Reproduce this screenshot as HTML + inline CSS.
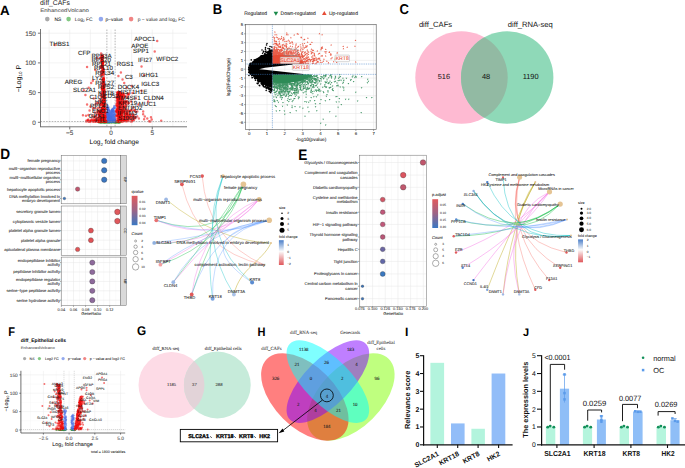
<!DOCTYPE html>
<html><head><meta charset="utf-8"><style>
html,body{margin:0;padding:0;background:#fff;width:685px;height:468px;overflow:hidden;}
svg{display:block;}
</style></head><body>
<svg width="685" height="468" viewBox="0 0 685 468" font-family="'Liberation Sans', sans-serif" text-rendering="geometricPrecision">
<rect width="685" height="468" fill="#fff"/>
<text transform="translate(0 14.6) scale(1 1)" font-size="13.4" font-weight="bold">A</text>
<text x="40.1" y="4.5" font-size="6.8" fill="#222">diff_CAFs</text>
<text x="40.2" y="11.6" font-size="5" fill="#555" textLength="48.8" lengthAdjust="spacingAndGlyphs" stroke="#555" stroke-width="0.07">EnhancedVolcano</text>
<circle cx="47.3" cy="19.1" r="2.3" fill="#a9a9a9"/>
<text x="54.5" y="20.8" font-size="4.9" fill="#222" stroke="#222" stroke-width="0.07">NS</text>
<circle cx="68.6" cy="19.1" r="2.3" fill="#83c883"/>
<text x="74.7" y="20.8" font-size="4.9" fill="#222">Log<tspan font-size="3.3" dy="1">2</tspan><tspan dy="-1"> FC</tspan></text>
<circle cx="100.9" cy="19.1" r="2.3" fill="#92a8ee"/>
<text x="105.4" y="20.8" font-size="4.9" fill="#222" stroke="#222" stroke-width="0.07">p−value</text>
<circle cx="131.1" cy="19.1" r="2.3" fill="#f08484"/>
<text x="137.7" y="20.8" font-size="4.9" fill="#222">p − value and log<tspan font-size="3.3" dy="1">2</tspan><tspan dy="-1"> FC</tspan></text>
<line x1="49.12" y1="29.5" x2="49.12" y2="126.8" stroke="#ebebeb" stroke-width="0.6"/>
<line x1="69.75" y1="29.5" x2="69.75" y2="126.8" stroke="#ebebeb" stroke-width="0.6"/>
<line x1="90.38" y1="29.5" x2="90.38" y2="126.8" stroke="#ebebeb" stroke-width="0.6"/>
<line x1="111" y1="29.5" x2="111" y2="126.8" stroke="#ebebeb" stroke-width="0.6"/>
<line x1="131.62" y1="29.5" x2="131.62" y2="126.8" stroke="#ebebeb" stroke-width="0.6"/>
<line x1="152.25" y1="29.5" x2="152.25" y2="126.8" stroke="#ebebeb" stroke-width="0.6"/>
<line x1="172.88" y1="29.5" x2="172.88" y2="126.8" stroke="#ebebeb" stroke-width="0.6"/>
<line x1="40.5" y1="122.3" x2="187" y2="122.3" stroke="#ebebeb" stroke-width="0.6"/>
<line x1="40.5" y1="107.45" x2="187" y2="107.45" stroke="#ebebeb" stroke-width="0.6"/>
<line x1="40.5" y1="92.6" x2="187" y2="92.6" stroke="#ebebeb" stroke-width="0.6"/>
<line x1="40.5" y1="77.75" x2="187" y2="77.75" stroke="#ebebeb" stroke-width="0.6"/>
<line x1="40.5" y1="62.9" x2="187" y2="62.9" stroke="#ebebeb" stroke-width="0.6"/>
<line x1="40.5" y1="48.05" x2="187" y2="48.05" stroke="#ebebeb" stroke-width="0.6"/>
<line x1="40.5" y1="33.2" x2="187" y2="33.2" stroke="#ebebeb" stroke-width="0.6"/>
<line x1="106.88" y1="29.5" x2="106.88" y2="126.8" stroke="#888" stroke-width="0.6" stroke-dasharray="1.6,1.2"/>
<line x1="115.12" y1="29.5" x2="115.12" y2="126.8" stroke="#888" stroke-width="0.6" stroke-dasharray="1.6,1.2"/>
<path d="M106.02 122.05h0M101.92 121.73h0M117.85 122.02h0M111.01 121.66h0M118.14 121.87h0M115.82 121.87h0M101.76 121.94h0M110.89 121.82h0M98.7 122.1h0M101.16 122.18h0M105.78 121.79h0M111.36 121.54h0M116.88 121.95h0M103.35 122.07h0M99.7 121.85h0M99 122.01h0M114.97 121.98h0M118.8 122.28h0M105.18 122.18h0M105.27 121.57h0M115.87 122.26h0M108.44 121.99h0M113.25 121.53h0M104.6 122.21h0M108.96 122.1h0M102.65 121.64h0M111.76 122.08h0M114.03 121.74h0M104.39 122.14h0M113.61 122.11h0M103.56 121.87h0M110.37 121.96h0M113.91 121.98h0M116.3 122.28h0M110.73 121.76h0M107.26 122.02h0M100.36 122.14h0M107.31 122.29h0M98.66 121.73h0M109.72 122.11h0M98.71 121.93h0M103.32 121.55h0M101.52 122.14h0M112.03 121.62h0M105.28 122.12h0M103.87 122.09h0M118.58 122.11h0" stroke="#228b22" stroke-width="2.6" stroke-linecap="round" stroke-opacity="0.6" fill="none"/>
<path d="M114.05 121.92h0M107.28 121.64h0M101.07 122.13h0M112.22 121.72h0M103.11 122.2h0M99.61 121.62h0M119.06 121.85h0M103.06 122.19h0M111.66 121.91h0M109.71 122.08h0M99.06 121.88h0M103.87 122.07h0M99.7 121.76h0M101.68 122.07h0M115 122.22h0M105.01 121.62h0M109.78 122.11h0M101.68 121.74h0M116.43 122.2h0M102.53 121.89h0M110.78 121.69h0M110.6 121.82h0M113.43 122.09h0M113.85 121.77h0M119.09 122.29h0M109.33 122.01h0M99.63 121.85h0M118.45 121.67h0M103.21 122.21h0M99.66 121.97h0M102.55 121.93h0M100.18 122.28h0M117.3 122.15h0M106.7 121.93h0M114.95 122.13h0M119.68 122.29h0M105.01 121.64h0M112.57 121.61h0M109.61 121.6h0M108.41 122.25h0M118.55 122.25h0M109.17 121.96h0M104.93 122.25h0M109.65 122.09h0M106.59 121.73h0M101.36 122h0M116.65 122.06h0" stroke="#228b22" stroke-width="2.6" stroke-linecap="round" stroke-opacity="0.6" fill="none"/>
<path d="M114.77 122.18h0M103.83 122.11h0M115.77 122.1h0M120.39 122.07h0M105.93 122.19h0M111.9 121.96h0M108.85 121.83h0M98.9 121.66h0M118.71 122.14h0M108.77 121.77h0M118.84 121.58h0M108.61 121.91h0M103.58 121.62h0M112.01 122.09h0M108.08 122.25h0M98.93 121.8h0M104.25 122.26h0M108.82 121.9h0M105.21 121.72h0M110.61 121.91h0M99.75 121.88h0M114.3 121.61h0M101.9 122.25h0M112.26 122h0M105.77 121.86h0M100.02 122.08h0M105.39 121.65h0M105.96 121.86h0M103.95 122.13h0M103.1 121.77h0M117.94 122.07h0M117.39 122.04h0M109.4 121.88h0M111.74 122.19h0M108.44 122.07h0M119.74 122.27h0M117.36 121.58h0M101.02 121.66h0M118.12 122.26h0M106.66 121.98h0M119.67 121.92h0M107.01 121.62h0M117.43 121.92h0M110.46 121.91h0M102.31 121.53h0M106.91 121.77h0" stroke="#228b22" stroke-width="2.6" stroke-linecap="round" stroke-opacity="0.6" fill="none"/>
<path d="M111.28 117.64h0M109.76 115.97h0M114.72 107.67h0M112.25 120.31h0M109.65 120.52h0M109.13 117.1h0M107.15 106.88h0M109.6 120.2h0M107.71 119.02h0M113.61 120.28h0M108.84 121.3h0M112.27 110.33h0M114.43 106.16h0M107.75 113.93h0M110.29 112.69h0M108.6 117.49h0M111.47 115.8h0M109.27 120.99h0M111.62 114.04h0M114.67 120.75h0M114.95 118.32h0M108.1 119.86h0M114.64 120.34h0M110.66 120.13h0M112.66 112.45h0M110.18 112.93h0M107.69 115.77h0M110.46 113.42h0M114.54 118.79h0M109.38 120.6h0M107.37 105.76h0M110.3 113.03h0M107.7 107.99h0M110.83 120.81h0M108.3 107.24h0M110.5 115.24h0M111.04 115.9h0M108.42 108.43h0M107.51 121.45h0M110.23 114.24h0M109.35 119.12h0M107.79 118.98h0M110.44 115.77h0M113.58 120.02h0M112.18 112.77h0M108.7 118.76h0M107.41 113.76h0M109.09 121.32h0M113.58 116.9h0M107.3 114.39h0M112.61 119.93h0M107.61 120.38h0M111.98 117.55h0M107.47 121.34h0M108.13 115.73h0M109.76 118.72h0M112.58 109.32h0M108.89 121.16h0M108.66 114.87h0M114.83 119.46h0M108.58 119.74h0M113.1 116.04h0M109.98 120.73h0M114.12 107.59h0M109.92 119.6h0" stroke="#4169e1" stroke-width="2.6" stroke-linecap="round" stroke-opacity="0.6" fill="none"/>
<path d="M107.89 116.09h0M110.25 121.51h0M110.3 114.6h0M108.74 120.96h0M114.86 121.17h0M108.32 118.13h0M108.03 119.05h0M113.26 119.76h0M110.37 120.27h0M113.6 108.5h0M111.9 111.23h0M112.49 114.58h0M111.83 120.95h0M113.32 121.36h0M110.14 119.84h0M114.7 114.1h0M113.46 111.51h0M113.4 110.88h0M114.03 112.01h0M107.94 114.29h0M107.69 111.18h0M111.62 119.94h0M109.78 117.25h0M110.29 119.12h0M112.18 119.4h0M112.23 110.06h0M114.9 119.88h0M111.14 117.15h0M112.11 115.46h0M109.52 118.01h0M110.45 111.97h0M112.54 121.27h0M110.81 119.47h0M108.65 110.68h0M107.15 114.11h0M114.57 120.61h0M114.24 107.74h0M109 114.37h0M108.59 115.8h0M110.74 113.09h0M109.9 120.78h0M109.06 120.86h0M110.76 118.07h0M108.79 119.07h0M108.96 114.58h0M111.35 111.6h0M107.26 115.35h0M108.48 119.76h0M111.31 115.47h0M107.56 115.74h0M111.73 119.63h0M107.73 110.76h0M109.52 117.23h0M113.29 109.1h0M112.3 121.51h0M107.07 117.32h0M108.6 110.51h0M112.23 114.66h0M114.5 121.23h0M112.8 110.63h0M107.84 108.89h0M114.53 112.12h0M109.28 120.16h0M108.3 115.71h0M113.49 120.16h0" stroke="#4169e1" stroke-width="2.6" stroke-linecap="round" stroke-opacity="0.6" fill="none"/>
<path d="M109.19 120.55h0M113.9 120.04h0M113.76 120.45h0M114.5 120.94h0M113.86 119.4h0M107.25 112.85h0M107.24 118.07h0M109.67 117.64h0M113.69 118.81h0M109.15 120.77h0M114.02 115.17h0M112.59 121.07h0M108.02 117.47h0M109.49 119.72h0M113.11 111.36h0M111.98 119.6h0M110.1 120.11h0M111.55 119.18h0M110.89 120.88h0M113.59 121.3h0M109.42 118.41h0M112.33 111.27h0M111.94 119.46h0M109.35 115.94h0M114.46 121.11h0M113.99 121.05h0M107.96 119.48h0M107.9 121.34h0M107.75 121.31h0M109.51 119.37h0M107.1 121.36h0M109.9 119.52h0M112.57 119.93h0M111.6 118.77h0M109.13 120.09h0M108.92 115.49h0M113.53 118.95h0M112.54 110.85h0M110.4 121.33h0M113.05 117.22h0M110.79 121.22h0M110.85 120.85h0M109.5 118.36h0M113.26 111.07h0M112.66 118.72h0M108.2 121.3h0M107.98 113.91h0M108.34 120.46h0M113.8 115.39h0M108.23 110.27h0M109.09 120.02h0M111.23 118.46h0M114.86 114.94h0M107.44 121.49h0M113.93 119.9h0M109.14 119.03h0M111.91 121.24h0M114.13 116.57h0M110.1 119.38h0M109.18 110.25h0M113.45 121.25h0M107.84 118.42h0M108.26 118.92h0M112.38 120.93h0M111.32 117.07h0" stroke="#4169e1" stroke-width="2.6" stroke-linecap="round" stroke-opacity="0.6" fill="none"/>
<path d="M114.85 121.18h0M110.3 112.01h0M114.72 121.12h0M114.27 120.67h0M114.58 111.58h0M111.74 120.14h0M110.22 117.42h0M109.21 113.81h0M110.37 118.26h0M113.29 119.4h0M110.51 111.17h0M109.04 121.36h0M110.14 120.69h0M111.33 116.83h0M113.99 120.66h0M114.88 120.46h0M114.8 115.29h0M112.26 109.89h0M112.56 112.23h0M111.9 120.15h0M108.07 119.02h0M111.61 121.49h0M110.53 116.44h0M111.1 119.08h0M113.42 118.05h0M111.02 114.97h0M109.77 119.91h0M114.57 118.63h0M110.54 121.13h0M110.89 116.01h0M107.83 108.48h0M110.63 114.8h0M112.68 118.41h0M113.18 109.88h0M110.96 117.04h0M110.29 119.77h0M114.04 112.93h0M112.32 109.75h0M108.64 115.77h0M109.88 120.53h0M113.92 115.88h0M108.24 113.33h0M110.85 119.69h0M111.51 119.41h0M108.19 114.99h0M111.31 111.99h0M109.9 115.56h0M111.35 118.72h0M107.33 116.95h0M107.79 113.74h0M107.17 112.95h0M111.66 113.67h0M110.82 113.03h0M107.12 114.79h0M111.43 119.51h0M108.33 119.05h0M107.16 108.25h0M109.51 119.55h0M107.68 114.85h0M112.97 115h0M111.25 120.65h0M111.6 112.08h0M109.01 117.03h0M111.25 120.74h0M109.65 110.72h0" stroke="#4169e1" stroke-width="2.6" stroke-linecap="round" stroke-opacity="0.6" fill="none"/>
<path d="M102.08 114.04h0M129.77 114.28h0M103.82 116.49h0M103.67 84.5h0M103.32 95.48h0M131.62 86.07h0M102.43 65.36h0M91.4 120.32h0M102.41 60.19h0M122.32 97.55h0M103.38 103.15h0M123.03 117.31h0M118.74 121.13h0M103.95 82.91h0M119.91 92.04h0M135.07 117.63h0M90.42 106.56h0M126.06 119.38h0M94.83 120.19h0M134.29 110.21h0M122.33 110.58h0M128.45 103.25h0M127.06 109.86h0M103.82 101.2h0M101.92 109.79h0M120 120.72h0M103.83 87.44h0M119.05 118.02h0M104.66 96.97h0M120.43 96.01h0M98.8 114.88h0M129.55 111.31h0M118.91 98.07h0M120.85 94.07h0M125.8 101.86h0M120.41 115.38h0M124.46 111.6h0M103.4 103.16h0M116.48 110.82h0M120.16 92.85h0M124.72 113.86h0M103.99 80.17h0M103.35 88.27h0M122.01 102.56h0M104.35 94.86h0M100.1 113.12h0M122.33 102.79h0M117.24 114.23h0M103.27 117.71h0M135.75 98.54h0M95.65 121.03h0M104.12 111.45h0M120.89 100.7h0M100.55 121.52h0M119.19 121.39h0M101.58 109.23h0M121.4 114.41h0M133.24 116.93h0M119.58 114.04h0M103.6 106.7h0M123.22 118.34h0M100.47 105.77h0M120.23 120.17h0M119.13 101.68h0M120.57 97.86h0M131.14 117.14h0M98.62 120.51h0M103.21 68.63h0M118.92 121.47h0M123.03 113.13h0M124.8 116.18h0M105.2 104.6h0M118.25 100.52h0M103.6 82.61h0M127.01 113.77h0M122.67 107.74h0M100.68 104.45h0M119.82 101.07h0M102.04 119.84h0M102.63 55.13h0M121.61 96.65h0M154.72 51.61h0M101.89 104.95h0M118.7 107.26h0M104.43 89.37h0M118.69 116.24h0M116.74 101.29h0M101.03 121.06h0M103.15 103.12h0M118.82 96.2h0M122.41 111.29h0M121.2 114.05h0M124.06 94.38h0M117.59 101.47h0M103.43 79.23h0M101.65 56.3h0M119.9 102.71h0M124.1 119.96h0M103.33 105.42h0M118.02 103.71h0M100.33 120.99h0M123.27 97.63h0M118.35 113.37h0M118.13 115.33h0M88.72 87.85h0M95.42 104.42h0M102 67.37h0M103.27 71.83h0M148.12 101.51h0M123.31 106.43h0M127.73 93.42h0M117.94 93.63h0M116.91 113.55h0M100.85 57.21h0M101.1 121.53h0M118.5 118.82h0M126.27 118.75h0M118.72 99.96h0M101.59 114.46h0M104.18 84.1h0M103.44 79.55h0M117.04 114.9h0M118.54 99.41h0M130.89 117.91h0M120.32 121.23h0M120.93 109h0M103.23 82.35h0M117.87 110.95h0M122.31 117.03h0M102.91 116.37h0M102.86 88.03h0M119.38 118.11h0M100.7 121.52h0M102 121.45h0M102.86 63.56h0M117.42 97.59h0M129.49 116.69h0M120.73 99.77h0M100.79 121.08h0M122.33 120h0M104.67 97.91h0M105.56 121.49h0M102.53 111.65h0M103.09 62.41h0M123.15 111.77h0M121.75 103.65h0M105.16 117.82h0M104.59 106.78h0M121.06 101.42h0M104 110.78h0M104.64 118.3h0M125.07 120.87h0M92.28 115.52h0M118.55 120.84h0M117.11 111.36h0M123.87 98.07h0M117.79 100.14h0M119.71 118.39h0M102.33 108.16h0" stroke="#ee0000" stroke-width="2.5" stroke-linecap="round" stroke-opacity="0.55" fill="none"/>
<path d="M102.68 77.91h0M116.92 111.42h0M147.27 118.45h0M104.45 102.52h0M121.67 115.17h0M99.64 111.69h0M99.54 121.51h0M117.87 92.98h0M123.15 109.74h0M118.7 120.23h0M90.22 120.78h0M125.44 113.03h0M103.44 84.64h0M99.91 121.37h0M122.34 102.42h0M101.1 53.4h0M101.72 93.51h0M119.12 96.26h0M120.14 103.53h0M131.91 109.91h0M104.7 116.04h0M102.76 68.63h0M103.88 79.4h0M150.98 117.31h0M118.65 110.6h0M118.44 113.58h0M96.97 58.15h0M106.3 121.51h0M118.2 109.47h0M104.24 96.85h0M118.41 113.7h0M130.11 118.18h0M104.77 107.98h0M120.09 107.46h0M125.8 110.61h0M93.84 120.72h0M102.75 56.37h0M103.68 90.22h0M119.35 100.48h0M54.9 45.08h0M118.95 119.68h0M88.58 121.53h0M127.73 120.5h0M118.55 119.9h0M102.4 88.86h0M100.06 119.73h0M143.18 111.61h0M103.08 82.24h0M104.4 100.06h0M116.43 121.4h0M99.11 111.33h0M100.83 113.18h0M124.09 119.84h0M117.54 115.21h0M117.3 108.12h0M102.24 63.21h0M135.42 118.15h0M104.47 115.53h0M94.79 112.52h0M101.78 74.54h0M117.4 112.12h0M104.75 120.11h0M93.84 120.66h0M118.09 107.66h0M93.74 121.09h0M127.01 121.29h0M121.41 112.29h0M118.89 99.88h0M103.98 85.64h0M99.84 58.08h0M104.64 115.69h0M100.68 104.71h0M120.56 93.17h0M120.96 120.32h0M95.23 116.23h0M126.91 113.98h0M101.71 87.17h0M101.08 103.4h0M104.1 85.49h0M87.95 120.37h0M96.16 121.19h0M101.25 116.56h0M102.46 59.51h0M104.04 84.04h0M118.42 75.97h0M99.79 100.62h0M127.39 101.75h0M103.78 92.67h0M124.49 110.36h0M120.24 113.25h0M120.81 103.4h0M103 104.76h0M122.9 93.9h0M103.9 119.76h0M127.61 94.2h0M102.67 59.74h0M101.59 99.53h0M102.22 109.66h0M102.84 111.22h0M120.05 98.99h0M118.1 92.78h0M124.62 102.18h0M121.67 104.41h0M125.95 120.16h0M118.4 115.77h0M118.03 94.04h0M103.59 105.16h0M127.2 117.32h0M105.03 113.03h0M99.53 121.18h0M122.88 104.96h0M121.92 95.7h0M118.4 99.01h0M118.78 100.7h0M105.53 116.8h0M118.83 119.6h0M93.31 121.45h0M104.83 109.46h0M106.01 121.17h0M124.2 83.1h0M143.15 114.35h0M119.53 99.2h0M100.95 111.03h0M120 107.56h0M106.05 121.16h0M103.66 107.68h0M130.79 118.5h0M125.16 116.42h0M93.88 117.27h0M102.41 60.12h0M119.86 109.19h0M104.69 91.35h0M116.95 108.92h0M121.96 98.49h0M144.79 116.62h0M128.71 103.12h0M103.16 97.07h0M98.5 117.54h0M103.53 88.88h0M122.1 94.44h0M103.43 101.01h0M96.03 121.51h0M90.21 121.3h0M117.96 117.49h0M127.59 117.44h0M138.22 104.48h0M118.65 98.24h0M119.65 116.73h0M102.85 116.6h0M118.28 120.45h0M102.32 107.63h0M102.4 118.04h0M121.95 112.67h0M102.05 82.87h0M103.35 78.55h0M122.88 106.01h0M117.92 94.3h0M117.06 92.56h0M118.26 113.8h0" stroke="#ee0000" stroke-width="2.5" stroke-linecap="round" stroke-opacity="0.55" fill="none"/>
<path d="M120.89 101.99h0M101.61 117.47h0M103.77 106.18h0M99.3 121.35h0M125.64 105.43h0M119.79 94.98h0M102.02 89.34h0M103.15 97.22h0M105.29 117.22h0M93.02 108.18h0M124.4 103.99h0M104.03 86.54h0M125.51 108.11h0M104.18 95.8h0M83.78 90.22h0M103.19 64.78h0M102.08 70.08h0M117.16 100.45h0M124.77 108.65h0M104.78 119.56h0M122.54 116.86h0M102.73 65.2h0M133.41 119.46h0M105.47 115.37h0M103.3 90.59h0M117.49 111.2h0M116.55 104.79h0M87.08 67.06h0M119.53 110.93h0M103.75 92.1h0M105.26 119.31h0M98.97 120.2h0M119.69 112h0M123.57 120.96h0M98.25 111.4h0M102.88 62.74h0M102.97 74.57h0M119.26 111.68h0M125.55 95.93h0M126.26 113.97h0M128.03 115.16h0M101.38 55.45h0M104.54 91.42h0M103.07 96.73h0M121.56 112.97h0M103.47 71.67h0M120.19 117.18h0M104.2 87.58h0M117.52 96.97h0M117.12 103.22h0M104.04 84.86h0M102.83 65.93h0M105.44 112.76h0M102.67 116.87h0M96.58 118.06h0M85.42 94.98h0M103.73 86.46h0M106.01 121.42h0M102.54 89.45h0M127.94 112.74h0M98.4 103.11h0M117.59 102.24h0M117.15 103.56h0M118.25 110.51h0M103.11 99.54h0M101.02 57.93h0M122.59 121.41h0M104.58 95.78h0M124.31 104.86h0M93.67 98.54h0M103.06 95.81h0M122.85 111.77h0M102.63 62.46h0M104.59 115.59h0M103.9 106.44h0M104.11 121.3h0M88.43 114.92h0M104.56 104.5h0M118.32 121.41h0M103.2 68.38h0M122.19 120.9h0M102.56 83.65h0M102.18 57.48h0M117.15 100.53h0M116.62 110.15h0M118.62 96.95h0M120.92 114.56h0M119.63 95.26h0M126.3 101.04h0M99.16 114.83h0M103.12 65.33h0M119.29 105.99h0M116.75 119.25h0M102.99 105.67h0M123.93 107.16h0M95.36 121.47h0M116.77 105.03h0M125.12 119.93h0M123.05 120.49h0M124.51 117.73h0M102.72 57.26h0M120.39 97.82h0M126.61 114.95h0M98.17 120.68h0M128.46 95.03h0M118.83 97.16h0M104.5 95.33h0M117.59 108.58h0M99.52 121.34h0M101.55 120.71h0M102.75 62.61h0M117.96 99.89h0M90.55 121.48h0M101.36 119.62h0M118.44 102.3h0M118.01 105.83h0M102.33 57.66h0M121.53 96.39h0M123.51 111.29h0M103.53 87.99h0M100.97 67.65h0M102.23 56.11h0M102.7 110.41h0M87.08 104.48h0M118.23 101.83h0M103.63 95.71h0M98.85 117.44h0M118.02 92.22h0M121.23 114.07h0M122.86 102.56h0M100.73 96.35h0M121.64 110.04h0M100.61 117.35h0M100.71 121.47h0M137.29 111.57h0M132.8 114.22h0M121.66 94.95h0M105.47 121.39h0M120.74 104.46h0M120.9 72.4h0M119.9 96.89h0M121.02 117.65h0M99.6 110.75h0M120.58 106.25h0M101.82 60.28h0M119.51 92.19h0M117.56 103.14h0M104.36 110.26h0M157.2 40.92h0M105.14 121.48h0M121.67 110.9h0M100.68 119.21h0M103.53 73.77h0M102.87 111.41h0M117.17 95.93h0M118.56 103.96h0M104.36 102h0M92.85 80.72h0M95.71 121.13h0" stroke="#ee0000" stroke-width="2.5" stroke-linecap="round" stroke-opacity="0.55" fill="none"/>
<path d="M122.92 94.09h0M101.16 93.89h0M103.81 78.99h0M95.33 70.03h0M119.79 118.38h0M118.24 109.21h0M103.53 78.91h0M102.8 63.08h0M101.53 60.08h0M102.37 66.92h0M118.48 94.93h0M94.78 117.24h0M116.72 97.46h0M118.64 92.63h0M120.68 97.81h0M104.28 95.87h0M102.38 109.14h0M103.95 107.02h0M93.15 121.53h0M129.28 116.78h0M128.66 118.95h0M117.12 106.09h0M120.22 96.96h0M103.55 79.79h0M98.99 107.83h0M117.21 98.72h0M123.6 95.49h0M118.25 114.91h0M103.71 109.92h0M119.43 97.36h0M117.34 96.7h0M101.82 97.22h0M101.53 118.38h0M128.64 115.39h0M103.64 81.29h0M86.19 121.53h0M102.34 56.3h0M122.13 97.45h0M89.55 110.42h0M119.52 93.46h0M118.73 116.23h0M131.74 120.75h0M104.14 117.76h0M103.55 104.74h0M101.5 93.2h0M134.82 116.63h0M100.03 113.65h0M101.79 59.13h0M122.02 93.73h0M103.29 120.85h0M124.03 111.86h0M103.21 80.2h0M89.08 121.42h0M101.54 116.48h0M124.46 121.02h0M101.98 86.54h0M102.47 63.22h0M122.88 104.61h0M123.33 93.27h0M97.46 108.15h0M103.23 104.94h0M121.72 120.57h0M101.44 110.07h0M126.53 97.36h0M135.69 111.99h0M100.88 117.38h0M103.43 119.44h0M106.08 121.25h0M125.14 116.13h0M102.61 118.62h0M138.88 118.61h0M133.28 107.45h0M94.97 120.62h0M94.76 121.37h0M102.64 102.4h0M103.04 80.9h0M95.71 120.71h0M99.87 121.3h0M127.65 118.77h0M102.13 118.36h0M119.39 120.78h0M101.23 113.21h0M130.02 110.74h0M104.46 115.73h0M93.58 119.52h0M120.77 104.13h0M104.56 106.53h0M102.05 73.07h0M120.67 118.21h0M101.34 67.49h0M124.48 101.13h0M127.11 117.54h0M119.76 95.11h0M102.18 66.24h0M102.92 104.76h0M102.77 102.31h0M129.61 115.28h0M103.23 70.64h0M102.7 114.83h0M121.22 98.26h0M103.88 88.54h0M122.49 110.37h0M105.39 109.25h0M121.86 115.13h0M103.14 103.28h0M99.39 120.67h0M126.49 121.08h0M103.27 91.25h0M121.94 111.41h0M103.49 79.94h0M125.58 121.3h0M96.19 116.3h0M126.62 112.51h0M104.18 121.14h0M121.22 120.34h0M127.2 119.23h0M103.48 106.02h0M131.08 101.59h0M102.64 64.22h0M132.54 93.05h0M119.57 111.21h0M99.38 114.8h0M123.96 102.22h0M100.73 71.71h0M117.87 121.25h0M103.62 79.5h0M119.3 119.96h0M104.88 102.32h0M118.72 103.02h0M103.11 116.01h0M102.82 57.82h0M105.09 111.9h0M95.78 120.29h0M103.11 93.22h0M103.06 121.49h0M98.46 121.41h0M105.14 120.69h0M117.63 112.67h0M104.78 92.46h0M104.19 98.17h0M128.99 116.97h0M103.59 93.62h0M118.21 97.17h0M119.3 114.47h0M102.05 90.82h0M103.35 69.01h0M102.24 57.71h0M88.03 120.93h0M104.66 105.3h0M97.52 121.49h0M119.03 117.42h0M101.65 115.36h0M122.55 79.53h0M123.19 111.53h0M121.56 99.22h0M118.02 109.26h0M102.29 84.6h0M123.8 119.16h0M149.06 121.36h0" stroke="#ee0000" stroke-width="2.5" stroke-linecap="round" stroke-opacity="0.55" fill="none"/>
<path d="M102.24 60.5h0M104.6 100.12h0M103.26 70.34h0M102.7 115.94h0M100.62 120.01h0M118.71 95.55h0M103.76 105.57h0M126.17 102.06h0M101.23 116.85h0M98.9 110.83h0M116.79 97.86h0M119.86 94.17h0M103.4 114.98h0M125.11 117.41h0M102.51 118.02h0M119.31 105.45h0M122.46 119.71h0M132.57 118.73h0M100.32 120.59h0M117.24 98.36h0M102.28 59.78h0M99.14 115.98h0M104.29 121.49h0M97.3 119.52h0M122.29 119.82h0M103.04 92.67h0M117.23 116.25h0M102.97 101.86h0M118.27 96h0M119.14 121.21h0M103.38 79.59h0M121.07 121.28h0M102.82 62.04h0M102.66 92.68h0M103.8 86.61h0M120.86 103.35h0M133.12 116.31h0M117.46 108.75h0M118.13 96.03h0M118.18 102.5h0M102.8 72.6h0M103.59 101.96h0M127.99 118.1h0M102.58 58.76h0M117.8 94.18h0M118.66 106h0M121.28 121.12h0M103.63 109.37h0M117.86 111.75h0M119.15 98.54h0M102.39 121.5h0M91.15 121.04h0M102.88 72.22h0M104.64 118.62h0M82.95 115.17h0M103.54 116.33h0M105.89 121.52h0M100.2 121.28h0M144.1 119.22h0M117.93 106.32h0M122.8 100.56h0M103.61 87.39h0M132.64 120.11h0M97.59 112.33h0M122.67 107.86h0M103.9 121.37h0M103.96 109.65h0M100.48 121h0M103.65 119.2h0M96.71 119.51h0M119.84 115.65h0M122.34 95.74h0M117.5 109.37h0M103.63 93.53h0M103.96 113.2h0M95.2 120.58h0M118.58 106.23h0M100.58 66.39h0M141.53 90.82h0M117.56 93.24h0M119.63 92.24h0M97.77 111.25h0M119.77 114.86h0M119.34 117.14h0M120.62 111.4h0M104.02 95.64h0M127.91 110.9h0M104.15 96.44h0M117.38 109.43h0M105.11 108.91h0M104.55 116.59h0M125.5 107.13h0M101.47 101.57h0M100.48 121.44h0M120.57 118.39h0M120.08 93.12h0M118.9 97.46h0M101.02 117.72h0M103.8 82.12h0M103.21 112.06h0M104.82 115.26h0M121.31 113.61h0M122.59 111.9h0M102.78 72.2h0M103.34 92.26h0M103.59 90.34h0M98.84 121.38h0M104.66 100.64h0M104.55 95.15h0M103.11 87.09h0M144 75.37h0M103.74 99.19h0M101.97 108.75h0M101.52 108.03h0M119 95.23h0M99.06 114.72h0M119.84 114.03h0M119.54 96.69h0M118.38 111.45h0M141.53 66.46h0M120.14 94.42h0M117.62 96.5h0M101.95 108.1h0M122.9 121.28h0M88.3 119.56h0M103.61 78.28h0M102.33 102.65h0M103.68 106.84h0M125.64 102.94h0M118.17 121.42h0M100.1 117.41h0M151.71 119.39h0M97 102.93h0M101.63 102.23h0M117.78 114.95h0M118.15 100.48h0M101.97 117.81h0M102.35 71.12h0M118.44 110.21h0M118.74 108.37h0M103.92 100.38h0M100.71 75.75h0M103.26 89.83h0M118.93 108.34h0M118.21 111.79h0M104.7 112.79h0M103.38 105.22h0M101.76 118.01h0M104.37 99.78h0M121.69 120.75h0M118.33 101.15h0M101.52 121.18h0M100.52 112.04h0M101.65 88.8h0M119.76 107.04h0M118.5 114.5h0M91.74 119.24h0M133.9 120.16h0" stroke="#ee0000" stroke-width="2.5" stroke-linecap="round" stroke-opacity="0.55" fill="none"/>
<path d="M118.09 115.7h0M119.31 95.5h0M118.94 98.24h0M102.74 65.75h0M116.14 116.28h0M100.52 104.59h0M118.73 108.21h0M117.11 94.81h0M103.71 84.66h0M122.29 115.69h0M100.96 120.51h0M122.06 111.25h0M103.02 90.64h0M85.98 115.63h0M133.1 115.2h0M122.73 116.01h0M134.5 110.46h0M102.07 108.8h0M102.92 69.72h0M118.06 94.47h0M120.9 96.45h0M116.87 103.64h0M132.51 115.42h0M122.23 119.7h0M122.7 119.21h0M102.47 113.33h0M103.25 79.67h0M102.96 95.06h0M101.93 102.8h0M126.99 116.15h0M118.32 118.91h0M125.14 114.14h0M102.94 68.18h0M98.27 119.55h0M121.02 109.29h0M103.46 97.13h0M103.97 91.32h0M119.59 106.6h0M105.45 119.62h0M119.02 118.06h0M104.52 98h0M119.01 115.67h0M120.25 97.76h0M126.59 104.15h0M104.82 99.04h0M103.34 73.43h0M99.35 119.77h0M128.13 97.84h0M102.85 115.87h0M125.88 106.01h0M96.65 113.82h0M150.3 121.42h0M119.2 114.52h0M102.6 88.59h0M117.63 98.52h0M103.14 93.76h0M102.82 63.21h0M91.2 83.1h0M103.79 102.45h0M103.46 117.99h0M101.4 65.91h0M103.46 100.49h0M101.23 111.24h0M101.61 110.9h0M102.93 71.98h0M104.12 84.07h0M104.18 120.27h0M100.79 61.47h0M98.39 113.6h0M97.97 121.52h0M104.28 84.49h0M102.18 79.76h0M100.97 112.51h0M120.46 97.47h0M118.95 92.77h0M102.73 101.63h0M102.36 56.18h0M120.21 101.84h0M103.43 69.91h0M101.82 65.77h0M104.61 98.57h0M117.2 106.1h0M94.44 121.03h0M118.67 105.2h0M104.74 121.52h0M94.81 108.22h0M137.18 116.54h0M123.47 102.27h0M104.2 89.38h0M103.46 74.04h0M103.29 118.94h0M104.43 95.57h0M130.6 115.46h0M122.49 115.85h0M118.85 117.6h0M118.68 93.81h0M103.2 88.89h0M99.16 112.61h0M103.05 117.55h0M123.11 107.12h0M119.43 98.23h0M104.86 118.7h0M119.35 118.39h0M103.45 86.13h0M101.98 74.63h0M121.56 121.33h0M103.35 85.53h0M129.15 93.79h0M122.38 116.14h0M119.2 98h0M102.72 109.31h0M103.48 87.05h0M103.57 116.91h0M103.27 104.36h0M117.54 94.77h0M99.48 120.64h0M116.14 111.87h0M103.94 106.21h0M128.48 120.15h0M122.32 98.88h0M103.03 119.14h0M102.66 66.05h0M121.51 113.46h0M103.72 76.08h0M131.86 121.41h0M101.83 117.4h0M130.87 121.52h0M117.82 92.48h0M103.1 68.62h0M121.77 120.52h0M126.57 113.63h0M119.17 112.63h0M122.67 99.9h0M99.29 121.14h0M103.57 117.92h0M124.6 110.3h0M130.76 110.52h0M128.59 120.98h0M102.63 61.5h0M123.99 96.4h0M103.72 88.16h0M102 96.41h0M102.46 107.98h0M103.77 77.73h0M120.36 98.55h0M121.17 99.15h0M100.94 120.05h0M96.17 120.83h0M102.94 120.68h0M93.18 120.71h0M116.8 110.31h0M116.59 105.42h0M121.62 117.98h0M86.58 120.48h0M121.76 106.68h0M126.97 115.94h0M126.67 87.85h0M161.2 120.65h0" stroke="#ee0000" stroke-width="2.5" stroke-linecap="round" stroke-opacity="0.55" fill="none"/>
<line x1="40.5" y1="121.5" x2="187" y2="121.5" stroke="#888" stroke-width="0.6" stroke-dasharray="1.6,1.2"/>
<text x="49.4" y="46.4" font-size="6.2" fill="#1a1a1a" stroke="#1a1a1a" stroke-width="0.09">THBS1</text>
<text x="78" y="55.4" font-size="6.2" fill="#1a1a1a" stroke="#1a1a1a" stroke-width="0.09">CFP</text>
<text x="91.4" y="57.6" font-size="6.2" fill="#1a1a1a" stroke="#1a1a1a" stroke-width="0.09">RPS3A</text>
<text x="91.4" y="61.6" font-size="6.2" fill="#1a1a1a" stroke="#1a1a1a" stroke-width="0.09">RPS20</text>
<text x="92" y="65.9" font-size="6.2" fill="#1a1a1a" stroke="#1a1a1a" stroke-width="0.09">RPL21</text>
<text x="94" y="70.4" font-size="6.2" fill="#1a1a1a" stroke="#1a1a1a" stroke-width="0.09">RPL10</text>
<text x="95.3" y="74.9" font-size="6.2" fill="#1a1a1a" stroke="#1a1a1a" stroke-width="0.09">RPL34</text>
<text x="92" y="80.3" font-size="6.2" fill="#1a1a1a" stroke="#1a1a1a" stroke-width="0.09">LYZ</text>
<text x="64.7" y="84.1" font-size="6.2" fill="#1a1a1a" stroke="#1a1a1a" stroke-width="0.09">AREG</text>
<text x="95.3" y="84.5" font-size="6.2" fill="#1a1a1a" stroke="#1a1a1a" stroke-width="0.09">RPL27</text>
<text x="98" y="88.6" font-size="6.2" fill="#1a1a1a" stroke="#1a1a1a" stroke-width="0.09">RPS2</text>
<text x="73" y="92.4" font-size="6.2" fill="#1a1a1a" stroke="#1a1a1a" stroke-width="0.09">SLC2A1</text>
<text x="98" y="95" font-size="6.2" fill="#1a1a1a" stroke="#1a1a1a" stroke-width="0.09">KRT8</text>
<text x="89.6" y="99.2" font-size="6.2" fill="#1a1a1a" stroke="#1a1a1a" stroke-width="0.09">C1QC</text>
<text x="94.7" y="103.6" font-size="6.2" fill="#1a1a1a" stroke="#1a1a1a" stroke-width="0.09">HK2</text>
<text x="90" y="108" font-size="6.2" fill="#1a1a1a" stroke="#1a1a1a" stroke-width="0.09">RPL41</text>
<text x="92" y="112.5" font-size="6.2" fill="#1a1a1a" stroke="#1a1a1a" stroke-width="0.09">ENO1</text>
<text x="88.5" y="118" font-size="6.2" fill="#1a1a1a" stroke="#1a1a1a" stroke-width="0.09">GPX1</text>
<text x="95" y="121.5" font-size="6.2" fill="#1a1a1a" stroke="#1a1a1a" stroke-width="0.09">FTL</text>
<text x="134.2" y="41.3" font-size="6.2" fill="#1a1a1a" stroke="#1a1a1a" stroke-width="0.09">APOC1</text>
<text x="131.3" y="48.2" font-size="6.2" fill="#1a1a1a" stroke="#1a1a1a" stroke-width="0.09">APOE</text>
<text x="133" y="53.1" font-size="6.2" fill="#1a1a1a" stroke="#1a1a1a" stroke-width="0.09">SPP1</text>
<text x="138" y="62.1" font-size="6.2" fill="#1a1a1a" stroke="#1a1a1a" stroke-width="0.09">IFI27</text>
<text x="156.3" y="61.4" font-size="6.2" fill="#1a1a1a" stroke="#1a1a1a" stroke-width="0.09">WFDC2</text>
<text x="116.8" y="65.6" font-size="6.2" fill="#1a1a1a" stroke="#1a1a1a" stroke-width="0.09">RGS1</text>
<text x="124.9" y="79.4" font-size="6.2" fill="#1a1a1a" stroke="#1a1a1a" stroke-width="0.09">C3</text>
<text x="139" y="77.4" font-size="6.2" fill="#1a1a1a" stroke="#1a1a1a" stroke-width="0.09">IGHG1</text>
<text x="141.2" y="86.4" font-size="6.2" fill="#1a1a1a" stroke="#1a1a1a" stroke-width="0.09">IGLC3</text>
<text x="117.8" y="89.4" font-size="6.2" fill="#1a1a1a" stroke="#1a1a1a" stroke-width="0.09">DOCK4</text>
<text x="117.8" y="94.2" font-size="6.2" fill="#1a1a1a" stroke="#1a1a1a" stroke-width="0.09">HIST1H1E</text>
<text x="143.5" y="100.4" font-size="6.2" fill="#1a1a1a" stroke="#1a1a1a" stroke-width="0.09">CLDN4</text>
<text x="138.6" y="106.4" font-size="6.2" fill="#1a1a1a" stroke="#1a1a1a" stroke-width="0.09">MUC1</text>
<text x="117" y="99.5" font-size="6.2" fill="#1a1a1a" stroke="#1a1a1a" stroke-width="0.09">TM4SF1</text>
<text x="118" y="104.5" font-size="6.2" fill="#1a1a1a" stroke="#1a1a1a" stroke-width="0.09">KRT19</text>
<text x="118" y="110" font-size="6.2" fill="#1a1a1a" stroke="#1a1a1a" stroke-width="0.09">ENTPD2</text>
<text x="117.5" y="115" font-size="6.2" fill="#1a1a1a" stroke="#1a1a1a" stroke-width="0.09">IFITM3</text>
<text x="118" y="119.5" font-size="6.2" fill="#1a1a1a" stroke="#1a1a1a" stroke-width="0.09">S100P</text>
<text x="103" y="97.5" font-size="6.2" fill="#1a1a1a" stroke="#1a1a1a" stroke-width="0.09">CD52</text>
<line x1="40.5" y1="29" x2="40.5" y2="127.2" stroke="#666" stroke-width="0.9"/>
<line x1="40.5" y1="126.8" x2="187" y2="126.8" stroke="#666" stroke-width="0.9"/>
<line x1="37.9" y1="122.3" x2="40.5" y2="122.3" stroke="#666" stroke-width="0.9"/>
<text x="35.9" y="124.6" font-size="6.4" text-anchor="end" fill="#4d4d4d" stroke="#4d4d4d" stroke-width="0.1">0</text>
<line x1="37.9" y1="92.6" x2="40.5" y2="92.6" stroke="#666" stroke-width="0.9"/>
<text x="35.9" y="94.9" font-size="6.4" text-anchor="end" fill="#4d4d4d" stroke="#4d4d4d" stroke-width="0.1">50</text>
<line x1="37.9" y1="62.9" x2="40.5" y2="62.9" stroke="#666" stroke-width="0.9"/>
<text x="35.9" y="65.2" font-size="6.4" text-anchor="end" fill="#4d4d4d" stroke="#4d4d4d" stroke-width="0.1">100</text>
<line x1="37.9" y1="33.2" x2="40.5" y2="33.2" stroke="#666" stroke-width="0.9"/>
<text x="35.9" y="35.5" font-size="6.4" text-anchor="end" fill="#4d4d4d" stroke="#4d4d4d" stroke-width="0.1">150</text>
<line x1="69.75" y1="126.8" x2="69.75" y2="129.4" stroke="#666" stroke-width="0.9"/>
<text x="69.75" y="135.3" font-size="6.4" text-anchor="middle" fill="#4d4d4d" stroke="#4d4d4d" stroke-width="0.1">−5</text>
<line x1="111" y1="126.8" x2="111" y2="129.4" stroke="#666" stroke-width="0.9"/>
<text x="111" y="135.3" font-size="6.4" text-anchor="middle" fill="#4d4d4d" stroke="#4d4d4d" stroke-width="0.1">0</text>
<line x1="152.25" y1="126.8" x2="152.25" y2="129.4" stroke="#666" stroke-width="0.9"/>
<text x="152.25" y="135.3" font-size="6.4" text-anchor="middle" fill="#4d4d4d" stroke="#4d4d4d" stroke-width="0.1">5</text>
<text transform="translate(20.9 78.6) rotate(-90)" font-size="7" text-anchor="middle">−Log<tspan font-size="4.6" dy="1.5">10</tspan><tspan dy="-1.5"> P</tspan></text>
<text x="114.2" y="144.4" font-size="6.6" text-anchor="middle">Log<tspan font-size="4.4" dy="1.4">2</tspan><tspan dy="-1.4"> fold change</tspan></text>
<text transform="translate(399.5 14.45) scale(0.91 1)" font-size="14.3" font-weight="bold">C</text>
<circle cx="461.5" cy="77.5" r="46.2" fill="#febad2"/>
<circle cx="507.2" cy="77.5" r="46.2" fill="#8fd9b8"/>
<clipPath id="cC"><circle cx="461.5" cy="77.5" r="46.2"/></clipPath>
<circle cx="507.2" cy="77.5" r="46.2" fill="#92baa3" clip-path="url(#cC)"/>
<text x="418.9" y="27.4" font-size="7.6" fill="#111">diff_CAFs</text>
<text x="507.8" y="27.4" font-size="7.6" fill="#111">diff_RNA-seq</text>
<text x="443.9" y="79.2" font-size="7.4" text-anchor="middle" fill="#111">516</text>
<text x="486.1" y="79.2" font-size="7.4" text-anchor="middle" fill="#111">48</text>
<text x="530.6" y="79.2" font-size="7.4" text-anchor="middle" fill="#111">1190</text>
<text transform="translate(137 335.4) scale(0.93 1)" font-size="12.7" font-weight="bold">G</text>
<circle cx="171.5" cy="385" r="33" fill="#fddbe6"/>
<circle cx="217.3" cy="385" r="33.4" fill="#c6ebda"/>
<clipPath id="cG"><circle cx="171.5" cy="385" r="33"/></clipPath>
<circle cx="217.3" cy="385" r="33.4" fill="#e2d3d8" clip-path="url(#cG)"/>
<text x="165.85" y="349.8" font-size="4.67" text-anchor="middle" fill="#333" font-family='"Liberation Serif", serif' stroke="#333" stroke-width="0.07">diff_RNA-seq</text>
<text x="223.2" y="349.8" font-size="4.65" text-anchor="middle" fill="#333" font-family='"Liberation Serif", serif' stroke="#333" stroke-width="0.07">diff_Epithelial cells</text>
<text x="171.6" y="385.8" font-size="4.6" text-anchor="middle" fill="#333" font-family='"Liberation Serif", serif' stroke="#333" stroke-width="0.07">1185</text>
<text x="194.4" y="385.5" font-size="4.6" text-anchor="middle" fill="#333" font-family='"Liberation Serif", serif' stroke="#333" stroke-width="0.07">37</text>
<text x="219" y="385.8" font-size="4.6" text-anchor="middle" fill="#333" font-family='"Liberation Serif", serif' stroke="#333" stroke-width="0.07">288</text>
<rect x="180.3" y="429.4" width="97.3" height="12.4" fill="#fff" stroke="#000" stroke-width="0.9"/>
<text x="188.2" y="437.8" font-size="5.6" font-weight="bold" stroke="#000" stroke-width="0.3" textLength="20.9" lengthAdjust="spacingAndGlyphs">SLC2A1</text>
<text x="216.1" y="437.8" font-size="5.6" font-weight="bold" stroke="#000" stroke-width="0.3" textLength="17.4" lengthAdjust="spacingAndGlyphs">KRT18</text>
<text x="239.1" y="437.8" font-size="5.6" font-weight="bold" stroke="#000" stroke-width="0.3" textLength="14.2" lengthAdjust="spacingAndGlyphs">KRT8</text>
<text x="259.3" y="437.8" font-size="5.6" font-weight="bold" stroke="#000" stroke-width="0.3" textLength="10.8" lengthAdjust="spacingAndGlyphs">HK2</text>
<path d="M210.3 436.4q0.9 0.5 1.3 1.5" fill="none" stroke="#111" stroke-width="0.8"/>
<path d="M234.3 436.4q0.9 0.5 1.3 1.5" fill="none" stroke="#111" stroke-width="0.8"/>
<path d="M254.3 436.4q0.9 0.5 1.3 1.5" fill="none" stroke="#111" stroke-width="0.8"/>
<text transform="translate(212.8 14.4) scale(0.93 1)" font-size="14.1" font-weight="bold">B</text>
<line x1="249.3" y1="24.5" x2="249.3" y2="129.5" stroke="#e3e3e3" stroke-width="0.5"/>
<line x1="267.06" y1="24.5" x2="267.06" y2="129.5" stroke="#e3e3e3" stroke-width="0.5"/>
<line x1="284.82" y1="24.5" x2="284.82" y2="129.5" stroke="#e3e3e3" stroke-width="0.5"/>
<line x1="302.58" y1="24.5" x2="302.58" y2="129.5" stroke="#e3e3e3" stroke-width="0.5"/>
<line x1="320.34" y1="24.5" x2="320.34" y2="129.5" stroke="#e3e3e3" stroke-width="0.5"/>
<line x1="338.1" y1="24.5" x2="338.1" y2="129.5" stroke="#e3e3e3" stroke-width="0.5"/>
<line x1="355.86" y1="24.5" x2="355.86" y2="129.5" stroke="#e3e3e3" stroke-width="0.5"/>
<line x1="373.62" y1="24.5" x2="373.62" y2="129.5" stroke="#e3e3e3" stroke-width="0.5"/>
<line x1="245.5" y1="122.3" x2="376.2" y2="122.3" stroke="#e3e3e3" stroke-width="0.5"/>
<line x1="245.5" y1="113.45" x2="376.2" y2="113.45" stroke="#e3e3e3" stroke-width="0.5"/>
<line x1="245.5" y1="104.6" x2="376.2" y2="104.6" stroke="#e3e3e3" stroke-width="0.5"/>
<line x1="245.5" y1="95.75" x2="376.2" y2="95.75" stroke="#e3e3e3" stroke-width="0.5"/>
<line x1="245.5" y1="86.9" x2="376.2" y2="86.9" stroke="#e3e3e3" stroke-width="0.5"/>
<line x1="245.5" y1="78.05" x2="376.2" y2="78.05" stroke="#e3e3e3" stroke-width="0.5"/>
<line x1="245.5" y1="69.2" x2="376.2" y2="69.2" stroke="#e3e3e3" stroke-width="0.5"/>
<line x1="245.5" y1="60.35" x2="376.2" y2="60.35" stroke="#e3e3e3" stroke-width="0.5"/>
<line x1="245.5" y1="51.5" x2="376.2" y2="51.5" stroke="#e3e3e3" stroke-width="0.5"/>
<line x1="245.5" y1="42.65" x2="376.2" y2="42.65" stroke="#e3e3e3" stroke-width="0.5"/>
<line x1="245.5" y1="33.8" x2="376.2" y2="33.8" stroke="#e3e3e3" stroke-width="0.5"/>
<line x1="245.5" y1="24.95" x2="376.2" y2="24.95" stroke="#e3e3e3" stroke-width="0.5"/>
<text x="244.2" y="15.2" font-size="5" fill="#222" stroke="#222" stroke-width="0.07">Regulated</text>
<path d="M273.6 11.67h4.6l-2.3 4z" fill="#1a8a4a"/>
<text x="280.6" y="15.2" font-size="5" fill="#222" stroke="#222" stroke-width="0.07">Down-regulated</text>
<path d="M322 14.93h4.6l-2.3 -4z" fill="#e64b35"/>
<text x="329" y="15.2" font-size="5" fill="#222" stroke="#222" stroke-width="0.07">Up-regulated</text>
<path d="M272.6 63.7L272.6 55.5L278 54.8L286 55.6L293 57.2L299 59.5L303 62L304 63.7Z" fill="#e64b35"/>
<path d="M276.91 59.51h1.7l-0.85 -1.48zM274.81 64.04h1.7l-0.85 -1.48zM277.71 63.34h1.7l-0.85 -1.48zM297.2 54.96h1.7l-0.85 -1.48zM278.52 53.26h1.7l-0.85 -1.48zM296.13 64.04h1.7l-0.85 -1.48zM275.1 56.78h1.7l-0.85 -1.48zM283.26 61.08h1.7l-0.85 -1.48zM283.36 61.4h1.7l-0.85 -1.48zM278.18 62.24h1.7l-0.85 -1.48zM298.9 63.06h1.7l-0.85 -1.48zM276.9 64.2h1.7l-0.85 -1.48zM291.28 53.43h1.7l-0.85 -1.48zM275.6 64.06h1.7l-0.85 -1.48zM272.97 54.62h1.7l-0.85 -1.48zM273.89 59.08h1.7l-0.85 -1.48zM293.9 63.6h1.7l-0.85 -1.48zM282.18 58.27h1.7l-0.85 -1.48zM276.79 49.99h1.7l-0.85 -1.48zM275.2 57.94h1.7l-0.85 -1.48zM280.18 50.51h1.7l-0.85 -1.48zM273.02 59.68h1.7l-0.85 -1.48zM279.43 61.82h1.7l-0.85 -1.48zM281.27 57.28h1.7l-0.85 -1.48zM277.65 63.39h1.7l-0.85 -1.48zM277.42 63.48h1.7l-0.85 -1.48zM272.36 62.14h1.7l-0.85 -1.48zM283.36 54.49h1.7l-0.85 -1.48zM287.99 60.11h1.7l-0.85 -1.48zM285.1 57.7h1.7l-0.85 -1.48zM292.97 63.66h1.7l-0.85 -1.48zM280.11 61.58h1.7l-0.85 -1.48zM274.85 61.73h1.7l-0.85 -1.48zM290.94 60.47h1.7l-0.85 -1.48zM305.88 57.55h1.7l-0.85 -1.48zM288.2 58.6h1.7l-0.85 -1.48zM281.2 58.35h1.7l-0.85 -1.48zM285.49 63.16h1.7l-0.85 -1.48zM275.29 58.13h1.7l-0.85 -1.48zM284.29 63.88h1.7l-0.85 -1.48zM274.96 63.83h1.7l-0.85 -1.48zM302.13 59.62h1.7l-0.85 -1.48zM281.05 60h1.7l-0.85 -1.48zM299.1 57.48h1.7l-0.85 -1.48zM285.24 57.63h1.7l-0.85 -1.48zM274.92 63.27h1.7l-0.85 -1.48zM284.38 62.78h1.7l-0.85 -1.48zM274.44 58.67h1.7l-0.85 -1.48zM291.98 56.01h1.7l-0.85 -1.48zM297.61 62.11h1.7l-0.85 -1.48zM291.67 54.74h1.7l-0.85 -1.48zM273.03 63.63h1.7l-0.85 -1.48zM275.93 57.41h1.7l-0.85 -1.48zM281.05 59.88h1.7l-0.85 -1.48zM284.16 61.4h1.7l-0.85 -1.48zM284.68 63.72h1.7l-0.85 -1.48zM276.04 58.11h1.7l-0.85 -1.48zM276.5 57.15h1.7l-0.85 -1.48zM272.45 60.28h1.7l-0.85 -1.48zM296.19 56.63h1.7l-0.85 -1.48zM286.07 44.62h1.7l-0.85 -1.48zM280.29 51.69h1.7l-0.85 -1.48zM274.5 61.67h1.7l-0.85 -1.48zM284.83 56.44h1.7l-0.85 -1.48zM297.76 61.24h1.7l-0.85 -1.48zM275.09 60.08h1.7l-0.85 -1.48zM275.27 61.74h1.7l-0.85 -1.48zM273.96 55.99h1.7l-0.85 -1.48zM280.96 55.33h1.7l-0.85 -1.48zM281.59 62.28h1.7l-0.85 -1.48zM288.35 63.55h1.7l-0.85 -1.48zM275.7 53.8h1.7l-0.85 -1.48zM283.34 54.48h1.7l-0.85 -1.48zM285.42 63.65h1.7l-0.85 -1.48zM277.8 52.83h1.7l-0.85 -1.48zM280.49 54.61h1.7l-0.85 -1.48zM282.27 63.5h1.7l-0.85 -1.48zM294.58 60.91h1.7l-0.85 -1.48zM308.79 59.78h1.7l-0.85 -1.48zM276.82 61.71h1.7l-0.85 -1.48zM284.97 64.21h1.7l-0.85 -1.48zM277.99 53.78h1.7l-0.85 -1.48zM282.19 53.66h1.7l-0.85 -1.48zM311.52 61.89h1.7l-0.85 -1.48zM295.52 62.74h1.7l-0.85 -1.48zM271.93 57.59h1.7l-0.85 -1.48zM275.35 44.71h1.7l-0.85 -1.48zM290.92 64.28h1.7l-0.85 -1.48zM281.7 62.27h1.7l-0.85 -1.48zM292.1 60.72h1.7l-0.85 -1.48zM300.96 54.69h1.7l-0.85 -1.48zM329.71 54.47h1.7l-0.85 -1.48zM276.51 60.34h1.7l-0.85 -1.48zM275.5 63.44h1.7l-0.85 -1.48zM283.91 56.58h1.7l-0.85 -1.48zM278.6 59.74h1.7l-0.85 -1.48zM274.46 62.51h1.7l-0.85 -1.48zM277.35 64.23h1.7l-0.85 -1.48zM276.6 63.49h1.7l-0.85 -1.48zM277.67 64.31h1.7l-0.85 -1.48zM285.89 50.65h1.7l-0.85 -1.48zM279.69 57.76h1.7l-0.85 -1.48zM281.75 55.64h1.7l-0.85 -1.48zM281.35 64.02h1.7l-0.85 -1.48zM311.51 64h1.7l-0.85 -1.48zM288.03 54.73h1.7l-0.85 -1.48zM273.1 62.09h1.7l-0.85 -1.48zM278.04 59.85h1.7l-0.85 -1.48zM291.12 60.85h1.7l-0.85 -1.48zM292.87 52.88h1.7l-0.85 -1.48zM295.85 54.23h1.7l-0.85 -1.48zM278.76 63.41h1.7l-0.85 -1.48zM297.21 60.4h1.7l-0.85 -1.48zM290.46 63.22h1.7l-0.85 -1.48zM272.39 58.5h1.7l-0.85 -1.48zM307.28 61.79h1.7l-0.85 -1.48zM273.16 57.96h1.7l-0.85 -1.48zM285.39 62.12h1.7l-0.85 -1.48zM272.76 49.52h1.7l-0.85 -1.48zM277.32 50h1.7l-0.85 -1.48zM272.71 59.16h1.7l-0.85 -1.48zM275.05 61.45h1.7l-0.85 -1.48zM286.45 61.32h1.7l-0.85 -1.48zM290.11 58.53h1.7l-0.85 -1.48zM275.48 63.81h1.7l-0.85 -1.48zM274.38 55.47h1.7l-0.85 -1.48zM273.82 56.02h1.7l-0.85 -1.48zM295.2 63.63h1.7l-0.85 -1.48zM288.41 62.49h1.7l-0.85 -1.48zM273.66 57.85h1.7l-0.85 -1.48zM273.97 57.24h1.7l-0.85 -1.48zM279.72 63.7h1.7l-0.85 -1.48zM293.81 62.62h1.7l-0.85 -1.48zM277.87 57.21h1.7l-0.85 -1.48zM297.86 61.96h1.7l-0.85 -1.48zM280.75 63.22h1.7l-0.85 -1.48zM284.6 56.7h1.7l-0.85 -1.48zM299.87 60.54h1.7l-0.85 -1.48zM316.48 62.77h1.7l-0.85 -1.48zM275.79 59.12h1.7l-0.85 -1.48zM272.14 58.02h1.7l-0.85 -1.48zM279.93 59.79h1.7l-0.85 -1.48zM272.67 61.73h1.7l-0.85 -1.48zM286.3 56.37h1.7l-0.85 -1.48zM282.02 55.84h1.7l-0.85 -1.48zM323.1 59.74h1.7l-0.85 -1.48zM273.4 41.35h1.7l-0.85 -1.48zM274.91 52.06h1.7l-0.85 -1.48zM285.96 62.91h1.7l-0.85 -1.48zM291.18 42.15h1.7l-0.85 -1.48zM284.66 59.48h1.7l-0.85 -1.48zM306.55 53.85h1.7l-0.85 -1.48zM286.73 54.84h1.7l-0.85 -1.48zM277.56 61h1.7l-0.85 -1.48zM274.06 56.42h1.7l-0.85 -1.48zM281.6 55.66h1.7l-0.85 -1.48zM278.45 62.91h1.7l-0.85 -1.48zM276.16 44.96h1.7l-0.85 -1.48zM300.14 51.78h1.7l-0.85 -1.48zM300.48 60.37h1.7l-0.85 -1.48zM281.16 63.82h1.7l-0.85 -1.48zM289.93 50.87h1.7l-0.85 -1.48zM278 45.19h1.7l-0.85 -1.48zM274.57 60.77h1.7l-0.85 -1.48zM283.05 52.08h1.7l-0.85 -1.48zM300.86 62.46h1.7l-0.85 -1.48zM276.8 55.35h1.7l-0.85 -1.48zM279.57 54.46h1.7l-0.85 -1.48zM278.95 54.43h1.7l-0.85 -1.48zM275.03 61.01h1.7l-0.85 -1.48zM294.97 59.98h1.7l-0.85 -1.48zM314.03 56.58h1.7l-0.85 -1.48zM285.91 57.46h1.7l-0.85 -1.48zM280.66 57.11h1.7l-0.85 -1.48zM294.44 58.75h1.7l-0.85 -1.48zM284.72 61.64h1.7l-0.85 -1.48zM274.72 50.65h1.7l-0.85 -1.48zM281.56 59.67h1.7l-0.85 -1.48zM282.51 53.4h1.7l-0.85 -1.48zM297.12 63.16h1.7l-0.85 -1.48zM280.33 57.74h1.7l-0.85 -1.48zM282.64 61.66h1.7l-0.85 -1.48zM288.63 62.77h1.7l-0.85 -1.48zM276.77 60.36h1.7l-0.85 -1.48zM275.8 50.01h1.7l-0.85 -1.48zM314.89 64.36h1.7l-0.85 -1.48zM278.4 47.31h1.7l-0.85 -1.48zM299.68 62.35h1.7l-0.85 -1.48zM273.86 62.29h1.7l-0.85 -1.48zM295.69 55.19h1.7l-0.85 -1.48zM279.17 60.88h1.7l-0.85 -1.48zM274.74 57.77h1.7l-0.85 -1.48zM278.04 63.08h1.7l-0.85 -1.48zM275.98 48.07h1.7l-0.85 -1.48zM272.58 53.25h1.7l-0.85 -1.48zM298.73 56.42h1.7l-0.85 -1.48zM277.37 59.58h1.7l-0.85 -1.48zM287.05 59.2h1.7l-0.85 -1.48zM272.56 62.8h1.7l-0.85 -1.48zM279.28 62.89h1.7l-0.85 -1.48zM285.2 59.52h1.7l-0.85 -1.48zM312.89 60.72h1.7l-0.85 -1.48zM279.99 47.15h1.7l-0.85 -1.48zM293.71 62.96h1.7l-0.85 -1.48zM291.22 62.71h1.7l-0.85 -1.48zM287.07 35.35h1.7l-0.85 -1.48zM279.65 53.67h1.7l-0.85 -1.48zM289.55 46.82h1.7l-0.85 -1.48zM277.65 59.34h1.7l-0.85 -1.48zM290.69 60.78h1.7l-0.85 -1.48zM277.32 58.2h1.7l-0.85 -1.48zM292.8 55.54h1.7l-0.85 -1.48zM275.8 58.58h1.7l-0.85 -1.48zM283.45 49.44h1.7l-0.85 -1.48zM276.5 61.23h1.7l-0.85 -1.48zM310.3 60.16h1.7l-0.85 -1.48zM275.27 61.56h1.7l-0.85 -1.48zM277.94 61.73h1.7l-0.85 -1.48zM307.43 61.85h1.7l-0.85 -1.48zM273.14 51.11h1.7l-0.85 -1.48zM284.41 56.5h1.7l-0.85 -1.48zM284.5 56.75h1.7l-0.85 -1.48zM290.39 57.85h1.7l-0.85 -1.48zM273 59.67h1.7l-0.85 -1.48zM275.1 58.33h1.7l-0.85 -1.48zM282.9 48.89h1.7l-0.85 -1.48zM275.42 63.01h1.7l-0.85 -1.48zM274.78 56.81h1.7l-0.85 -1.48zM274.53 63.11h1.7l-0.85 -1.48zM291.06 63.32h1.7l-0.85 -1.48zM272.85 63.14h1.7l-0.85 -1.48zM283.05 63.67h1.7l-0.85 -1.48zM282.05 62.41h1.7l-0.85 -1.48zM293.86 60.35h1.7l-0.85 -1.48zM313.86 59.31h1.7l-0.85 -1.48zM275.57 59.72h1.7l-0.85 -1.48zM279.65 61.98h1.7l-0.85 -1.48zM330.31 45.5h1.7l-0.85 -1.48zM296.59 51.33h1.7l-0.85 -1.48zM274.96 62.05h1.7l-0.85 -1.48zM273.95 53.02h1.7l-0.85 -1.48zM313.8 60.68h1.7l-0.85 -1.48zM281.1 61.43h1.7l-0.85 -1.48zM285.92 58.87h1.7l-0.85 -1.48zM285.4 56.67h1.7l-0.85 -1.48zM283.42 60.76h1.7l-0.85 -1.48zM301.75 56.32h1.7l-0.85 -1.48zM275.91 49.61h1.7l-0.85 -1.48zM281.24 53.94h1.7l-0.85 -1.48zM281.28 45.46h1.7l-0.85 -1.48zM312.12 58.41h1.7l-0.85 -1.48zM280.56 61.01h1.7l-0.85 -1.48zM288.22 55.98h1.7l-0.85 -1.48zM285.46 58.75h1.7l-0.85 -1.48zM282.95 64.11h1.7l-0.85 -1.48zM281 55.83h1.7l-0.85 -1.48zM278.42 60.27h1.7l-0.85 -1.48zM288.66 63.73h1.7l-0.85 -1.48zM278.27 57.14h1.7l-0.85 -1.48zM282.02 40.51h1.7l-0.85 -1.48zM287.58 63.01h1.7l-0.85 -1.48zM283.63 56.25h1.7l-0.85 -1.48zM299.03 58.05h1.7l-0.85 -1.48zM274.07 54.44h1.7l-0.85 -1.48zM290.42 54.35h1.7l-0.85 -1.48zM279.65 60.12h1.7l-0.85 -1.48zM281.6 55.04h1.7l-0.85 -1.48zM274.68 62.59h1.7l-0.85 -1.48zM316.46 51.6h1.7l-0.85 -1.48zM280.29 57.44h1.7l-0.85 -1.48zM297.33 63.72h1.7l-0.85 -1.48zM278.81 63.41h1.7l-0.85 -1.48zM279.77 62h1.7l-0.85 -1.48zM273.69 47.7h1.7l-0.85 -1.48zM272.55 58.12h1.7l-0.85 -1.48zM279.37 56.56h1.7l-0.85 -1.48zM296.71 64.08h1.7l-0.85 -1.48zM291.26 61h1.7l-0.85 -1.48zM300.68 55.51h1.7l-0.85 -1.48zM278.3 58.55h1.7l-0.85 -1.48zM279.45 57.05h1.7l-0.85 -1.48zM272.64 62.28h1.7l-0.85 -1.48zM275.23 54.85h1.7l-0.85 -1.48zM273.94 61.86h1.7l-0.85 -1.48zM272.91 61.16h1.7l-0.85 -1.48zM283.27 39.76h1.7l-0.85 -1.48zM277.09 58.68h1.7l-0.85 -1.48zM279.3 59.72h1.7l-0.85 -1.48zM285.74 62.2h1.7l-0.85 -1.48zM272.34 54.74h1.7l-0.85 -1.48zM281.24 63.38h1.7l-0.85 -1.48zM286.49 55.15h1.7l-0.85 -1.48zM272.14 59.46h1.7l-0.85 -1.48zM278.02 47.73h1.7l-0.85 -1.48zM273.9 54.33h1.7l-0.85 -1.48zM275.96 44.12h1.7l-0.85 -1.48zM294.92 56.4h1.7l-0.85 -1.48zM278.02 56.25h1.7l-0.85 -1.48zM301.07 62.67h1.7l-0.85 -1.48zM280.37 61.57h1.7l-0.85 -1.48zM288.75 51.44h1.7l-0.85 -1.48zM272.15 57.85h1.7l-0.85 -1.48zM273.66 63.92h1.7l-0.85 -1.48zM275.57 54.62h1.7l-0.85 -1.48zM289 64.1h1.7l-0.85 -1.48zM278.28 58.25h1.7l-0.85 -1.48zM291.47 60.28h1.7l-0.85 -1.48zM281.87 56.37h1.7l-0.85 -1.48zM291.6 47.15h1.7l-0.85 -1.48zM274.44 63.6h1.7l-0.85 -1.48zM274.91 59.15h1.7l-0.85 -1.48zM278.3 59.86h1.7l-0.85 -1.48zM295.09 62.9h1.7l-0.85 -1.48zM299.22 57.68h1.7l-0.85 -1.48zM276.89 64.18h1.7l-0.85 -1.48zM285.16 45.62h1.7l-0.85 -1.48zM282.27 63.7h1.7l-0.85 -1.48zM317.57 54.46h1.7l-0.85 -1.48zM280.5 61.17h1.7l-0.85 -1.48zM278.83 60.29h1.7l-0.85 -1.48zM284.53 60.32h1.7l-0.85 -1.48zM277.64 55.07h1.7l-0.85 -1.48zM285.57 46.46h1.7l-0.85 -1.48zM294.54 63.82h1.7l-0.85 -1.48zM284.64 59.8h1.7l-0.85 -1.48zM277.31 54.65h1.7l-0.85 -1.48zM293.05 62.53h1.7l-0.85 -1.48zM314.1 59.28h1.7l-0.85 -1.48zM286.15 63.89h1.7l-0.85 -1.48zM287.92 63.36h1.7l-0.85 -1.48zM272.82 59.44h1.7l-0.85 -1.48zM303.67 61.96h1.7l-0.85 -1.48zM274.49 51.83h1.7l-0.85 -1.48zM296.48 59.36h1.7l-0.85 -1.48zM285.72 63.06h1.7l-0.85 -1.48zM273.61 63.76h1.7l-0.85 -1.48zM278.83 54.86h1.7l-0.85 -1.48zM278.94 59.71h1.7l-0.85 -1.48zM291.09 64.29h1.7l-0.85 -1.48zM295.53 57.21h1.7l-0.85 -1.48zM274.51 60.99h1.7l-0.85 -1.48zM272.92 56.84h1.7l-0.85 -1.48zM282.04 60.72h1.7l-0.85 -1.48zM273.62 57.85h1.7l-0.85 -1.48zM287.88 55.57h1.7l-0.85 -1.48zM272.8 61.43h1.7l-0.85 -1.48zM277.77 54.4h1.7l-0.85 -1.48zM292.12 56.59h1.7l-0.85 -1.48zM294.19 59h1.7l-0.85 -1.48zM334.31 59.46h1.7l-0.85 -1.48zM281.46 63.42h1.7l-0.85 -1.48zM285.25 58.22h1.7l-0.85 -1.48zM299.5 56.83h1.7l-0.85 -1.48zM273.8 59.87h1.7l-0.85 -1.48zM282.62 55.75h1.7l-0.85 -1.48zM282.92 61.69h1.7l-0.85 -1.48zM283.17 58.87h1.7l-0.85 -1.48zM274.59 62.72h1.7l-0.85 -1.48zM282.98 52.5h1.7l-0.85 -1.48zM283.81 59.82h1.7l-0.85 -1.48zM287.56 59.24h1.7l-0.85 -1.48zM272.84 61.99h1.7l-0.85 -1.48zM300.15 58.39h1.7l-0.85 -1.48zM274.31 59.28h1.7l-0.85 -1.48zM280.66 39.01h1.7l-0.85 -1.48zM275.18 56.44h1.7l-0.85 -1.48zM300.33 54.62h1.7l-0.85 -1.48zM274.39 59.24h1.7l-0.85 -1.48zM275.71 61.51h1.7l-0.85 -1.48zM290.4 63.93h1.7l-0.85 -1.48zM295.29 44.43h1.7l-0.85 -1.48zM292.42 60.81h1.7l-0.85 -1.48zM313.36 55.99h1.7l-0.85 -1.48zM272.5 63.01h1.7l-0.85 -1.48zM285.66 58.82h1.7l-0.85 -1.48zM288.82 56.54h1.7l-0.85 -1.48zM275.93 61.56h1.7l-0.85 -1.48zM285.95 41.97h1.7l-0.85 -1.48zM296.87 47.83h1.7l-0.85 -1.48zM291.03 60.11h1.7l-0.85 -1.48zM277.36 63.61h1.7l-0.85 -1.48zM281.58 57.9h1.7l-0.85 -1.48zM276.77 64.05h1.7l-0.85 -1.48zM272.06 64.21h1.7l-0.85 -1.48zM306.77 42.68h1.7l-0.85 -1.48zM295.42 55.1h1.7l-0.85 -1.48zM288.4 63.64h1.7l-0.85 -1.48zM331.21 58.2h1.7l-0.85 -1.48zM283.42 61.46h1.7l-0.85 -1.48zM273.07 58.52h1.7l-0.85 -1.48zM297.74 55.94h1.7l-0.85 -1.48zM273.34 47.08h1.7l-0.85 -1.48zM299.37 63.67h1.7l-0.85 -1.48zM278.34 41.77h1.7l-0.85 -1.48zM278.66 61.28h1.7l-0.85 -1.48zM283.09 57.37h1.7l-0.85 -1.48zM280.9 53.47h1.7l-0.85 -1.48zM279.41 62.06h1.7l-0.85 -1.48zM272.33 58.66h1.7l-0.85 -1.48zM324.98 53.62h1.7l-0.85 -1.48zM300.85 56.92h1.7l-0.85 -1.48zM285.45 64.29h1.7l-0.85 -1.48zM277.22 61.1h1.7l-0.85 -1.48zM292.19 60.39h1.7l-0.85 -1.48zM272.52 61.27h1.7l-0.85 -1.48zM282.77 38.35h1.7l-0.85 -1.48zM273.75 62.36h1.7l-0.85 -1.48zM276.91 46.14h1.7l-0.85 -1.48zM278.93 60.71h1.7l-0.85 -1.48zM288.23 57.44h1.7l-0.85 -1.48zM278.67 56.15h1.7l-0.85 -1.48zM272.31 52.88h1.7l-0.85 -1.48zM281.38 49.36h1.7l-0.85 -1.48zM295.05 59.48h1.7l-0.85 -1.48zM272.17 54.08h1.7l-0.85 -1.48zM282.1 46.3h1.7l-0.85 -1.48zM282.71 63.88h1.7l-0.85 -1.48zM283.06 59.12h1.7l-0.85 -1.48zM287.75 54.97h1.7l-0.85 -1.48zM281.96 63.6h1.7l-0.85 -1.48zM282.45 59.33h1.7l-0.85 -1.48zM298.85 58.2h1.7l-0.85 -1.48zM297.44 57.53h1.7l-0.85 -1.48zM278.53 43.8h1.7l-0.85 -1.48zM281.4 60.08h1.7l-0.85 -1.48zM284.19 52.54h1.7l-0.85 -1.48zM279.59 58.42h1.7l-0.85 -1.48zM276.8 57.28h1.7l-0.85 -1.48zM276.49 61.92h1.7l-0.85 -1.48zM280.17 61.53h1.7l-0.85 -1.48zM296.75 53.89h1.7l-0.85 -1.48zM274.77 58.66h1.7l-0.85 -1.48zM306.86 61.6h1.7l-0.85 -1.48zM279.08 56.54h1.7l-0.85 -1.48zM273.21 60.32h1.7l-0.85 -1.48zM303.14 40.34h1.7l-0.85 -1.48zM275.08 51.18h1.7l-0.85 -1.48zM273.97 41.74h1.7l-0.85 -1.48zM289.84 59.77h1.7l-0.85 -1.48zM279.37 55.82h1.7l-0.85 -1.48zM310.49 53.15h1.7l-0.85 -1.48zM301.93 49.75h1.7l-0.85 -1.48zM297.28 34.68h1.7l-0.85 -1.48zM301.89 57.54h1.7l-0.85 -1.48zM288.34 63.64h1.7l-0.85 -1.48zM272.86 60.95h1.7l-0.85 -1.48zM283.47 60.67h1.7l-0.85 -1.48zM281.28 50.9h1.7l-0.85 -1.48zM287.2 64.01h1.7l-0.85 -1.48zM294.88 52.86h1.7l-0.85 -1.48zM283.72 57.51h1.7l-0.85 -1.48zM278.18 56.31h1.7l-0.85 -1.48zM278.45 59.71h1.7l-0.85 -1.48zM297.45 57.79h1.7l-0.85 -1.48zM283.9 45.89h1.7l-0.85 -1.48zM280.8 50.96h1.7l-0.85 -1.48zM286.97 61.25h1.7l-0.85 -1.48zM279.11 55.34h1.7l-0.85 -1.48zM316.79 62.03h1.7l-0.85 -1.48zM274.44 47.82h1.7l-0.85 -1.48zM296.49 56.85h1.7l-0.85 -1.48zM273.28 51.3h1.7l-0.85 -1.48zM273.2 53.2h1.7l-0.85 -1.48zM280.88 58.79h1.7l-0.85 -1.48zM279.44 62.48h1.7l-0.85 -1.48zM279.29 55.38h1.7l-0.85 -1.48zM272.1 63.7h1.7l-0.85 -1.48zM293.89 56.67h1.7l-0.85 -1.48zM321.18 63.06h1.7l-0.85 -1.48zM275.32 59.68h1.7l-0.85 -1.48zM284.52 57.41h1.7l-0.85 -1.48zM286.1 53.84h1.7l-0.85 -1.48zM272.4 58.3h1.7l-0.85 -1.48zM278.06 61.91h1.7l-0.85 -1.48zM315.62 59.75h1.7l-0.85 -1.48zM279.81 59.15h1.7l-0.85 -1.48zM282.35 58.29h1.7l-0.85 -1.48zM296.88 57.63h1.7l-0.85 -1.48zM283.83 62.5h1.7l-0.85 -1.48zM287.93 63.34h1.7l-0.85 -1.48zM276.42 58.81h1.7l-0.85 -1.48zM276.65 63.74h1.7l-0.85 -1.48zM281.67 62.97h1.7l-0.85 -1.48zM290.59 57.65h1.7l-0.85 -1.48zM273.7 57.35h1.7l-0.85 -1.48zM292.85 57.63h1.7l-0.85 -1.48zM280.8 61.24h1.7l-0.85 -1.48zM321.4 56.49h1.7l-0.85 -1.48zM283.67 60.55h1.7l-0.85 -1.48zM274.24 61.64h1.7l-0.85 -1.48zM290.98 56.71h1.7l-0.85 -1.48zM287.06 58.24h1.7l-0.85 -1.48zM275.65 59.13h1.7l-0.85 -1.48zM297.91 58.76h1.7l-0.85 -1.48zM271.83 62.52h1.7l-0.85 -1.48zM275.44 37.72h1.7l-0.85 -1.48zM278.71 62.68h1.7l-0.85 -1.48zM272.69 60.77h1.7l-0.85 -1.48zM304.59 62.28h1.7l-0.85 -1.48zM288.58 57.71h1.7l-0.85 -1.48zM277.39 54.72h1.7l-0.85 -1.48zM278.76 62.42h1.7l-0.85 -1.48zM276.79 58.12h1.7l-0.85 -1.48zM321.57 48.67h1.7l-0.85 -1.48zM276.54 59.27h1.7l-0.85 -1.48zM275.72 62.88h1.7l-0.85 -1.48zM272.29 57.68h1.7l-0.85 -1.48zM277.45 60.49h1.7l-0.85 -1.48zM287.41 63.71h1.7l-0.85 -1.48zM274.03 56.99h1.7l-0.85 -1.48zM274.59 63.06h1.7l-0.85 -1.48zM296.94 59.23h1.7l-0.85 -1.48zM307.66 63.67h1.7l-0.85 -1.48zM285.02 52.55h1.7l-0.85 -1.48zM287.14 61.08h1.7l-0.85 -1.48zM274.48 55.57h1.7l-0.85 -1.48zM273.11 64.05h1.7l-0.85 -1.48zM275.2 59.68h1.7l-0.85 -1.48zM304.41 60.28h1.7l-0.85 -1.48zM296.15 62.84h1.7l-0.85 -1.48zM278 61.37h1.7l-0.85 -1.48zM276.35 51.54h1.7l-0.85 -1.48zM272.99 52.11h1.7l-0.85 -1.48zM285.55 54.96h1.7l-0.85 -1.48zM275.8 55.89h1.7l-0.85 -1.48zM272.38 60.56h1.7l-0.85 -1.48zM286.02 62.39h1.7l-0.85 -1.48zM273.12 62.95h1.7l-0.85 -1.48zM278.78 61.69h1.7l-0.85 -1.48zM290.5 63.64h1.7l-0.85 -1.48zM285.06 62.48h1.7l-0.85 -1.48zM272.48 54.95h1.7l-0.85 -1.48zM279.65 57.65h1.7l-0.85 -1.48zM287.05 57.88h1.7l-0.85 -1.48zM275.71 57.49h1.7l-0.85 -1.48zM294.72 62.24h1.7l-0.85 -1.48zM274.18 62.31h1.7l-0.85 -1.48zM297.53 59.77h1.7l-0.85 -1.48zM305.61 61.06h1.7l-0.85 -1.48zM281.98 47.91h1.7l-0.85 -1.48zM311.66 53.14h1.7l-0.85 -1.48zM273.98 59.93h1.7l-0.85 -1.48zM281.25 63.26h1.7l-0.85 -1.48zM301.33 56.44h1.7l-0.85 -1.48zM275.12 63.5h1.7l-0.85 -1.48zM284.28 64.09h1.7l-0.85 -1.48zM295.49 61.44h1.7l-0.85 -1.48zM273.48 56.96h1.7l-0.85 -1.48zM275.17 60.63h1.7l-0.85 -1.48zM283.67 63.06h1.7l-0.85 -1.48zM286.74 49.28h1.7l-0.85 -1.48zM297.4 59.6h1.7l-0.85 -1.48zM292.59 63.24h1.7l-0.85 -1.48zM280.09 52.04h1.7l-0.85 -1.48zM274.33 59.08h1.7l-0.85 -1.48zM293.22 58.66h1.7l-0.85 -1.48zM314.01 60.72h1.7l-0.85 -1.48zM277.2 63.84h1.7l-0.85 -1.48zM284.54 58.98h1.7l-0.85 -1.48zM275.47 57.85h1.7l-0.85 -1.48zM309.44 61.35h1.7l-0.85 -1.48zM303.44 53.6h1.7l-0.85 -1.48zM280.15 64.32h1.7l-0.85 -1.48zM280.5 62.7h1.7l-0.85 -1.48zM285.63 61.88h1.7l-0.85 -1.48zM279.75 62.55h1.7l-0.85 -1.48zM276.93 57.7h1.7l-0.85 -1.48zM272.26 52.26h1.7l-0.85 -1.48zM289.49 57.82h1.7l-0.85 -1.48zM278.22 62.24h1.7l-0.85 -1.48zM279.61 60.62h1.7l-0.85 -1.48zM275.23 61.98h1.7l-0.85 -1.48zM297.56 63.93h1.7l-0.85 -1.48zM294.21 62.61h1.7l-0.85 -1.48zM287.69 63.75h1.7l-0.85 -1.48zM275.31 61.16h1.7l-0.85 -1.48zM271.92 63.79h1.7l-0.85 -1.48zM307.75 52.86h1.7l-0.85 -1.48zM295.11 55.42h1.7l-0.85 -1.48zM276.72 45.53h1.7l-0.85 -1.48zM327.62 63.16h1.7l-0.85 -1.48zM281.35 60.52h1.7l-0.85 -1.48zM280.96 53.71h1.7l-0.85 -1.48zM281.67 59.22h1.7l-0.85 -1.48zM281.7 63.69h1.7l-0.85 -1.48zM312.76 63.7h1.7l-0.85 -1.48zM278.63 60.91h1.7l-0.85 -1.48zM286.18 55.86h1.7l-0.85 -1.48zM283.64 63.21h1.7l-0.85 -1.48zM287.36 58.26h1.7l-0.85 -1.48zM273.29 60.57h1.7l-0.85 -1.48zM289.89 53.93h1.7l-0.85 -1.48zM286.37 62.18h1.7l-0.85 -1.48zM284.73 60.12h1.7l-0.85 -1.48zM276.99 52.92h1.7l-0.85 -1.48zM283.04 59.25h1.7l-0.85 -1.48zM292.65 61.74h1.7l-0.85 -1.48zM280.75 63.59h1.7l-0.85 -1.48zM274.89 63.87h1.7l-0.85 -1.48zM273.81 63.32h1.7l-0.85 -1.48zM280.16 56.96h1.7l-0.85 -1.48zM276.73 59.6h1.7l-0.85 -1.48zM326.01 61.75h1.7l-0.85 -1.48zM278.78 61.72h1.7l-0.85 -1.48zM310.9 57.51h1.7l-0.85 -1.48zM272.81 58.43h1.7l-0.85 -1.48zM274.88 60.62h1.7l-0.85 -1.48zM290.72 58.63h1.7l-0.85 -1.48zM274.26 64.04h1.7l-0.85 -1.48zM276.27 58.64h1.7l-0.85 -1.48zM276.17 62.49h1.7l-0.85 -1.48zM281.43 53.53h1.7l-0.85 -1.48zM271.74 63.44h1.7l-0.85 -1.48zM273.14 62.04h1.7l-0.85 -1.48zM293.07 56.38h1.7l-0.85 -1.48zM282.77 56.13h1.7l-0.85 -1.48zM280.25 59.51h1.7l-0.85 -1.48zM312.02 53.09h1.7l-0.85 -1.48zM300.2 37.73h1.7l-0.85 -1.48zM273.53 39.5h1.7l-0.85 -1.48zM273.53 50.81h1.7l-0.85 -1.48zM279.77 39.65h1.7l-0.85 -1.48zM302.11 62.54h1.7l-0.85 -1.48zM289.37 55.62h1.7l-0.85 -1.48zM276.45 58.74h1.7l-0.85 -1.48zM276.63 61.24h1.7l-0.85 -1.48zM281.05 59.59h1.7l-0.85 -1.48zM274.25 43.9h1.7l-0.85 -1.48zM273.1 59.17h1.7l-0.85 -1.48zM276.55 50h1.7l-0.85 -1.48zM277.81 61.74h1.7l-0.85 -1.48zM315.69 61.16h1.7l-0.85 -1.48zM281.43 62.67h1.7l-0.85 -1.48zM288.24 58.36h1.7l-0.85 -1.48zM274.24 58.6h1.7l-0.85 -1.48zM277.18 57.61h1.7l-0.85 -1.48zM273.95 54.67h1.7l-0.85 -1.48zM296.7 62.76h1.7l-0.85 -1.48zM281.03 55.99h1.7l-0.85 -1.48zM273.16 59.71h1.7l-0.85 -1.48zM285.27 63.55h1.7l-0.85 -1.48zM275.27 50.67h1.7l-0.85 -1.48zM286.16 61.09h1.7l-0.85 -1.48zM274.19 56.49h1.7l-0.85 -1.48zM276.74 38.21h1.7l-0.85 -1.48zM285.59 51.75h1.7l-0.85 -1.48zM284.14 46.77h1.7l-0.85 -1.48zM286.02 62.97h1.7l-0.85 -1.48zM284.54 61.12h1.7l-0.85 -1.48zM283.93 60.76h1.7l-0.85 -1.48zM281.34 62.1h1.7l-0.85 -1.48zM278.26 58.76h1.7l-0.85 -1.48zM279.32 52.66h1.7l-0.85 -1.48zM293.08 61.21h1.7l-0.85 -1.48zM273.76 50.58h1.7l-0.85 -1.48zM278.1 63.58h1.7l-0.85 -1.48zM275.75 61.21h1.7l-0.85 -1.48zM304.12 52.63h1.7l-0.85 -1.48zM283.03 63.7h1.7l-0.85 -1.48zM278.55 62.23h1.7l-0.85 -1.48zM307.29 59.84h1.7l-0.85 -1.48zM336.25 53.61h1.7l-0.85 -1.48zM275.91 59.1h1.7l-0.85 -1.48zM275.12 57.38h1.7l-0.85 -1.48zM271.91 51.78h1.7l-0.85 -1.48zM284.12 54.53h1.7l-0.85 -1.48zM273.5 38.3h1.7l-0.85 -1.48zM273.47 59.1h1.7l-0.85 -1.48zM273.45 61.46h1.7l-0.85 -1.48zM285.57 63.91h1.7l-0.85 -1.48zM280.22 57.35h1.7l-0.85 -1.48zM274.37 54.33h1.7l-0.85 -1.48zM279.8 63.57h1.7l-0.85 -1.48zM276.12 62.99h1.7l-0.85 -1.48zM280.96 56.06h1.7l-0.85 -1.48zM281.48 58.27h1.7l-0.85 -1.48zM281.31 56.64h1.7l-0.85 -1.48zM298.43 63.97h1.7l-0.85 -1.48zM283.14 60.7h1.7l-0.85 -1.48zM306.37 50.57h1.7l-0.85 -1.48zM273.27 62.23h1.7l-0.85 -1.48zM272.18 58.14h1.7l-0.85 -1.48zM284.54 61.21h1.7l-0.85 -1.48zM272.72 57.96h1.7l-0.85 -1.48zM274.77 56.43h1.7l-0.85 -1.48zM274.99 41.66h1.7l-0.85 -1.48zM305.13 46.2h1.7l-0.85 -1.48zM272.15 53.69h1.7l-0.85 -1.48zM299.36 62.38h1.7l-0.85 -1.48zM281.16 61.85h1.7l-0.85 -1.48zM293.34 35.46h1.7l-0.85 -1.48zM273.87 63.74h1.7l-0.85 -1.48zM288.14 63.22h1.7l-0.85 -1.48zM292.07 61.18h1.7l-0.85 -1.48zM287.11 53.3h1.7l-0.85 -1.48zM283.86 52.87h1.7l-0.85 -1.48zM274.27 63.54h1.7l-0.85 -1.48zM283.74 63.39h1.7l-0.85 -1.48zM281.26 56.7h1.7l-0.85 -1.48zM281.43 57.57h1.7l-0.85 -1.48zM284.99 64.38h1.7l-0.85 -1.48zM279.36 61.91h1.7l-0.85 -1.48zM304.61 47.75h1.7l-0.85 -1.48zM276.86 53.94h1.7l-0.85 -1.48zM279.21 56.03h1.7l-0.85 -1.48zM273.33 56.08h1.7l-0.85 -1.48zM291.83 56.65h1.7l-0.85 -1.48zM304.02 59.54h1.7l-0.85 -1.48zM300.01 62.89h1.7l-0.85 -1.48zM274.21 54.39h1.7l-0.85 -1.48zM271.86 55.98h1.7l-0.85 -1.48zM279.25 54.38h1.7l-0.85 -1.48zM284.56 59.81h1.7l-0.85 -1.48zM290.95 52.16h1.7l-0.85 -1.48zM299.54 50.44h1.7l-0.85 -1.48zM293.04 61.9h1.7l-0.85 -1.48zM279.85 64.06h1.7l-0.85 -1.48zM279.15 60.87h1.7l-0.85 -1.48zM303.76 40.08h1.7l-0.85 -1.48zM273.76 64.11h1.7l-0.85 -1.48zM275.92 58.87h1.7l-0.85 -1.48zM315.33 63.52h1.7l-0.85 -1.48zM273.2 63.68h1.7l-0.85 -1.48zM301.84 62.06h1.7l-0.85 -1.48zM278.6 56.78h1.7l-0.85 -1.48zM278.16 60.08h1.7l-0.85 -1.48zM275.84 62.32h1.7l-0.85 -1.48zM300.22 61.85h1.7l-0.85 -1.48zM290.23 61.6h1.7l-0.85 -1.48zM273.92 58.52h1.7l-0.85 -1.48zM274.73 59.88h1.7l-0.85 -1.48zM296.84 60.79h1.7l-0.85 -1.48zM275.96 52.69h1.7l-0.85 -1.48zM280.14 62.64h1.7l-0.85 -1.48zM281.39 55.52h1.7l-0.85 -1.48zM289.19 57.55h1.7l-0.85 -1.48zM287.92 60.06h1.7l-0.85 -1.48zM273.61 60.2h1.7l-0.85 -1.48zM272.22 57.87h1.7l-0.85 -1.48zM273.44 48.78h1.7l-0.85 -1.48zM283.71 58.99h1.7l-0.85 -1.48zM278.21 59.69h1.7l-0.85 -1.48zM275.83 62.12h1.7l-0.85 -1.48zM281.49 59.91h1.7l-0.85 -1.48zM302.72 62.29h1.7l-0.85 -1.48zM293.53 50.19h1.7l-0.85 -1.48zM285.45 61.83h1.7l-0.85 -1.48zM288.27 61.64h1.7l-0.85 -1.48zM273.97 56.45h1.7l-0.85 -1.48zM282.58 48.52h1.7l-0.85 -1.48zM280.55 58.65h1.7l-0.85 -1.48zM283.02 61.27h1.7l-0.85 -1.48zM287.44 56.54h1.7l-0.85 -1.48zM288 63.06h1.7l-0.85 -1.48zM278.82 44.15h1.7l-0.85 -1.48zM283.32 62.45h1.7l-0.85 -1.48zM272.77 51.51h1.7l-0.85 -1.48zM296.43 57.17h1.7l-0.85 -1.48zM277.56 56.38h1.7l-0.85 -1.48zM298.03 58.65h1.7l-0.85 -1.48zM281.59 61.63h1.7l-0.85 -1.48zM281.3 63.03h1.7l-0.85 -1.48zM284.42 62.97h1.7l-0.85 -1.48zM276.08 63.54h1.7l-0.85 -1.48zM282.32 45.03h1.7l-0.85 -1.48zM271.99 60.54h1.7l-0.85 -1.48zM272.47 60.67h1.7l-0.85 -1.48zM272.51 60.8h1.7l-0.85 -1.48zM277.38 59.8h1.7l-0.85 -1.48zM285.4 60.7h1.7l-0.85 -1.48zM280.49 62.94h1.7l-0.85 -1.48zM276.32 61.47h1.7l-0.85 -1.48zM280.23 58.8h1.7l-0.85 -1.48zM285.9 63.78h1.7l-0.85 -1.48zM295.04 57.42h1.7l-0.85 -1.48zM280.55 60.23h1.7l-0.85 -1.48zM274.46 57.56h1.7l-0.85 -1.48zM271.79 56.76h1.7l-0.85 -1.48zM275.86 61.26h1.7l-0.85 -1.48zM275.3 56.76h1.7l-0.85 -1.48zM274.11 60.45h1.7l-0.85 -1.48zM285.79 47.35h1.7l-0.85 -1.48zM295.94 59.54h1.7l-0.85 -1.48zM291.6 61.88h1.7l-0.85 -1.48zM280.98 55.6h1.7l-0.85 -1.48zM303.02 63.52h1.7l-0.85 -1.48zM277.64 57.66h1.7l-0.85 -1.48zM288.98 58.19h1.7l-0.85 -1.48zM279.69 63.24h1.7l-0.85 -1.48zM273.6 58.07h1.7l-0.85 -1.48zM276.69 61.18h1.7l-0.85 -1.48zM275.58 62h1.7l-0.85 -1.48zM274.68 61.69h1.7l-0.85 -1.48zM278.66 57.85h1.7l-0.85 -1.48zM274.66 64.21h1.7l-0.85 -1.48zM277.89 59h1.7l-0.85 -1.48zM276.68 55.65h1.7l-0.85 -1.48zM280.83 63.05h1.7l-0.85 -1.48zM289.53 58.11h1.7l-0.85 -1.48zM278.76 63.5h1.7l-0.85 -1.48zM272.02 58.09h1.7l-0.85 -1.48zM291.06 56.75h1.7l-0.85 -1.48zM281.94 61.77h1.7l-0.85 -1.48zM307.6 57.76h1.7l-0.85 -1.48zM296.48 60.31h1.7l-0.85 -1.48zM289.56 54.59h1.7l-0.85 -1.48zM275.07 63.82h1.7l-0.85 -1.48zM287.85 53.64h1.7l-0.85 -1.48zM288.1 61.5h1.7l-0.85 -1.48zM275.88 53.82h1.7l-0.85 -1.48zM291.85 61.13h1.7l-0.85 -1.48zM291.71 60.71h1.7l-0.85 -1.48zM274.84 60.39h1.7l-0.85 -1.48zM275.54 54.92h1.7l-0.85 -1.48zM275.47 59.22h1.7l-0.85 -1.48zM298.13 59.93h1.7l-0.85 -1.48zM275.39 54.45h1.7l-0.85 -1.48zM286.59 51.75h1.7l-0.85 -1.48zM280.16 57.86h1.7l-0.85 -1.48zM279.78 57.11h1.7l-0.85 -1.48zM281.77 61.69h1.7l-0.85 -1.48zM273.68 62.81h1.7l-0.85 -1.48zM277.86 57.96h1.7l-0.85 -1.48zM286.94 60.73h1.7l-0.85 -1.48zM292.04 44.44h1.7l-0.85 -1.48zM277.8 56.3h1.7l-0.85 -1.48zM285.55 58.22h1.7l-0.85 -1.48zM282.13 52.98h1.7l-0.85 -1.48zM271.94 59.25h1.7l-0.85 -1.48zM291.88 56.09h1.7l-0.85 -1.48zM274.08 63.65h1.7l-0.85 -1.48zM282.42 64.1h1.7l-0.85 -1.48zM308.24 60h1.7l-0.85 -1.48zM279.39 59.15h1.7l-0.85 -1.48zM319.62 62.86h1.7l-0.85 -1.48zM275.27 58.04h1.7l-0.85 -1.48zM276.99 55.01h1.7l-0.85 -1.48zM324.14 52.14h1.7l-0.85 -1.48zM276.02 59.41h1.7l-0.85 -1.48zM278.98 63.46h1.7l-0.85 -1.48zM290.17 49.35h1.7l-0.85 -1.48zM288.93 43.83h1.7l-0.85 -1.48zM275.15 60.89h1.7l-0.85 -1.48zM273.07 59.71h1.7l-0.85 -1.48zM303.08 59.34h1.7l-0.85 -1.48zM278.11 55.49h1.7l-0.85 -1.48zM301.52 57.95h1.7l-0.85 -1.48zM280.68 50.24h1.7l-0.85 -1.48zM287.73 48.62h1.7l-0.85 -1.48zM276.4 60.1h1.7l-0.85 -1.48zM276.66 64h1.7l-0.85 -1.48zM274.19 57.03h1.7l-0.85 -1.48zM294 60.79h1.7l-0.85 -1.48zM277.79 50.23h1.7l-0.85 -1.48zM276.11 56.88h1.7l-0.85 -1.48zM273.7 64.1h1.7l-0.85 -1.48zM283.45 60.28h1.7l-0.85 -1.48zM276.26 58.77h1.7l-0.85 -1.48zM275.22 45.39h1.7l-0.85 -1.48zM288.07 62.01h1.7l-0.85 -1.48zM273.87 60.4h1.7l-0.85 -1.48zM276.08 63.68h1.7l-0.85 -1.48zM289.68 62.63h1.7l-0.85 -1.48zM288.56 62.03h1.7l-0.85 -1.48zM285.93 58.37h1.7l-0.85 -1.48zM297.61 53.05h1.7l-0.85 -1.48zM274.69 54.58h1.7l-0.85 -1.48zM317.68 62.49h1.7l-0.85 -1.48zM291.71 59.9h1.7l-0.85 -1.48zM274.38 59.58h1.7l-0.85 -1.48zM274.06 60.87h1.7l-0.85 -1.48zM295.23 59.37h1.7l-0.85 -1.48zM274.58 53.47h1.7l-0.85 -1.48zM287.27 62.62h1.7l-0.85 -1.48zM288.15 64.21h1.7l-0.85 -1.48zM283.86 60.93h1.7l-0.85 -1.48zM300.13 59.83h1.7l-0.85 -1.48zM272.43 37.53h1.7l-0.85 -1.48zM282.27 58.71h1.7l-0.85 -1.48zM272.99 44.71h1.7l-0.85 -1.48zM309.21 44.91h1.7l-0.85 -1.48zM287.9 52.28h1.7l-0.85 -1.48zM294.24 63.77h1.7l-0.85 -1.48zM304.49 63.46h1.7l-0.85 -1.48zM290.67 53.24h1.7l-0.85 -1.48zM272.38 53.64h1.7l-0.85 -1.48zM287.91 57.25h1.7l-0.85 -1.48zM278.88 58.52h1.7l-0.85 -1.48zM295.42 62.56h1.7l-0.85 -1.48zM274.02 52.84h1.7l-0.85 -1.48zM271.85 51.79h1.7l-0.85 -1.48zM271.84 60.56h1.7l-0.85 -1.48zM303.49 48.44h1.7l-0.85 -1.48zM277.63 53.28h1.7l-0.85 -1.48zM294.73 60.95h1.7l-0.85 -1.48zM278.46 57.54h1.7l-0.85 -1.48zM280.76 62.83h1.7l-0.85 -1.48zM281.39 50.77h1.7l-0.85 -1.48zM274.88 54.75h1.7l-0.85 -1.48zM296.63 59.66h1.7l-0.85 -1.48zM292.1 57.02h1.7l-0.85 -1.48zM280.58 60.36h1.7l-0.85 -1.48zM279.99 64.3h1.7l-0.85 -1.48zM276.56 62.84h1.7l-0.85 -1.48zM274.96 51.83h1.7l-0.85 -1.48zM300.23 49.2h1.7l-0.85 -1.48zM292.89 61.66h1.7l-0.85 -1.48zM302.12 51.94h1.7l-0.85 -1.48zM294.43 50.55h1.7l-0.85 -1.48zM294.48 53.36h1.7l-0.85 -1.48zM274.05 63.78h1.7l-0.85 -1.48zM312.46 50.96h1.7l-0.85 -1.48zM290.56 55.4h1.7l-0.85 -1.48zM292.04 50.86h1.7l-0.85 -1.48zM291.08 58.29h1.7l-0.85 -1.48zM284.69 61.76h1.7l-0.85 -1.48zM301.37 53.01h1.7l-0.85 -1.48zM274.24 50.38h1.7l-0.85 -1.48zM272.35 62.32h1.7l-0.85 -1.48zM281.72 62.12h1.7l-0.85 -1.48zM277.24 60.07h1.7l-0.85 -1.48zM303.36 59.25h1.7l-0.85 -1.48zM273.21 59.06h1.7l-0.85 -1.48zM281.85 58.97h1.7l-0.85 -1.48zM278.63 51.1h1.7l-0.85 -1.48zM277.11 61.98h1.7l-0.85 -1.48zM278.5 64.08h1.7l-0.85 -1.48zM276.2 51.25h1.7l-0.85 -1.48zM280.51 54.99h1.7l-0.85 -1.48zM281.63 61.08h1.7l-0.85 -1.48zM272.68 61.04h1.7l-0.85 -1.48zM304.65 52.61h1.7l-0.85 -1.48zM311.08 43.01h1.7l-0.85 -1.48zM281.12 61.32h1.7l-0.85 -1.48zM271.82 59.67h1.7l-0.85 -1.48zM281.53 57.47h1.7l-0.85 -1.48zM312.63 59.39h1.7l-0.85 -1.48zM279.88 56.24h1.7l-0.85 -1.48zM280.87 61.38h1.7l-0.85 -1.48zM276.26 59.6h1.7l-0.85 -1.48zM287.21 62.81h1.7l-0.85 -1.48zM277.89 59.19h1.7l-0.85 -1.48zM275.43 54.15h1.7l-0.85 -1.48zM295.63 60.41h1.7l-0.85 -1.48zM342.34 47.04h1.7l-0.85 -1.48zM289.76 56.78h1.7l-0.85 -1.48zM301.58 44.37h1.7l-0.85 -1.48zM283.32 61.61h1.7l-0.85 -1.48zM275.91 61.43h1.7l-0.85 -1.48zM280.85 60.96h1.7l-0.85 -1.48zM277.63 55.82h1.7l-0.85 -1.48zM273.99 63.59h1.7l-0.85 -1.48zM282.6 60.88h1.7l-0.85 -1.48zM275.64 42.02h1.7l-0.85 -1.48zM280.09 57.39h1.7l-0.85 -1.48zM279.37 53.21h1.7l-0.85 -1.48zM285.32 55.33h1.7l-0.85 -1.48zM277.5 64.36h1.7l-0.85 -1.48zM310.57 54.21h1.7l-0.85 -1.48zM291.13 61.53h1.7l-0.85 -1.48zM279.57 61.13h1.7l-0.85 -1.48zM274.31 55.42h1.7l-0.85 -1.48zM276.77 64.02h1.7l-0.85 -1.48zM283.2 59.86h1.7l-0.85 -1.48zM276.96 58.24h1.7l-0.85 -1.48zM290.18 50.43h1.7l-0.85 -1.48zM277.58 55.33h1.7l-0.85 -1.48zM283.38 61.1h1.7l-0.85 -1.48zM294.49 47.48h1.7l-0.85 -1.48zM291.86 62.78h1.7l-0.85 -1.48zM271.73 54.09h1.7l-0.85 -1.48zM279.98 59.91h1.7l-0.85 -1.48zM324.92 50.01h1.7l-0.85 -1.48zM284.89 59.2h1.7l-0.85 -1.48zM272.77 56.31h1.7l-0.85 -1.48zM281.05 57.23h1.7l-0.85 -1.48zM305.32 61.97h1.7l-0.85 -1.48zM289.1 64.28h1.7l-0.85 -1.48zM272.37 57.68h1.7l-0.85 -1.48zM294.08 61.92h1.7l-0.85 -1.48zM299.92 58.85h1.7l-0.85 -1.48zM299.13 62.14h1.7l-0.85 -1.48zM275.53 51.13h1.7l-0.85 -1.48zM304.63 62.51h1.7l-0.85 -1.48zM306.3 55.67h1.7l-0.85 -1.48zM274.87 62.62h1.7l-0.85 -1.48zM281.84 60.4h1.7l-0.85 -1.48zM294.98 60.34h1.7l-0.85 -1.48zM272.7 53.85h1.7l-0.85 -1.48zM320.43 49.36h1.7l-0.85 -1.48zM272.77 55.98h1.7l-0.85 -1.48zM278.94 63.39h1.7l-0.85 -1.48zM283.52 62.19h1.7l-0.85 -1.48zM312.1 59.39h1.7l-0.85 -1.48zM286.36 59.06h1.7l-0.85 -1.48zM294.45 61.96h1.7l-0.85 -1.48zM321.42 56.33h1.7l-0.85 -1.48zM285.45 58.86h1.7l-0.85 -1.48zM285.05 60.59h1.7l-0.85 -1.48zM278.73 60.92h1.7l-0.85 -1.48zM286.3 51.86h1.7l-0.85 -1.48zM286.91 60.03h1.7l-0.85 -1.48zM288.53 52.38h1.7l-0.85 -1.48zM289.8 43.43h1.7l-0.85 -1.48zM283.38 58.85h1.7l-0.85 -1.48zM277.63 62.38h1.7l-0.85 -1.48zM285.88 60.71h1.7l-0.85 -1.48zM292.17 60.02h1.7l-0.85 -1.48zM284.12 41.92h1.7l-0.85 -1.48zM295.19 50.6h1.7l-0.85 -1.48zM276.79 62.72h1.7l-0.85 -1.48zM278.83 50.64h1.7l-0.85 -1.48zM275.26 59.05h1.7l-0.85 -1.48zM310.83 60.18h1.7l-0.85 -1.48zM283.23 55.25h1.7l-0.85 -1.48zM273.07 50.33h1.7l-0.85 -1.48zM280.28 60.57h1.7l-0.85 -1.48zM272.59 62.39h1.7l-0.85 -1.48zM302.16 45.77h1.7l-0.85 -1.48zM276.08 52.36h1.7l-0.85 -1.48zM289.04 62.51h1.7l-0.85 -1.48zM274.93 63.83h1.7l-0.85 -1.48zM290.03 38.18h1.7l-0.85 -1.48zM289.39 64.13h1.7l-0.85 -1.48zM278.85 60.02h1.7l-0.85 -1.48zM273.32 62.84h1.7l-0.85 -1.48zM286.74 60.84h1.7l-0.85 -1.48zM276.28 54.02h1.7l-0.85 -1.48zM287.43 40.85h1.7l-0.85 -1.48zM273.48 56.08h1.7l-0.85 -1.48zM291.74 58.43h1.7l-0.85 -1.48zM276.2 61.51h1.7l-0.85 -1.48zM282.79 64.22h1.7l-0.85 -1.48zM291.56 58.69h1.7l-0.85 -1.48zM279.11 58.96h1.7l-0.85 -1.48zM283.74 56.84h1.7l-0.85 -1.48zM284.46 62.59h1.7l-0.85 -1.48zM276.98 59.18h1.7l-0.85 -1.48zM281.67 47.75h1.7l-0.85 -1.48zM276.93 61.34h1.7l-0.85 -1.48zM279.41 63.73h1.7l-0.85 -1.48zM283.81 62.9h1.7l-0.85 -1.48zM278.25 62.74h1.7l-0.85 -1.48zM280.56 58.83h1.7l-0.85 -1.48zM281.28 57.98h1.7l-0.85 -1.48zM274.26 61.77h1.7l-0.85 -1.48zM314.03 60.89h1.7l-0.85 -1.48zM288.39 52.31h1.7l-0.85 -1.48zM272.34 59.19h1.7l-0.85 -1.48zM278.5 58.94h1.7l-0.85 -1.48zM281.51 56.65h1.7l-0.85 -1.48zM274.02 63.7h1.7l-0.85 -1.48zM287 58.63h1.7l-0.85 -1.48zM271.9 48.12h1.7l-0.85 -1.48zM279.91 60.3h1.7l-0.85 -1.48zM272.57 59.6h1.7l-0.85 -1.48zM286.43 55.45h1.7l-0.85 -1.48zM292.47 52.54h1.7l-0.85 -1.48zM317.65 59.21h1.7l-0.85 -1.48zM284.68 64.3h1.7l-0.85 -1.48zM272.37 60.63h1.7l-0.85 -1.48zM283.36 60.35h1.7l-0.85 -1.48zM278.07 56.25h1.7l-0.85 -1.48zM290.37 61.02h1.7l-0.85 -1.48zM282.64 57.05h1.7l-0.85 -1.48zM284.47 63.81h1.7l-0.85 -1.48zM278.68 61.77h1.7l-0.85 -1.48zM303.48 62.54h1.7l-0.85 -1.48zM280.17 61.08h1.7l-0.85 -1.48zM278.16 63.99h1.7l-0.85 -1.48zM313.48 59.23h1.7l-0.85 -1.48zM287.75 57.94h1.7l-0.85 -1.48zM278.01 60.4h1.7l-0.85 -1.48zM300.49 63.66h1.7l-0.85 -1.48zM281.02 58.41h1.7l-0.85 -1.48zM278.31 61.53h1.7l-0.85 -1.48zM289 60.55h1.7l-0.85 -1.48zM318.62 54.02h1.7l-0.85 -1.48zM305.45 54.24h1.7l-0.85 -1.48zM275.07 60.61h1.7l-0.85 -1.48zM281.73 59.78h1.7l-0.85 -1.48zM288.94 56.64h1.7l-0.85 -1.48zM282.31 63.57h1.7l-0.85 -1.48zM309.44 60.76h1.7l-0.85 -1.48zM277.28 56.16h1.7l-0.85 -1.48zM295.93 52.21h1.7l-0.85 -1.48zM271.9 53.01h1.7l-0.85 -1.48zM278.64 61.16h1.7l-0.85 -1.48zM276.01 56.98h1.7l-0.85 -1.48zM295.96 59.19h1.7l-0.85 -1.48zM278.62 52.26h1.7l-0.85 -1.48zM280.64 58.73h1.7l-0.85 -1.48zM277.96 58.32h1.7l-0.85 -1.48zM287.35 62.52h1.7l-0.85 -1.48zM273.32 60.94h1.7l-0.85 -1.48zM273.42 60.72h1.7l-0.85 -1.48zM296.7 60.69h1.7l-0.85 -1.48zM271.75 63.14h1.7l-0.85 -1.48zM284.04 58.8h1.7l-0.85 -1.48zM275.64 57.02h1.7l-0.85 -1.48zM275.78 48.53h1.7l-0.85 -1.48zM288.88 58.19h1.7l-0.85 -1.48zM273.82 59.73h1.7l-0.85 -1.48zM274.1 53.52h1.7l-0.85 -1.48zM275.89 35.36h1.7l-0.85 -1.48zM280.79 37.31h1.7l-0.85 -1.48zM272.91 61.82h1.7l-0.85 -1.48zM273.52 63.46h1.7l-0.85 -1.48zM281.89 64.14h1.7l-0.85 -1.48zM289.76 60.04h1.7l-0.85 -1.48zM277.16 61.5h1.7l-0.85 -1.48zM279.54 60.59h1.7l-0.85 -1.48zM277.8 53.29h1.7l-0.85 -1.48zM284.93 58.67h1.7l-0.85 -1.48zM272.25 60.57h1.7l-0.85 -1.48zM297.23 62.65h1.7l-0.85 -1.48zM299.24 57.32h1.7l-0.85 -1.48zM285.08 55.88h1.7l-0.85 -1.48zM277.36 60.57h1.7l-0.85 -1.48zM297.62 46.89h1.7l-0.85 -1.48zM299.44 45.37h1.7l-0.85 -1.48zM300.14 63.88h1.7l-0.85 -1.48zM288 63.89h1.7l-0.85 -1.48zM274.54 63.6h1.7l-0.85 -1.48zM275.41 59.42h1.7l-0.85 -1.48zM274.96 58.97h1.7l-0.85 -1.48zM297.5 56.64h1.7l-0.85 -1.48zM272.25 61.08h1.7l-0.85 -1.48zM290.9 60.85h1.7l-0.85 -1.48zM286.82 62.81h1.7l-0.85 -1.48zM279.09 54.95h1.7l-0.85 -1.48zM274.06 60.33h1.7l-0.85 -1.48zM280.12 61.55h1.7l-0.85 -1.48zM286.34 50.15h1.7l-0.85 -1.48zM279.49 62.28h1.7l-0.85 -1.48zM279.33 49.9h1.7l-0.85 -1.48zM275.18 63.28h1.7l-0.85 -1.48zM277.04 55.77h1.7l-0.85 -1.48zM281.76 55.65h1.7l-0.85 -1.48zM274.03 61.01h1.7l-0.85 -1.48zM274.42 63.18h1.7l-0.85 -1.48zM285.76 60.65h1.7l-0.85 -1.48zM321.35 47.38h1.7l-0.85 -1.48zM282.22 60.89h1.7l-0.85 -1.48zM273.03 64.12h1.7l-0.85 -1.48zM298.12 61.8h1.7l-0.85 -1.48zM284.59 59.25h1.7l-0.85 -1.48zM291.43 42.97h1.7l-0.85 -1.48zM293.43 60.18h1.7l-0.85 -1.48zM304.15 55.45h1.7l-0.85 -1.48zM280.42 58.93h1.7l-0.85 -1.48zM303.59 61.73h1.7l-0.85 -1.48zM279.04 63.76h1.7l-0.85 -1.48zM294.28 60.33h1.7l-0.85 -1.48zM309.8 45.06h1.7l-0.85 -1.48zM284.24 58.18h1.7l-0.85 -1.48zM276.07 62.46h1.7l-0.85 -1.48zM282.48 60.78h1.7l-0.85 -1.48zM312.86 61.7h1.7l-0.85 -1.48zM290.16 60.35h1.7l-0.85 -1.48zM283.38 57.29h1.7l-0.85 -1.48zM274.13 55.32h1.7l-0.85 -1.48zM302.12 49.74h1.7l-0.85 -1.48zM280.36 62.74h1.7l-0.85 -1.48zM294.47 61.57h1.7l-0.85 -1.48zM284.7 64.13h1.7l-0.85 -1.48zM272.91 60.81h1.7l-0.85 -1.48zM279.91 63.09h1.7l-0.85 -1.48zM272.41 58.21h1.7l-0.85 -1.48zM272.55 62.58h1.7l-0.85 -1.48zM291.8 59.58h1.7l-0.85 -1.48zM285.95 58.88h1.7l-0.85 -1.48zM283.77 60.53h1.7l-0.85 -1.48zM274.7 52.63h1.7l-0.85 -1.48zM284 59.02h1.7l-0.85 -1.48zM354.85 62.46h1.7l-0.85 -1.48zM298.51 57.84h1.7l-0.85 -1.48zM273.55 62.15h1.7l-0.85 -1.48zM278.33 63.84h1.7l-0.85 -1.48zM277.54 54.73h1.7l-0.85 -1.48zM302.59 57.01h1.7l-0.85 -1.48zM283.32 60.36h1.7l-0.85 -1.48zM276.05 61.51h1.7l-0.85 -1.48zM286.23 63.74h1.7l-0.85 -1.48zM279.81 59.17h1.7l-0.85 -1.48zM284.58 63.86h1.7l-0.85 -1.48zM307.51 54.89h1.7l-0.85 -1.48zM275.32 61.71h1.7l-0.85 -1.48zM292.47 52.31h1.7l-0.85 -1.48zM276 63.08h1.7l-0.85 -1.48zM301.63 55.65h1.7l-0.85 -1.48zM281.22 61.72h1.7l-0.85 -1.48zM280.45 63h1.7l-0.85 -1.48zM295.59 57.96h1.7l-0.85 -1.48zM285.98 33.43h1.7l-0.85 -1.48zM286.66 63.14h1.7l-0.85 -1.48zM276.96 52.77h1.7l-0.85 -1.48zM302.29 57.55h1.7l-0.85 -1.48zM279.05 53.95h1.7l-0.85 -1.48zM274.54 62.98h1.7l-0.85 -1.48zM280.6 57.13h1.7l-0.85 -1.48zM284.19 57.97h1.7l-0.85 -1.48zM273.74 61.54h1.7l-0.85 -1.48zM281.26 61.34h1.7l-0.85 -1.48zM277.02 56.61h1.7l-0.85 -1.48zM279.18 62.82h1.7l-0.85 -1.48zM297.98 58.41h1.7l-0.85 -1.48zM272.59 57.71h1.7l-0.85 -1.48zM320.12 50.29h1.7l-0.85 -1.48zM300.02 47.5h1.7l-0.85 -1.48zM287.23 62.22h1.7l-0.85 -1.48zM297.63 63.28h1.7l-0.85 -1.48zM283.19 55.79h1.7l-0.85 -1.48zM285.79 61.17h1.7l-0.85 -1.48zM274.12 43.62h1.7l-0.85 -1.48zM292.02 61.76h1.7l-0.85 -1.48zM274.48 59.16h1.7l-0.85 -1.48zM283.22 58.58h1.7l-0.85 -1.48zM305.65 62.02h1.7l-0.85 -1.48zM287.69 63.96h1.7l-0.85 -1.48zM279.67 48.04h1.7l-0.85 -1.48zM273.63 54.82h1.7l-0.85 -1.48zM278.57 60.52h1.7l-0.85 -1.48zM277.42 56.89h1.7l-0.85 -1.48zM289.75 52.38h1.7l-0.85 -1.48zM278.79 62.43h1.7l-0.85 -1.48zM300.69 61.69h1.7l-0.85 -1.48zM289.61 62.09h1.7l-0.85 -1.48zM293.39 62.16h1.7l-0.85 -1.48zM283.03 58.11h1.7l-0.85 -1.48zM281.66 54.17h1.7l-0.85 -1.48zM293.62 57.51h1.7l-0.85 -1.48zM312 62.34h1.7l-0.85 -1.48zM277.05 64.33h1.7l-0.85 -1.48zM284.68 60.78h1.7l-0.85 -1.48zM287.64 62.33h1.7l-0.85 -1.48zM275.57 59.44h1.7l-0.85 -1.48zM276.84 57.95h1.7l-0.85 -1.48zM285.95 59.81h1.7l-0.85 -1.48zM292.65 58.41h1.7l-0.85 -1.48zM278.8 62.84h1.7l-0.85 -1.48zM287.22 62.38h1.7l-0.85 -1.48zM297.09 56.68h1.7l-0.85 -1.48zM277.81 63.22h1.7l-0.85 -1.48zM273.9 49.55h1.7l-0.85 -1.48zM271.97 62.62h1.7l-0.85 -1.48zM346.37 47.85h1.7l-0.85 -1.48zM313.36 53.87h1.7l-0.85 -1.48zM284.14 56.41h1.7l-0.85 -1.48zM276.2 63.09h1.7l-0.85 -1.48zM274.06 32.59h1.7l-0.85 -1.48zM275.44 53.2h1.7l-0.85 -1.48zM283.1 55.21h1.7l-0.85 -1.48zM274.01 60.88h1.7l-0.85 -1.48zM305.61 47.47h1.7l-0.85 -1.48zM275.33 43.8h1.7l-0.85 -1.48zM310.61 49.72h1.7l-0.85 -1.48zM273.01 62.47h1.7l-0.85 -1.48zM288.03 59.63h1.7l-0.85 -1.48zM283.34 56.45h1.7l-0.85 -1.48zM285.42 53.96h1.7l-0.85 -1.48zM311.88 56.54h1.7l-0.85 -1.48zM279.06 59.52h1.7l-0.85 -1.48zM274.09 59.01h1.7l-0.85 -1.48zM302.44 64.22h1.7l-0.85 -1.48zM272.27 53.01h1.7l-0.85 -1.48zM276.81 60.11h1.7l-0.85 -1.48zM288.51 41.68h1.7l-0.85 -1.48zM297.46 50.78h1.7l-0.85 -1.48zM292.56 62.48h1.7l-0.85 -1.48zM288.48 64.24h1.7l-0.85 -1.48zM290.76 63.33h1.7l-0.85 -1.48zM279.57 57.76h1.7l-0.85 -1.48zM315.14 58.28h1.7l-0.85 -1.48zM285.5 48.13h1.7l-0.85 -1.48zM276.38 63.75h1.7l-0.85 -1.48zM305.25 63.9h1.7l-0.85 -1.48zM273.72 54.86h1.7l-0.85 -1.48zM294.31 55.16h1.7l-0.85 -1.48zM299.62 62.31h1.7l-0.85 -1.48zM280.17 61.99h1.7l-0.85 -1.48zM282.94 59.36h1.7l-0.85 -1.48zM273.98 57.82h1.7l-0.85 -1.48zM290.8 53.87h1.7l-0.85 -1.48zM280.69 58.27h1.7l-0.85 -1.48zM279.48 64.17h1.7l-0.85 -1.48zM302.33 47.49h1.7l-0.85 -1.48zM275.06 60.96h1.7l-0.85 -1.48zM298.26 54.71h1.7l-0.85 -1.48zM296.16 57.94h1.7l-0.85 -1.48zM298.91 63.27h1.7l-0.85 -1.48zM298.34 58.97h1.7l-0.85 -1.48zM354.63 41.1h1.7l-0.85 -1.48zM302.54 59.73h1.7l-0.85 -1.48zM312.24 61.81h1.7l-0.85 -1.48zM330.18 59.31h1.7l-0.85 -1.48zM295.62 61.98h1.7l-0.85 -1.48zM282.73 39.77h1.7l-0.85 -1.48zM305.35 59.32h1.7l-0.85 -1.48zM318.67 58.84h1.7l-0.85 -1.48zM298.69 55.33h1.7l-0.85 -1.48zM283.44 57.75h1.7l-0.85 -1.48zM313.53 54.64h1.7l-0.85 -1.48zM277.12 59.45h1.7l-0.85 -1.48zM284.27 57.31h1.7l-0.85 -1.48zM277.91 63.78h1.7l-0.85 -1.48zM327.77 63.49h1.7l-0.85 -1.48zM320.35 56.39h1.7l-0.85 -1.48zM300.67 38.14h1.7l-0.85 -1.48zM279.49 63.33h1.7l-0.85 -1.48zM320.49 48.21h1.7l-0.85 -1.48zM301.8 61.6h1.7l-0.85 -1.48zM278.07 59.09h1.7l-0.85 -1.48zM301.77 62.61h1.7l-0.85 -1.48zM319.47 60.86h1.7l-0.85 -1.48zM288.57 48.8h1.7l-0.85 -1.48zM286.96 49.52h1.7l-0.85 -1.48zM298.14 61.32h1.7l-0.85 -1.48zM284.26 54.37h1.7l-0.85 -1.48zM310.15 51.84h1.7l-0.85 -1.48zM325.27 52.34h1.7l-0.85 -1.48zM306.23 59.02h1.7l-0.85 -1.48zM293.3 62.23h1.7l-0.85 -1.48zM285.3 57.76h1.7l-0.85 -1.48zM287.98 63.85h1.7l-0.85 -1.48zM278.77 44.5h1.7l-0.85 -1.48zM277.99 46.97h1.7l-0.85 -1.48zM300.64 53.48h1.7l-0.85 -1.48zM307.29 60.12h1.7l-0.85 -1.48zM282.46 60.35h1.7l-0.85 -1.48zM309.35 62.34h1.7l-0.85 -1.48zM294.91 55.93h1.7l-0.85 -1.48zM304.48 55.04h1.7l-0.85 -1.48zM277.47 39.77h1.7l-0.85 -1.48zM284.71 52.7h1.7l-0.85 -1.48zM292.24 58.76h1.7l-0.85 -1.48zM285.25 44.22h1.7l-0.85 -1.48zM288.07 62.75h1.7l-0.85 -1.48zM277.74 60.78h1.7l-0.85 -1.48zM318.38 59.71h1.7l-0.85 -1.48zM295.23 48.76h1.7l-0.85 -1.48zM311.81 50.75h1.7l-0.85 -1.48zM307.34 57.43h1.7l-0.85 -1.48zM298.35 54.16h1.7l-0.85 -1.48zM298.58 57.04h1.7l-0.85 -1.48zM286.32 61.76h1.7l-0.85 -1.48zM290.07 61.35h1.7l-0.85 -1.48zM276.61 50.42h1.7l-0.85 -1.48zM280.28 50.77h1.7l-0.85 -1.48zM306.37 57.75h1.7l-0.85 -1.48zM335.83 63.06h1.7l-0.85 -1.48zM295.03 45.77h1.7l-0.85 -1.48zM300.34 61.31h1.7l-0.85 -1.48zM277.99 57.2h1.7l-0.85 -1.48zM276.79 51.66h1.7l-0.85 -1.48zM306.66 60.38h1.7l-0.85 -1.48zM328.54 52.39h1.7l-0.85 -1.48zM279.98 62.77h1.7l-0.85 -1.48zM278.53 61.58h1.7l-0.85 -1.48zM303.33 56.3h1.7l-0.85 -1.48zM330.23 54.79h1.7l-0.85 -1.48zM317.87 58.92h1.7l-0.85 -1.48zM286.19 61.27h1.7l-0.85 -1.48zM278.32 39.34h1.7l-0.85 -1.48zM281.23 49.07h1.7l-0.85 -1.48zM287.01 54.16h1.7l-0.85 -1.48zM306.49 46.4h1.7l-0.85 -1.48zM284.05 56.53h1.7l-0.85 -1.48zM287.12 53.3h1.7l-0.85 -1.48zM322.51 61.85h1.7l-0.85 -1.48zM312.13 59.69h1.7l-0.85 -1.48zM275.72 61.89h1.7l-0.85 -1.48zM302.96 56.75h1.7l-0.85 -1.48zM282.6 59.74h1.7l-0.85 -1.48zM295.08 51.62h1.7l-0.85 -1.48zM280.45 62.43h1.7l-0.85 -1.48zM317.56 59.32h1.7l-0.85 -1.48zM279.47 48.01h1.7l-0.85 -1.48zM301.19 61.04h1.7l-0.85 -1.48zM291.98 57.51h1.7l-0.85 -1.48zM279.77 61.77h1.7l-0.85 -1.48zM329.99 55.71h1.7l-0.85 -1.48zM295.95 57.02h1.7l-0.85 -1.48zM288.79 57.82h1.7l-0.85 -1.48zM316.34 59.58h1.7l-0.85 -1.48zM306.91 63.69h1.7l-0.85 -1.48zM292.35 52.77h1.7l-0.85 -1.48zM298.23 61.33h1.7l-0.85 -1.48zM303.54 44.11h1.7l-0.85 -1.48zM272.99 56.86h1.7l-0.85 -1.48zM295.41 56.65h1.7l-0.85 -1.48zM279.56 46.65h1.7l-0.85 -1.48zM280.08 58.2h1.7l-0.85 -1.48zM307.06 51.72h1.7l-0.85 -1.48zM332.85 62.27h1.7l-0.85 -1.48zM283.26 52.18h1.7l-0.85 -1.48zM304.89 58.37h1.7l-0.85 -1.48zM321.27 35.18h1.7l-0.85 -1.48zM354.12 46.68h1.7l-0.85 -1.48zM336.36 53.32h1.7l-0.85 -1.48zM318.6 34.29h1.7l-0.85 -1.48zM274.2 35.18h1.7l-0.85 -1.48zM285.75 35.18h1.7l-0.85 -1.48zM296.4 34.29h1.7l-0.85 -1.48zM307.06 38.72h1.7l-0.85 -1.48zM282.19 41.37h1.7l-0.85 -1.48zM342.58 49.34h1.7l-0.85 -1.48zM328.37 52.88h1.7l-0.85 -1.48zM324.82 56.42h1.7l-0.85 -1.48z" fill="#e64b35" fill-opacity="0.9"/>
<path d="M272.6 74.6L272.6 82.5L280 83.3L290 82.8L300 81L308 78L312 75.5L312 74.6Z" fill="#2e8b57"/>
<path d="M286.53 78.69h1.7l-0.85 1.48zM283.98 74.59h1.7l-0.85 1.48zM312.93 74.93h1.7l-0.85 1.48zM294.61 76.8h1.7l-0.85 1.48zM311.25 76.54h1.7l-0.85 1.48zM278.75 85.44h1.7l-0.85 1.48zM276.85 83.3h1.7l-0.85 1.48zM281.54 78.83h1.7l-0.85 1.48zM306.99 86.83h1.7l-0.85 1.48zM281.13 82.1h1.7l-0.85 1.48zM295.64 84.96h1.7l-0.85 1.48zM280.64 95.01h1.7l-0.85 1.48zM279.17 74.96h1.7l-0.85 1.48zM283.03 79.85h1.7l-0.85 1.48zM351.43 76.59h1.7l-0.85 1.48zM285.74 76.63h1.7l-0.85 1.48zM288.01 78.17h1.7l-0.85 1.48zM278 76.49h1.7l-0.85 1.48zM294.93 79.64h1.7l-0.85 1.48zM306.93 77.26h1.7l-0.85 1.48zM303.65 77.37h1.7l-0.85 1.48zM278.43 84.69h1.7l-0.85 1.48zM290.75 80.76h1.7l-0.85 1.48zM276.25 76.63h1.7l-0.85 1.48zM291.03 76.64h1.7l-0.85 1.48zM276.73 76.4h1.7l-0.85 1.48zM285.98 75.1h1.7l-0.85 1.48zM302.31 74.91h1.7l-0.85 1.48zM283.57 79.95h1.7l-0.85 1.48zM279.93 78.64h1.7l-0.85 1.48zM273.15 76.69h1.7l-0.85 1.48zM295.92 80.69h1.7l-0.85 1.48zM282.56 81.27h1.7l-0.85 1.48zM282.08 77.22h1.7l-0.85 1.48zM299.28 77.6h1.7l-0.85 1.48zM278.97 84.12h1.7l-0.85 1.48zM338.97 74.29h1.7l-0.85 1.48zM312.97 96.2h1.7l-0.85 1.48zM279.07 74.91h1.7l-0.85 1.48zM277.06 82.85h1.7l-0.85 1.48zM278.23 74.43h1.7l-0.85 1.48zM273.56 81.36h1.7l-0.85 1.48zM286.4 79.18h1.7l-0.85 1.48zM282.84 87.51h1.7l-0.85 1.48zM282.72 79.31h1.7l-0.85 1.48zM307.23 83.12h1.7l-0.85 1.48zM274.76 91.39h1.7l-0.85 1.48zM277.82 75.12h1.7l-0.85 1.48zM293.29 74.79h1.7l-0.85 1.48zM279.79 85.2h1.7l-0.85 1.48zM293.49 79.38h1.7l-0.85 1.48zM310.99 77.38h1.7l-0.85 1.48zM276.7 87.04h1.7l-0.85 1.48zM315.36 80.54h1.7l-0.85 1.48zM293.9 83.5h1.7l-0.85 1.48zM284.64 74.17h1.7l-0.85 1.48zM296.37 77.74h1.7l-0.85 1.48zM290.56 78.96h1.7l-0.85 1.48zM307.86 82.49h1.7l-0.85 1.48zM286.52 74.16h1.7l-0.85 1.48zM281.27 91.14h1.7l-0.85 1.48zM329.09 87.06h1.7l-0.85 1.48zM288.49 78.21h1.7l-0.85 1.48zM272.69 75.79h1.7l-0.85 1.48zM292.92 77.57h1.7l-0.85 1.48zM295.84 82.44h1.7l-0.85 1.48zM315.63 90.7h1.7l-0.85 1.48zM295.77 84.36h1.7l-0.85 1.48zM312.83 85.31h1.7l-0.85 1.48zM278.77 79.38h1.7l-0.85 1.48zM294.48 95.74h1.7l-0.85 1.48zM287.34 75.48h1.7l-0.85 1.48zM324.86 74.59h1.7l-0.85 1.48zM289.27 77.83h1.7l-0.85 1.48zM284.71 95.77h1.7l-0.85 1.48zM279.17 74.94h1.7l-0.85 1.48zM284.8 77.94h1.7l-0.85 1.48zM293.65 77.35h1.7l-0.85 1.48zM279.19 78.86h1.7l-0.85 1.48zM284.24 75.79h1.7l-0.85 1.48zM276.97 78.84h1.7l-0.85 1.48zM300.8 80.17h1.7l-0.85 1.48zM278.54 76.18h1.7l-0.85 1.48zM279.4 77.02h1.7l-0.85 1.48zM335.89 85.21h1.7l-0.85 1.48zM282.74 74.91h1.7l-0.85 1.48zM310.12 81.37h1.7l-0.85 1.48zM322.44 91.28h1.7l-0.85 1.48zM283.11 83.23h1.7l-0.85 1.48zM272.66 78.22h1.7l-0.85 1.48zM286.07 78.23h1.7l-0.85 1.48zM278.12 76.89h1.7l-0.85 1.48zM273.82 88.39h1.7l-0.85 1.48zM274.81 75.69h1.7l-0.85 1.48zM345.55 77.8h1.7l-0.85 1.48zM311.45 91.05h1.7l-0.85 1.48zM279.16 78.4h1.7l-0.85 1.48zM274.51 82.22h1.7l-0.85 1.48zM330.01 86.76h1.7l-0.85 1.48zM274.09 101.23h1.7l-0.85 1.48zM284.9 87.18h1.7l-0.85 1.48zM288.24 79.08h1.7l-0.85 1.48zM313.82 100.03h1.7l-0.85 1.48zM295.48 90.56h1.7l-0.85 1.48zM277.32 78.2h1.7l-0.85 1.48zM283.38 76.13h1.7l-0.85 1.48zM301.81 77.79h1.7l-0.85 1.48zM280 79.37h1.7l-0.85 1.48zM279.77 74.24h1.7l-0.85 1.48zM283.06 74.43h1.7l-0.85 1.48zM314.73 85.17h1.7l-0.85 1.48zM295.29 79.46h1.7l-0.85 1.48zM278.83 87.48h1.7l-0.85 1.48zM284.75 84.97h1.7l-0.85 1.48zM287.5 82.45h1.7l-0.85 1.48zM291.49 75.53h1.7l-0.85 1.48zM276.57 79.45h1.7l-0.85 1.48zM275.23 77h1.7l-0.85 1.48zM283.15 80.46h1.7l-0.85 1.48zM284.33 86.29h1.7l-0.85 1.48zM286.27 74.66h1.7l-0.85 1.48zM280.09 74.56h1.7l-0.85 1.48zM291.53 93.49h1.7l-0.85 1.48zM282.05 82.99h1.7l-0.85 1.48zM314.4 78.73h1.7l-0.85 1.48zM304.32 87.83h1.7l-0.85 1.48zM299.03 84.88h1.7l-0.85 1.48zM293.54 74.55h1.7l-0.85 1.48zM275.6 76.7h1.7l-0.85 1.48zM279.2 86.62h1.7l-0.85 1.48zM300.92 80.65h1.7l-0.85 1.48zM297.29 78.79h1.7l-0.85 1.48zM282.9 77.07h1.7l-0.85 1.48zM284.96 75.74h1.7l-0.85 1.48zM283.14 87.92h1.7l-0.85 1.48zM272.41 76.96h1.7l-0.85 1.48zM360.76 87.15h1.7l-0.85 1.48zM288.78 76.68h1.7l-0.85 1.48zM281.22 92.86h1.7l-0.85 1.48zM310.62 89.65h1.7l-0.85 1.48zM305.41 78.36h1.7l-0.85 1.48zM289.48 77.56h1.7l-0.85 1.48zM272.09 76.45h1.7l-0.85 1.48zM273.51 81.16h1.7l-0.85 1.48zM316.22 89.67h1.7l-0.85 1.48zM273.13 78.11h1.7l-0.85 1.48zM290.22 76.92h1.7l-0.85 1.48zM292.05 76.32h1.7l-0.85 1.48zM290.74 88.83h1.7l-0.85 1.48zM289.74 79.7h1.7l-0.85 1.48zM283.8 87h1.7l-0.85 1.48zM279.01 79.01h1.7l-0.85 1.48zM280.86 77.62h1.7l-0.85 1.48zM284.81 74.38h1.7l-0.85 1.48zM297.38 92.4h1.7l-0.85 1.48zM320.15 99.02h1.7l-0.85 1.48zM272.41 77.62h1.7l-0.85 1.48zM284.3 83.32h1.7l-0.85 1.48zM283.61 79.56h1.7l-0.85 1.48zM277.08 87.16h1.7l-0.85 1.48zM276.47 79.47h1.7l-0.85 1.48zM341.94 82.69h1.7l-0.85 1.48zM283.25 88.26h1.7l-0.85 1.48zM302.9 79.22h1.7l-0.85 1.48zM287.23 82.24h1.7l-0.85 1.48zM322.95 78.21h1.7l-0.85 1.48zM296.44 76.82h1.7l-0.85 1.48zM273.75 81.52h1.7l-0.85 1.48zM277.12 78.17h1.7l-0.85 1.48zM305.66 75.93h1.7l-0.85 1.48zM285.02 78.1h1.7l-0.85 1.48zM275.31 79h1.7l-0.85 1.48zM296.46 74.67h1.7l-0.85 1.48zM281.61 81.13h1.7l-0.85 1.48zM296.42 81.42h1.7l-0.85 1.48zM342.94 87.61h1.7l-0.85 1.48zM301.84 77.85h1.7l-0.85 1.48zM295.11 86.05h1.7l-0.85 1.48zM288.26 77.72h1.7l-0.85 1.48zM311.54 77.66h1.7l-0.85 1.48zM278.3 80.48h1.7l-0.85 1.48zM295.34 79.02h1.7l-0.85 1.48zM279.85 81.66h1.7l-0.85 1.48zM281.92 77.15h1.7l-0.85 1.48zM283.04 74.6h1.7l-0.85 1.48zM278.09 75.17h1.7l-0.85 1.48zM298.8 83.3h1.7l-0.85 1.48zM273.45 75.54h1.7l-0.85 1.48zM285.57 95.36h1.7l-0.85 1.48zM288.32 78.13h1.7l-0.85 1.48zM302.31 80.22h1.7l-0.85 1.48zM282.62 85.08h1.7l-0.85 1.48zM316.42 80.58h1.7l-0.85 1.48zM292.41 76.01h1.7l-0.85 1.48zM299.41 78.54h1.7l-0.85 1.48zM280.12 91.44h1.7l-0.85 1.48zM295 87.74h1.7l-0.85 1.48zM294.45 75.27h1.7l-0.85 1.48zM273.16 75.89h1.7l-0.85 1.48zM295.62 78.11h1.7l-0.85 1.48zM284.05 80.12h1.7l-0.85 1.48zM281.44 76.95h1.7l-0.85 1.48zM281.89 78.09h1.7l-0.85 1.48zM275.61 81.97h1.7l-0.85 1.48zM285 79.77h1.7l-0.85 1.48zM280.36 85.18h1.7l-0.85 1.48zM273.6 77.01h1.7l-0.85 1.48zM304.07 81.33h1.7l-0.85 1.48zM289.53 75.47h1.7l-0.85 1.48zM275.21 79.61h1.7l-0.85 1.48zM287.02 89.05h1.7l-0.85 1.48zM274.24 80.15h1.7l-0.85 1.48zM277.88 77.99h1.7l-0.85 1.48zM290.24 76.27h1.7l-0.85 1.48zM287.13 78.96h1.7l-0.85 1.48zM293.67 90.16h1.7l-0.85 1.48zM286.09 77.11h1.7l-0.85 1.48zM313.24 77.65h1.7l-0.85 1.48zM284.22 78.27h1.7l-0.85 1.48zM288.99 90.9h1.7l-0.85 1.48zM323.83 85.83h1.7l-0.85 1.48zM283.2 93.21h1.7l-0.85 1.48zM278.39 79.51h1.7l-0.85 1.48zM324.68 82.26h1.7l-0.85 1.48zM274.97 79.78h1.7l-0.85 1.48zM290.79 86.07h1.7l-0.85 1.48zM275.08 91.47h1.7l-0.85 1.48zM276.62 84.71h1.7l-0.85 1.48zM276.27 76.05h1.7l-0.85 1.48zM291.64 76.52h1.7l-0.85 1.48zM284.82 87.59h1.7l-0.85 1.48zM284.27 75.49h1.7l-0.85 1.48zM306.18 78.92h1.7l-0.85 1.48zM273.37 80.51h1.7l-0.85 1.48zM288.96 76.03h1.7l-0.85 1.48zM288.84 79.44h1.7l-0.85 1.48zM285.46 78.15h1.7l-0.85 1.48zM273.8 81.62h1.7l-0.85 1.48zM289.02 75.51h1.7l-0.85 1.48zM292.85 92.41h1.7l-0.85 1.48zM276.03 81.32h1.7l-0.85 1.48zM272.38 78.5h1.7l-0.85 1.48zM314.83 75.6h1.7l-0.85 1.48zM275.8 81.06h1.7l-0.85 1.48zM290.58 76.89h1.7l-0.85 1.48zM296.37 76.32h1.7l-0.85 1.48zM296.09 92.48h1.7l-0.85 1.48zM276.08 87.3h1.7l-0.85 1.48zM313.72 78.11h1.7l-0.85 1.48zM309.83 78.27h1.7l-0.85 1.48zM297.61 98.13h1.7l-0.85 1.48zM293.96 82.82h1.7l-0.85 1.48zM278 74.91h1.7l-0.85 1.48zM282.84 77.2h1.7l-0.85 1.48zM292.98 74.18h1.7l-0.85 1.48zM297.13 75.99h1.7l-0.85 1.48zM278.06 93.51h1.7l-0.85 1.48zM277.78 75.3h1.7l-0.85 1.48zM324.63 75.25h1.7l-0.85 1.48zM299.99 85.58h1.7l-0.85 1.48zM278.54 85.02h1.7l-0.85 1.48zM277.43 77.43h1.7l-0.85 1.48zM304.44 86.62h1.7l-0.85 1.48zM288.3 79.28h1.7l-0.85 1.48zM273.28 78.63h1.7l-0.85 1.48zM290.97 76.72h1.7l-0.85 1.48zM276.03 90.86h1.7l-0.85 1.48zM291.26 80.9h1.7l-0.85 1.48zM273.31 87.21h1.7l-0.85 1.48zM290.25 77.56h1.7l-0.85 1.48zM277.28 79.77h1.7l-0.85 1.48zM283.97 82.89h1.7l-0.85 1.48zM296.14 87.63h1.7l-0.85 1.48zM284.21 91h1.7l-0.85 1.48zM276.84 79.05h1.7l-0.85 1.48zM279.22 76.45h1.7l-0.85 1.48zM283.22 92.03h1.7l-0.85 1.48zM272.55 75.62h1.7l-0.85 1.48zM280.03 79.23h1.7l-0.85 1.48zM302.27 84.02h1.7l-0.85 1.48zM281.33 76.14h1.7l-0.85 1.48zM276.58 89.38h1.7l-0.85 1.48zM309.84 76.06h1.7l-0.85 1.48zM324.94 86.74h1.7l-0.85 1.48zM288.28 79.09h1.7l-0.85 1.48zM289.21 89.99h1.7l-0.85 1.48zM273.38 84.75h1.7l-0.85 1.48zM295.84 80.03h1.7l-0.85 1.48zM278.86 79.81h1.7l-0.85 1.48zM278.58 77.76h1.7l-0.85 1.48zM273.92 78.44h1.7l-0.85 1.48zM272.3 78.49h1.7l-0.85 1.48zM275.24 77.53h1.7l-0.85 1.48zM284.76 82.68h1.7l-0.85 1.48zM279.01 75.13h1.7l-0.85 1.48zM281.8 83.72h1.7l-0.85 1.48zM299.77 88.19h1.7l-0.85 1.48zM304.34 85.17h1.7l-0.85 1.48zM275.23 96.49h1.7l-0.85 1.48zM293.64 77.28h1.7l-0.85 1.48zM275.9 78.67h1.7l-0.85 1.48zM275.06 77.38h1.7l-0.85 1.48zM300.92 82.29h1.7l-0.85 1.48zM302.68 86.1h1.7l-0.85 1.48zM279.92 77.24h1.7l-0.85 1.48zM276.4 77.08h1.7l-0.85 1.48zM307.07 74.71h1.7l-0.85 1.48zM301.43 77.69h1.7l-0.85 1.48zM283.45 83.32h1.7l-0.85 1.48zM337.78 77.67h1.7l-0.85 1.48zM349.75 79.79h1.7l-0.85 1.48zM308.64 76.14h1.7l-0.85 1.48zM314.7 106.21h1.7l-0.85 1.48zM293.58 83.06h1.7l-0.85 1.48zM301.92 81.05h1.7l-0.85 1.48zM310.5 75.06h1.7l-0.85 1.48zM296.23 80.92h1.7l-0.85 1.48zM273.3 74.68h1.7l-0.85 1.48zM285.18 78.58h1.7l-0.85 1.48zM282.88 74.76h1.7l-0.85 1.48zM289.12 80.5h1.7l-0.85 1.48zM278.7 88.04h1.7l-0.85 1.48zM274.34 94.25h1.7l-0.85 1.48zM309.79 85.53h1.7l-0.85 1.48zM273.73 82.2h1.7l-0.85 1.48zM284.89 75.93h1.7l-0.85 1.48zM343.09 79.68h1.7l-0.85 1.48zM274.86 82.97h1.7l-0.85 1.48zM315.74 78.44h1.7l-0.85 1.48zM287.05 87.83h1.7l-0.85 1.48zM282.03 77.8h1.7l-0.85 1.48zM273.28 76.24h1.7l-0.85 1.48zM305.19 96.78h1.7l-0.85 1.48zM330.63 77.62h1.7l-0.85 1.48zM276.24 77.74h1.7l-0.85 1.48zM279.87 77.24h1.7l-0.85 1.48zM290.19 75.22h1.7l-0.85 1.48zM278.18 81.73h1.7l-0.85 1.48zM294.57 82.58h1.7l-0.85 1.48zM274.79 80.03h1.7l-0.85 1.48zM306.65 78.64h1.7l-0.85 1.48zM276.94 77.19h1.7l-0.85 1.48zM308.25 88.1h1.7l-0.85 1.48zM277.1 76.12h1.7l-0.85 1.48zM290.78 89.36h1.7l-0.85 1.48zM315.37 79.13h1.7l-0.85 1.48zM280.64 79.91h1.7l-0.85 1.48zM328.32 82.37h1.7l-0.85 1.48zM278.3 92.76h1.7l-0.85 1.48zM306.46 82.15h1.7l-0.85 1.48zM299.12 78.54h1.7l-0.85 1.48zM290.73 75.16h1.7l-0.85 1.48zM310.75 82.34h1.7l-0.85 1.48zM279.8 90.45h1.7l-0.85 1.48zM313.25 90.85h1.7l-0.85 1.48zM289.6 83.84h1.7l-0.85 1.48zM277.1 77.1h1.7l-0.85 1.48zM277.26 84.14h1.7l-0.85 1.48zM281.47 80.35h1.7l-0.85 1.48zM283.29 80.51h1.7l-0.85 1.48zM280.19 76.56h1.7l-0.85 1.48zM276.54 79.5h1.7l-0.85 1.48zM295.55 74.86h1.7l-0.85 1.48zM305.36 93.66h1.7l-0.85 1.48zM278.5 77.8h1.7l-0.85 1.48zM277.24 86.87h1.7l-0.85 1.48zM327.71 82.28h1.7l-0.85 1.48zM272.76 89.83h1.7l-0.85 1.48zM273.38 81.3h1.7l-0.85 1.48zM291.35 78.6h1.7l-0.85 1.48zM282.46 76.07h1.7l-0.85 1.48zM281.57 85.55h1.7l-0.85 1.48zM292.98 77.71h1.7l-0.85 1.48zM277.72 75.54h1.7l-0.85 1.48zM281.34 83.04h1.7l-0.85 1.48zM294.73 80.78h1.7l-0.85 1.48zM281.45 76.62h1.7l-0.85 1.48zM285.24 83.13h1.7l-0.85 1.48zM274.63 75.2h1.7l-0.85 1.48zM288.24 74.98h1.7l-0.85 1.48zM302.37 87.67h1.7l-0.85 1.48zM281.46 82.85h1.7l-0.85 1.48zM276.45 75.09h1.7l-0.85 1.48zM288.04 91.05h1.7l-0.85 1.48zM304.17 115.78h1.7l-0.85 1.48zM293.15 80.54h1.7l-0.85 1.48zM276.76 79.67h1.7l-0.85 1.48zM283.82 82.24h1.7l-0.85 1.48zM275.03 77.55h1.7l-0.85 1.48zM273.32 85.7h1.7l-0.85 1.48zM273 96.55h1.7l-0.85 1.48zM308.94 77.58h1.7l-0.85 1.48zM290.09 98.78h1.7l-0.85 1.48zM294.29 93.41h1.7l-0.85 1.48zM296.85 81.83h1.7l-0.85 1.48zM284.54 76h1.7l-0.85 1.48zM284.38 79.01h1.7l-0.85 1.48zM295.12 81.9h1.7l-0.85 1.48zM299.4 79.48h1.7l-0.85 1.48zM288.56 79.78h1.7l-0.85 1.48zM280.76 76.83h1.7l-0.85 1.48zM274.5 74.8h1.7l-0.85 1.48zM289.26 74.41h1.7l-0.85 1.48zM288.22 74.74h1.7l-0.85 1.48zM276.8 78.65h1.7l-0.85 1.48zM284.99 82.99h1.7l-0.85 1.48zM289.85 76.64h1.7l-0.85 1.48zM283.34 83.22h1.7l-0.85 1.48zM286.27 85.37h1.7l-0.85 1.48zM277.76 75.93h1.7l-0.85 1.48zM274.99 84.24h1.7l-0.85 1.48zM317.19 77.51h1.7l-0.85 1.48zM279.47 75.07h1.7l-0.85 1.48zM304.82 78.01h1.7l-0.85 1.48zM289.19 79.52h1.7l-0.85 1.48zM273.92 74.29h1.7l-0.85 1.48zM314.62 89.4h1.7l-0.85 1.48zM303.09 78.45h1.7l-0.85 1.48zM277.75 78.78h1.7l-0.85 1.48zM276.93 80.3h1.7l-0.85 1.48zM283.91 77.05h1.7l-0.85 1.48zM289.96 77.83h1.7l-0.85 1.48zM276.59 75.83h1.7l-0.85 1.48zM284.73 77.52h1.7l-0.85 1.48zM298.13 80.49h1.7l-0.85 1.48zM290.55 74.9h1.7l-0.85 1.48zM283.15 74.83h1.7l-0.85 1.48zM279.74 81.71h1.7l-0.85 1.48zM279.14 77.12h1.7l-0.85 1.48zM288.48 77.16h1.7l-0.85 1.48zM305.19 77.07h1.7l-0.85 1.48zM283.12 88.67h1.7l-0.85 1.48zM288.06 78.26h1.7l-0.85 1.48zM325.7 81.9h1.7l-0.85 1.48zM311.27 83.87h1.7l-0.85 1.48zM296.61 90.54h1.7l-0.85 1.48zM294.19 77.62h1.7l-0.85 1.48zM284.97 78.97h1.7l-0.85 1.48zM308.95 87.45h1.7l-0.85 1.48zM290.03 79.57h1.7l-0.85 1.48zM289.81 87.52h1.7l-0.85 1.48zM328.09 82.47h1.7l-0.85 1.48zM277.22 75.04h1.7l-0.85 1.48zM277.03 94.94h1.7l-0.85 1.48zM275.39 77.2h1.7l-0.85 1.48zM288.16 76.04h1.7l-0.85 1.48zM288.45 82.17h1.7l-0.85 1.48zM291.33 87.17h1.7l-0.85 1.48zM330.25 74.32h1.7l-0.85 1.48zM332.4 90.01h1.7l-0.85 1.48zM279.18 87.88h1.7l-0.85 1.48zM291.84 75.69h1.7l-0.85 1.48zM281.49 74.9h1.7l-0.85 1.48zM299.37 78.41h1.7l-0.85 1.48zM314.55 78.93h1.7l-0.85 1.48zM283.27 75.58h1.7l-0.85 1.48zM326.2 78.83h1.7l-0.85 1.48zM312.03 93.14h1.7l-0.85 1.48zM293.18 80.37h1.7l-0.85 1.48zM282.79 79.34h1.7l-0.85 1.48zM295.9 85.35h1.7l-0.85 1.48zM312.26 86.95h1.7l-0.85 1.48zM288.13 75.96h1.7l-0.85 1.48zM279.01 77.91h1.7l-0.85 1.48zM299.5 87.49h1.7l-0.85 1.48zM280.02 77.35h1.7l-0.85 1.48zM272.88 74.25h1.7l-0.85 1.48zM295.36 110.22h1.7l-0.85 1.48zM278.11 75.85h1.7l-0.85 1.48zM276.39 79.05h1.7l-0.85 1.48zM273.79 100.35h1.7l-0.85 1.48zM284.58 88.34h1.7l-0.85 1.48zM276.66 78.71h1.7l-0.85 1.48zM307.3 74.11h1.7l-0.85 1.48zM275.03 81.11h1.7l-0.85 1.48zM333.57 81.29h1.7l-0.85 1.48zM277.14 79.01h1.7l-0.85 1.48zM273.43 84.34h1.7l-0.85 1.48zM288.8 79.62h1.7l-0.85 1.48zM277.8 84.71h1.7l-0.85 1.48zM272.51 82.97h1.7l-0.85 1.48zM278.71 74.76h1.7l-0.85 1.48zM278.44 81.73h1.7l-0.85 1.48zM308.07 111.3h1.7l-0.85 1.48zM295.97 79.35h1.7l-0.85 1.48zM284.87 81.09h1.7l-0.85 1.48zM279.94 76.44h1.7l-0.85 1.48zM290.92 82.89h1.7l-0.85 1.48zM272.44 78.95h1.7l-0.85 1.48zM282.03 79.29h1.7l-0.85 1.48zM319.1 103.09h1.7l-0.85 1.48zM294.8 90.31h1.7l-0.85 1.48zM304.65 74.14h1.7l-0.85 1.48zM291.31 78.4h1.7l-0.85 1.48zM282.32 87.95h1.7l-0.85 1.48zM283.25 74.54h1.7l-0.85 1.48zM282.96 75.92h1.7l-0.85 1.48zM275.15 83.31h1.7l-0.85 1.48zM284.43 90.58h1.7l-0.85 1.48zM289.59 94.73h1.7l-0.85 1.48zM278.96 76.5h1.7l-0.85 1.48zM279.65 78.98h1.7l-0.85 1.48zM314.14 82.68h1.7l-0.85 1.48zM275.01 80.08h1.7l-0.85 1.48zM272.52 78.02h1.7l-0.85 1.48zM279.49 92.7h1.7l-0.85 1.48zM295.35 88.74h1.7l-0.85 1.48zM286.73 85.86h1.7l-0.85 1.48zM281.13 81.32h1.7l-0.85 1.48zM289.7 80.5h1.7l-0.85 1.48zM287.24 75.59h1.7l-0.85 1.48zM295.56 78.98h1.7l-0.85 1.48zM280.52 79.62h1.7l-0.85 1.48zM299.75 80.31h1.7l-0.85 1.48zM284.8 86.46h1.7l-0.85 1.48zM274.63 82.94h1.7l-0.85 1.48zM281.47 79.05h1.7l-0.85 1.48zM287.63 96.17h1.7l-0.85 1.48zM272.18 83.81h1.7l-0.85 1.48zM295.23 80.81h1.7l-0.85 1.48zM281.09 79.34h1.7l-0.85 1.48zM325.4 74.6h1.7l-0.85 1.48zM317.49 89.97h1.7l-0.85 1.48zM299 85.51h1.7l-0.85 1.48zM313.44 78.99h1.7l-0.85 1.48zM293.55 75.81h1.7l-0.85 1.48zM292.12 99.96h1.7l-0.85 1.48zM286.62 82.9h1.7l-0.85 1.48zM275.28 86.57h1.7l-0.85 1.48zM297.09 82.51h1.7l-0.85 1.48zM277.6 79.24h1.7l-0.85 1.48zM273.43 92.36h1.7l-0.85 1.48zM281.83 76.89h1.7l-0.85 1.48zM289.48 83.35h1.7l-0.85 1.48zM275.68 74.76h1.7l-0.85 1.48zM291.49 82.93h1.7l-0.85 1.48zM317.12 82.53h1.7l-0.85 1.48zM300.78 77.83h1.7l-0.85 1.48zM284.57 83.83h1.7l-0.85 1.48zM296.09 87.16h1.7l-0.85 1.48zM273.64 76.33h1.7l-0.85 1.48zM299.19 80.11h1.7l-0.85 1.48zM273.62 74.14h1.7l-0.85 1.48zM276.92 75.81h1.7l-0.85 1.48zM282.23 84.24h1.7l-0.85 1.48zM298.48 75.33h1.7l-0.85 1.48zM280.9 78.62h1.7l-0.85 1.48zM285.22 86.95h1.7l-0.85 1.48zM302.41 92.31h1.7l-0.85 1.48zM292.98 78.64h1.7l-0.85 1.48zM284.06 83.54h1.7l-0.85 1.48zM299.78 89.06h1.7l-0.85 1.48zM312.05 75.92h1.7l-0.85 1.48zM279.19 83.63h1.7l-0.85 1.48zM278.54 83.33h1.7l-0.85 1.48zM275.53 90.75h1.7l-0.85 1.48zM304.16 80.45h1.7l-0.85 1.48zM281.55 80.05h1.7l-0.85 1.48zM274.38 76.2h1.7l-0.85 1.48zM306.58 78.68h1.7l-0.85 1.48zM309.52 82.06h1.7l-0.85 1.48zM275.7 74.2h1.7l-0.85 1.48zM288.12 76.49h1.7l-0.85 1.48zM282.12 101.93h1.7l-0.85 1.48zM288.74 76.54h1.7l-0.85 1.48zM283.6 81.23h1.7l-0.85 1.48zM277.24 75.06h1.7l-0.85 1.48zM314.24 82.39h1.7l-0.85 1.48zM316.97 77.25h1.7l-0.85 1.48zM278.56 76.66h1.7l-0.85 1.48zM276.01 75.58h1.7l-0.85 1.48zM289.41 80.4h1.7l-0.85 1.48zM285.06 77.78h1.7l-0.85 1.48zM306.09 87.56h1.7l-0.85 1.48zM297.7 90.78h1.7l-0.85 1.48zM294.99 79.79h1.7l-0.85 1.48zM296.12 87.1h1.7l-0.85 1.48zM337.29 80.06h1.7l-0.85 1.48zM287.15 75.25h1.7l-0.85 1.48zM279.98 75.04h1.7l-0.85 1.48zM282.97 78.17h1.7l-0.85 1.48zM304.97 79.61h1.7l-0.85 1.48zM281.62 76.27h1.7l-0.85 1.48zM275.95 90.44h1.7l-0.85 1.48zM303.79 75.49h1.7l-0.85 1.48zM286.76 75.82h1.7l-0.85 1.48zM291.13 84.09h1.7l-0.85 1.48zM283.6 74.43h1.7l-0.85 1.48zM277.05 75.86h1.7l-0.85 1.48zM336.12 95.88h1.7l-0.85 1.48zM296.17 76.33h1.7l-0.85 1.48zM279.63 76.2h1.7l-0.85 1.48zM300.21 86.5h1.7l-0.85 1.48zM274.98 86.37h1.7l-0.85 1.48zM296.13 79.96h1.7l-0.85 1.48zM287.96 77.7h1.7l-0.85 1.48zM350.28 79.01h1.7l-0.85 1.48zM286.89 80.45h1.7l-0.85 1.48zM282.07 89.75h1.7l-0.85 1.48zM278.09 76.27h1.7l-0.85 1.48zM273.76 81.04h1.7l-0.85 1.48zM282.3 80.03h1.7l-0.85 1.48zM301.28 76.65h1.7l-0.85 1.48zM277.98 76.69h1.7l-0.85 1.48zM324.26 75h1.7l-0.85 1.48zM307.19 84.39h1.7l-0.85 1.48zM309.29 81.98h1.7l-0.85 1.48zM286.59 75.14h1.7l-0.85 1.48zM285.67 78.8h1.7l-0.85 1.48zM276.3 87.29h1.7l-0.85 1.48zM315.99 74.94h1.7l-0.85 1.48zM300.35 84.07h1.7l-0.85 1.48zM307.27 79.52h1.7l-0.85 1.48zM286.96 91.12h1.7l-0.85 1.48zM277.65 85.11h1.7l-0.85 1.48zM276.04 83.04h1.7l-0.85 1.48zM285.81 82.73h1.7l-0.85 1.48zM278.08 78.95h1.7l-0.85 1.48zM292.9 92h1.7l-0.85 1.48zM293.5 78.24h1.7l-0.85 1.48zM279.18 89.21h1.7l-0.85 1.48zM316.97 94.52h1.7l-0.85 1.48zM328.35 87.4h1.7l-0.85 1.48zM318.32 90.68h1.7l-0.85 1.48zM303.31 78.42h1.7l-0.85 1.48zM278.59 80.21h1.7l-0.85 1.48zM273.91 77.39h1.7l-0.85 1.48zM280.45 75.71h1.7l-0.85 1.48zM287.93 75.67h1.7l-0.85 1.48zM277.67 82.84h1.7l-0.85 1.48zM287.13 79.87h1.7l-0.85 1.48zM294.04 81.67h1.7l-0.85 1.48zM315.18 82.11h1.7l-0.85 1.48zM281.13 79.78h1.7l-0.85 1.48zM299.65 81.89h1.7l-0.85 1.48zM286.75 88.07h1.7l-0.85 1.48zM335.09 96.14h1.7l-0.85 1.48zM284.45 82.48h1.7l-0.85 1.48zM297.12 79.25h1.7l-0.85 1.48zM303.04 77.1h1.7l-0.85 1.48zM294.87 85.59h1.7l-0.85 1.48zM293.8 77.28h1.7l-0.85 1.48zM279.65 94.26h1.7l-0.85 1.48zM276.9 80.15h1.7l-0.85 1.48zM285.74 74.81h1.7l-0.85 1.48zM285.67 87.9h1.7l-0.85 1.48zM277.89 76.37h1.7l-0.85 1.48zM296.77 83.71h1.7l-0.85 1.48zM291.34 77.09h1.7l-0.85 1.48zM280.37 75.95h1.7l-0.85 1.48zM296.69 85.03h1.7l-0.85 1.48zM286.16 75.41h1.7l-0.85 1.48zM286.8 81.17h1.7l-0.85 1.48zM302.37 80.32h1.7l-0.85 1.48zM276.43 76.59h1.7l-0.85 1.48zM354.94 91.83h1.7l-0.85 1.48zM339.36 86.4h1.7l-0.85 1.48zM277.65 76h1.7l-0.85 1.48zM291.09 79.5h1.7l-0.85 1.48zM286.3 83.56h1.7l-0.85 1.48zM273.55 89.37h1.7l-0.85 1.48zM283.54 87.39h1.7l-0.85 1.48zM283.92 86.79h1.7l-0.85 1.48zM330.27 75.77h1.7l-0.85 1.48zM284.99 83.26h1.7l-0.85 1.48zM325.49 95.74h1.7l-0.85 1.48zM281.59 79.64h1.7l-0.85 1.48zM290.58 95.12h1.7l-0.85 1.48zM273.86 79.04h1.7l-0.85 1.48zM285.86 85.08h1.7l-0.85 1.48zM310.61 88.39h1.7l-0.85 1.48zM302.85 88.14h1.7l-0.85 1.48zM275.29 77.48h1.7l-0.85 1.48zM298.63 84.94h1.7l-0.85 1.48zM276.42 76.09h1.7l-0.85 1.48zM300.16 76.72h1.7l-0.85 1.48zM305.72 101.55h1.7l-0.85 1.48zM290.35 83.76h1.7l-0.85 1.48zM294.03 88.91h1.7l-0.85 1.48zM331.71 85.5h1.7l-0.85 1.48zM285.89 76.02h1.7l-0.85 1.48zM286.3 77.52h1.7l-0.85 1.48zM305.28 89.51h1.7l-0.85 1.48zM283.6 79.89h1.7l-0.85 1.48zM301.23 77.26h1.7l-0.85 1.48zM299.01 82.18h1.7l-0.85 1.48zM302.84 74.97h1.7l-0.85 1.48zM295.6 76.01h1.7l-0.85 1.48zM292.54 79.31h1.7l-0.85 1.48zM293.68 81.56h1.7l-0.85 1.48zM308.05 80.32h1.7l-0.85 1.48zM314.58 77.93h1.7l-0.85 1.48zM293.68 81.44h1.7l-0.85 1.48zM287.33 78.68h1.7l-0.85 1.48zM295.9 80.44h1.7l-0.85 1.48zM302.13 79.41h1.7l-0.85 1.48zM338.23 101.38h1.7l-0.85 1.48zM282.52 83.89h1.7l-0.85 1.48zM279.74 88.78h1.7l-0.85 1.48zM288.44 81.34h1.7l-0.85 1.48zM296.86 83.02h1.7l-0.85 1.48zM324 84.22h1.7l-0.85 1.48zM282.86 89.66h1.7l-0.85 1.48zM276.01 79.3h1.7l-0.85 1.48zM277.8 77.92h1.7l-0.85 1.48zM275.28 79.91h1.7l-0.85 1.48zM282.7 94.15h1.7l-0.85 1.48zM291.14 78.16h1.7l-0.85 1.48zM277.6 76.32h1.7l-0.85 1.48zM284.9 84.46h1.7l-0.85 1.48zM334.7 80.8h1.7l-0.85 1.48zM302.26 74.6h1.7l-0.85 1.48zM330.73 81.99h1.7l-0.85 1.48zM274.08 75h1.7l-0.85 1.48zM283.08 87.21h1.7l-0.85 1.48zM366.56 82.15h1.7l-0.85 1.48zM278.69 81.99h1.7l-0.85 1.48zM295.82 75.57h1.7l-0.85 1.48zM289.2 80.85h1.7l-0.85 1.48zM284.05 88.47h1.7l-0.85 1.48zM283.27 76.28h1.7l-0.85 1.48zM279.89 74.6h1.7l-0.85 1.48zM273.51 74.23h1.7l-0.85 1.48zM277.8 80.58h1.7l-0.85 1.48zM310.77 75.93h1.7l-0.85 1.48zM278.61 78.57h1.7l-0.85 1.48zM293.48 88.1h1.7l-0.85 1.48zM290.3 76.22h1.7l-0.85 1.48zM303.01 74.27h1.7l-0.85 1.48zM305.32 91.3h1.7l-0.85 1.48zM284.08 75.95h1.7l-0.85 1.48zM278.96 74.93h1.7l-0.85 1.48zM297.35 79.81h1.7l-0.85 1.48zM272.34 75.68h1.7l-0.85 1.48zM288.56 98.9h1.7l-0.85 1.48zM296.11 85.02h1.7l-0.85 1.48zM297.68 83.73h1.7l-0.85 1.48zM278.07 84.24h1.7l-0.85 1.48zM283.54 110.52h1.7l-0.85 1.48zM275.31 81.72h1.7l-0.85 1.48zM281.75 77.13h1.7l-0.85 1.48zM285.86 79.5h1.7l-0.85 1.48zM303.06 78.36h1.7l-0.85 1.48zM281.13 90.94h1.7l-0.85 1.48zM294.66 75.06h1.7l-0.85 1.48zM281.55 80.66h1.7l-0.85 1.48zM299.49 81.76h1.7l-0.85 1.48zM289.38 77.63h1.7l-0.85 1.48zM297.42 74.45h1.7l-0.85 1.48zM284.38 79.24h1.7l-0.85 1.48zM275.37 82.67h1.7l-0.85 1.48zM291.11 74.22h1.7l-0.85 1.48zM313.41 75.61h1.7l-0.85 1.48zM292.51 74.43h1.7l-0.85 1.48zM285.67 76.03h1.7l-0.85 1.48zM285.05 76.58h1.7l-0.85 1.48zM287.49 74.79h1.7l-0.85 1.48zM279.36 86.94h1.7l-0.85 1.48zM296.46 77.78h1.7l-0.85 1.48zM280.76 75.82h1.7l-0.85 1.48zM285.17 82.32h1.7l-0.85 1.48zM298.97 86.88h1.7l-0.85 1.48zM367.54 80.78h1.7l-0.85 1.48zM290.42 75.6h1.7l-0.85 1.48zM290.51 75.28h1.7l-0.85 1.48zM306.96 88.14h1.7l-0.85 1.48zM283.7 81.47h1.7l-0.85 1.48zM285.52 77.15h1.7l-0.85 1.48zM281.24 79.56h1.7l-0.85 1.48zM281.16 80.51h1.7l-0.85 1.48zM309.68 79.68h1.7l-0.85 1.48zM279.91 79.27h1.7l-0.85 1.48zM281.67 80.37h1.7l-0.85 1.48zM342.77 79.72h1.7l-0.85 1.48zM286.13 77.7h1.7l-0.85 1.48zM276.07 81.5h1.7l-0.85 1.48zM295.88 76.63h1.7l-0.85 1.48zM297.39 77.21h1.7l-0.85 1.48zM289.74 74.81h1.7l-0.85 1.48zM278.76 77.31h1.7l-0.85 1.48zM296.04 79.69h1.7l-0.85 1.48zM284.21 78.58h1.7l-0.85 1.48zM287.48 74.04h1.7l-0.85 1.48zM280.41 77.55h1.7l-0.85 1.48zM311.77 79.67h1.7l-0.85 1.48zM287.04 82.97h1.7l-0.85 1.48zM274.68 84.08h1.7l-0.85 1.48zM334.64 75.9h1.7l-0.85 1.48zM287.22 75.26h1.7l-0.85 1.48zM296.16 83.09h1.7l-0.85 1.48zM286.06 80.26h1.7l-0.85 1.48zM293.95 77.42h1.7l-0.85 1.48zM317.18 77.5h1.7l-0.85 1.48zM286.55 99.88h1.7l-0.85 1.48zM286.96 86.05h1.7l-0.85 1.48zM317.95 88.58h1.7l-0.85 1.48zM307.17 74.68h1.7l-0.85 1.48zM294.15 81.92h1.7l-0.85 1.48zM279.97 80.07h1.7l-0.85 1.48zM274.32 78.74h1.7l-0.85 1.48zM280.84 75.25h1.7l-0.85 1.48zM274 76.06h1.7l-0.85 1.48zM293.34 75.29h1.7l-0.85 1.48zM299.01 74.77h1.7l-0.85 1.48zM287.55 79.1h1.7l-0.85 1.48zM274.41 75.17h1.7l-0.85 1.48zM293.96 85.38h1.7l-0.85 1.48zM309.64 84.98h1.7l-0.85 1.48zM278.48 75.48h1.7l-0.85 1.48zM308.91 81.18h1.7l-0.85 1.48zM304.51 77.07h1.7l-0.85 1.48zM290.82 77.77h1.7l-0.85 1.48zM271.91 83.55h1.7l-0.85 1.48zM279.34 96.77h1.7l-0.85 1.48zM287.36 80h1.7l-0.85 1.48zM300.52 78.57h1.7l-0.85 1.48zM281.09 75.26h1.7l-0.85 1.48zM282.27 77.67h1.7l-0.85 1.48zM299.63 77.14h1.7l-0.85 1.48zM283.49 79.79h1.7l-0.85 1.48zM280.99 81h1.7l-0.85 1.48zM277.99 80.52h1.7l-0.85 1.48zM289.92 79.36h1.7l-0.85 1.48zM282.52 79.56h1.7l-0.85 1.48zM291.04 77.73h1.7l-0.85 1.48zM282.79 85.32h1.7l-0.85 1.48zM286.04 86.66h1.7l-0.85 1.48zM291.97 77.3h1.7l-0.85 1.48zM294.4 76.19h1.7l-0.85 1.48zM274.94 74.67h1.7l-0.85 1.48zM286.75 75.71h1.7l-0.85 1.48zM287.98 77h1.7l-0.85 1.48zM313.11 77.5h1.7l-0.85 1.48zM307.78 75.79h1.7l-0.85 1.48zM295.3 78.49h1.7l-0.85 1.48zM327.8 77.28h1.7l-0.85 1.48zM303.23 79.54h1.7l-0.85 1.48zM279.56 77.33h1.7l-0.85 1.48zM275.87 79.56h1.7l-0.85 1.48zM280.83 75.48h1.7l-0.85 1.48zM313.4 75.8h1.7l-0.85 1.48zM280.3 78.67h1.7l-0.85 1.48zM339.51 76.03h1.7l-0.85 1.48zM275.43 86.58h1.7l-0.85 1.48zM280.55 75.39h1.7l-0.85 1.48zM289.72 75.96h1.7l-0.85 1.48zM279.99 77.2h1.7l-0.85 1.48zM274.73 77.04h1.7l-0.85 1.48zM275.78 81.45h1.7l-0.85 1.48zM279.33 74.94h1.7l-0.85 1.48zM312.36 86.24h1.7l-0.85 1.48zM293.79 78.87h1.7l-0.85 1.48zM302.16 85.56h1.7l-0.85 1.48zM297.49 79.71h1.7l-0.85 1.48zM286.15 90.91h1.7l-0.85 1.48zM274.76 74.82h1.7l-0.85 1.48zM285.96 81.16h1.7l-0.85 1.48zM305.97 88.66h1.7l-0.85 1.48zM324.5 100.16h1.7l-0.85 1.48zM272.47 79.63h1.7l-0.85 1.48zM283.9 75.24h1.7l-0.85 1.48zM303.74 80.21h1.7l-0.85 1.48zM306.23 80.95h1.7l-0.85 1.48zM286.37 74.44h1.7l-0.85 1.48zM331.92 88.34h1.7l-0.85 1.48zM284.4 81.33h1.7l-0.85 1.48zM277.55 86.17h1.7l-0.85 1.48zM303.97 75.15h1.7l-0.85 1.48zM278.07 78.08h1.7l-0.85 1.48zM276.23 74.76h1.7l-0.85 1.48zM290.2 76.62h1.7l-0.85 1.48zM278.13 77.46h1.7l-0.85 1.48zM277.84 77.07h1.7l-0.85 1.48zM299.44 84.72h1.7l-0.85 1.48zM286.7 78.19h1.7l-0.85 1.48zM287.45 80.08h1.7l-0.85 1.48zM292.16 80.55h1.7l-0.85 1.48zM281.34 78.23h1.7l-0.85 1.48zM282.06 84.99h1.7l-0.85 1.48zM288.63 83.78h1.7l-0.85 1.48zM278.12 79.27h1.7l-0.85 1.48zM289.26 78.65h1.7l-0.85 1.48zM297.37 89.43h1.7l-0.85 1.48zM282.5 76.97h1.7l-0.85 1.48zM274.72 74.12h1.7l-0.85 1.48zM290.47 77.37h1.7l-0.85 1.48zM281.32 80.85h1.7l-0.85 1.48zM299.2 89.21h1.7l-0.85 1.48zM303.24 79.92h1.7l-0.85 1.48zM271.89 78.31h1.7l-0.85 1.48zM277.34 75.83h1.7l-0.85 1.48zM286.3 80.02h1.7l-0.85 1.48zM310.63 79.22h1.7l-0.85 1.48zM285.27 77.76h1.7l-0.85 1.48zM276.06 93.52h1.7l-0.85 1.48zM301.55 82.57h1.7l-0.85 1.48zM287.13 90.4h1.7l-0.85 1.48zM291.29 101.14h1.7l-0.85 1.48zM286.03 81.98h1.7l-0.85 1.48zM280.38 95h1.7l-0.85 1.48zM293.49 78.37h1.7l-0.85 1.48zM280.96 77.2h1.7l-0.85 1.48zM287.35 76.88h1.7l-0.85 1.48zM287.76 76.64h1.7l-0.85 1.48zM298.18 80.72h1.7l-0.85 1.48zM286.46 85.46h1.7l-0.85 1.48zM286.18 77.66h1.7l-0.85 1.48zM287.23 76.86h1.7l-0.85 1.48zM304.36 75.76h1.7l-0.85 1.48zM273.09 77.75h1.7l-0.85 1.48zM299.29 77.26h1.7l-0.85 1.48zM298.37 96.85h1.7l-0.85 1.48zM279.31 77.25h1.7l-0.85 1.48zM328.72 75.38h1.7l-0.85 1.48zM273.85 78.7h1.7l-0.85 1.48zM310.57 78.65h1.7l-0.85 1.48zM283.2 79.24h1.7l-0.85 1.48zM296.9 75.75h1.7l-0.85 1.48zM284.84 76.79h1.7l-0.85 1.48zM283.65 77.37h1.7l-0.85 1.48zM274.1 80.11h1.7l-0.85 1.48zM273.09 75.62h1.7l-0.85 1.48zM284.48 83.43h1.7l-0.85 1.48zM281.33 81.79h1.7l-0.85 1.48zM304.59 78.51h1.7l-0.85 1.48zM293.87 91.81h1.7l-0.85 1.48zM291.66 80.33h1.7l-0.85 1.48zM281.85 83.78h1.7l-0.85 1.48zM290.33 77.22h1.7l-0.85 1.48zM281.77 86.67h1.7l-0.85 1.48zM290.54 85.01h1.7l-0.85 1.48zM290.66 75.59h1.7l-0.85 1.48zM289.57 81.52h1.7l-0.85 1.48zM275.75 76.99h1.7l-0.85 1.48zM275.02 78.62h1.7l-0.85 1.48zM273.78 74.86h1.7l-0.85 1.48zM298.28 79.39h1.7l-0.85 1.48zM288.79 75.94h1.7l-0.85 1.48zM287 85.29h1.7l-0.85 1.48zM295.89 89.22h1.7l-0.85 1.48zM274.25 86.7h1.7l-0.85 1.48zM281.89 78.83h1.7l-0.85 1.48zM274.02 85.57h1.7l-0.85 1.48zM285.2 89.81h1.7l-0.85 1.48zM275.81 83.19h1.7l-0.85 1.48zM281.11 77.63h1.7l-0.85 1.48zM290.54 75.68h1.7l-0.85 1.48zM282.8 84.86h1.7l-0.85 1.48zM284.12 79.34h1.7l-0.85 1.48zM275.11 79.51h1.7l-0.85 1.48zM274.29 74.96h1.7l-0.85 1.48zM312.45 78.23h1.7l-0.85 1.48zM280.33 76.43h1.7l-0.85 1.48zM271.95 75.99h1.7l-0.85 1.48zM309.81 75.07h1.7l-0.85 1.48zM277 79.88h1.7l-0.85 1.48zM278.5 90.68h1.7l-0.85 1.48zM283.35 78.18h1.7l-0.85 1.48zM281.64 75.57h1.7l-0.85 1.48zM292.47 83.04h1.7l-0.85 1.48zM304.58 74.78h1.7l-0.85 1.48zM296.01 76.08h1.7l-0.85 1.48zM292.31 89.45h1.7l-0.85 1.48zM276.78 76.57h1.7l-0.85 1.48zM283.66 84.54h1.7l-0.85 1.48zM301.75 76.19h1.7l-0.85 1.48zM296.71 88.18h1.7l-0.85 1.48zM299.5 82.5h1.7l-0.85 1.48zM283.43 77.7h1.7l-0.85 1.48zM290.82 84.73h1.7l-0.85 1.48zM309.06 79.75h1.7l-0.85 1.48zM272.4 85.73h1.7l-0.85 1.48zM275.45 110.47h1.7l-0.85 1.48zM292.83 78.3h1.7l-0.85 1.48zM286.62 76.14h1.7l-0.85 1.48zM279.18 80.84h1.7l-0.85 1.48zM288.84 76.05h1.7l-0.85 1.48zM273.17 83.16h1.7l-0.85 1.48zM306.89 75.15h1.7l-0.85 1.48zM294.12 83.28h1.7l-0.85 1.48zM279.06 81.37h1.7l-0.85 1.48zM273.48 90.3h1.7l-0.85 1.48zM293.97 77.59h1.7l-0.85 1.48zM297.24 76.33h1.7l-0.85 1.48zM281.79 75.15h1.7l-0.85 1.48zM291.94 87.79h1.7l-0.85 1.48zM283.73 75.59h1.7l-0.85 1.48zM300.47 77.75h1.7l-0.85 1.48zM298.14 79.66h1.7l-0.85 1.48zM288.33 82.3h1.7l-0.85 1.48zM310.62 84.47h1.7l-0.85 1.48zM304.43 86.61h1.7l-0.85 1.48zM289.3 78.14h1.7l-0.85 1.48zM276.74 80.67h1.7l-0.85 1.48zM276.97 76.48h1.7l-0.85 1.48zM300.59 89.87h1.7l-0.85 1.48zM299.33 76.41h1.7l-0.85 1.48zM281.07 82.82h1.7l-0.85 1.48zM302.04 89.47h1.7l-0.85 1.48zM284.78 75.43h1.7l-0.85 1.48zM315.52 84.96h1.7l-0.85 1.48zM280.35 78.7h1.7l-0.85 1.48zM296.13 74.94h1.7l-0.85 1.48zM329.83 74.87h1.7l-0.85 1.48zM303.73 87.41h1.7l-0.85 1.48zM275.57 79.01h1.7l-0.85 1.48zM294.31 78.42h1.7l-0.85 1.48zM337.18 85.58h1.7l-0.85 1.48zM303.16 81.39h1.7l-0.85 1.48zM276.08 81.67h1.7l-0.85 1.48zM273.16 99.28h1.7l-0.85 1.48zM281.68 105.66h1.7l-0.85 1.48zM279.08 77.37h1.7l-0.85 1.48zM278.3 79.29h1.7l-0.85 1.48zM287.29 84.3h1.7l-0.85 1.48zM280.23 80.96h1.7l-0.85 1.48zM285.2 87.04h1.7l-0.85 1.48zM286.62 78.49h1.7l-0.85 1.48zM302.12 79.3h1.7l-0.85 1.48zM290.06 80.14h1.7l-0.85 1.48zM277.55 78.07h1.7l-0.85 1.48zM281.18 91.96h1.7l-0.85 1.48zM300.46 77.95h1.7l-0.85 1.48zM284.9 79.88h1.7l-0.85 1.48zM277.88 81.27h1.7l-0.85 1.48zM281.87 84.35h1.7l-0.85 1.48zM271.79 81.83h1.7l-0.85 1.48zM293.95 80.07h1.7l-0.85 1.48zM283.13 91.37h1.7l-0.85 1.48zM304.36 81.6h1.7l-0.85 1.48zM276.01 77.88h1.7l-0.85 1.48zM279.13 81.55h1.7l-0.85 1.48zM308.64 76.81h1.7l-0.85 1.48zM287.98 92.71h1.7l-0.85 1.48zM274.65 75.74h1.7l-0.85 1.48zM288.42 79.26h1.7l-0.85 1.48zM277.24 74.9h1.7l-0.85 1.48zM279.45 79.88h1.7l-0.85 1.48zM298.16 75.01h1.7l-0.85 1.48zM289.31 77.39h1.7l-0.85 1.48zM278.61 85.27h1.7l-0.85 1.48zM280.96 78.88h1.7l-0.85 1.48zM273.74 74.28h1.7l-0.85 1.48zM297.88 80.55h1.7l-0.85 1.48zM279.12 84.93h1.7l-0.85 1.48zM281.56 78.2h1.7l-0.85 1.48zM277.52 77.28h1.7l-0.85 1.48zM323.32 76.55h1.7l-0.85 1.48zM278.85 76.56h1.7l-0.85 1.48zM278.03 81.34h1.7l-0.85 1.48zM286.66 75.48h1.7l-0.85 1.48zM279.17 83.41h1.7l-0.85 1.48zM279.52 95.39h1.7l-0.85 1.48zM284.69 90.85h1.7l-0.85 1.48zM327.1 90.24h1.7l-0.85 1.48zM287.61 79.41h1.7l-0.85 1.48zM277.48 82.2h1.7l-0.85 1.48zM335.07 115.77h1.7l-0.85 1.48zM304.27 83.39h1.7l-0.85 1.48zM282.56 82.6h1.7l-0.85 1.48zM307.91 75.86h1.7l-0.85 1.48zM273.25 75.29h1.7l-0.85 1.48zM303.09 87.48h1.7l-0.85 1.48zM275.42 76.31h1.7l-0.85 1.48zM279.64 75.19h1.7l-0.85 1.48zM282.7 83.48h1.7l-0.85 1.48zM289.83 77.48h1.7l-0.85 1.48zM275.34 87.75h1.7l-0.85 1.48zM283.28 77.48h1.7l-0.85 1.48zM293.39 81.34h1.7l-0.85 1.48zM275.78 74.93h1.7l-0.85 1.48zM338.47 97.99h1.7l-0.85 1.48zM315.53 96.32h1.7l-0.85 1.48zM307.1 88.72h1.7l-0.85 1.48zM286.84 82.18h1.7l-0.85 1.48zM307.81 82.67h1.7l-0.85 1.48zM282.88 84.08h1.7l-0.85 1.48zM291.05 78.97h1.7l-0.85 1.48zM272.85 82.13h1.7l-0.85 1.48zM331.53 89.6h1.7l-0.85 1.48zM291.46 86.11h1.7l-0.85 1.48zM276.31 79.96h1.7l-0.85 1.48zM302.39 81.83h1.7l-0.85 1.48zM325.16 86.26h1.7l-0.85 1.48zM278.46 88.57h1.7l-0.85 1.48zM283.98 86.19h1.7l-0.85 1.48zM321.63 76.5h1.7l-0.85 1.48zM277.11 88.03h1.7l-0.85 1.48zM297.24 75.86h1.7l-0.85 1.48zM292.42 76.83h1.7l-0.85 1.48zM320.24 80.57h1.7l-0.85 1.48zM312.2 81.56h1.7l-0.85 1.48zM273.39 80.68h1.7l-0.85 1.48zM293.67 79.04h1.7l-0.85 1.48zM316.85 77.21h1.7l-0.85 1.48zM287.35 77.38h1.7l-0.85 1.48zM282.36 87.54h1.7l-0.85 1.48zM274.53 74.38h1.7l-0.85 1.48zM294.34 75.31h1.7l-0.85 1.48zM284.3 91.55h1.7l-0.85 1.48zM320.93 76.61h1.7l-0.85 1.48zM293.55 76.72h1.7l-0.85 1.48zM275.24 76.17h1.7l-0.85 1.48zM285.8 74.61h1.7l-0.85 1.48zM286.7 79.38h1.7l-0.85 1.48zM274.13 75.37h1.7l-0.85 1.48zM307.92 88.2h1.7l-0.85 1.48zM285.14 92.65h1.7l-0.85 1.48zM277.89 75.02h1.7l-0.85 1.48zM273.9 74.41h1.7l-0.85 1.48zM286.71 81.37h1.7l-0.85 1.48zM285.39 79.37h1.7l-0.85 1.48zM293.25 84.58h1.7l-0.85 1.48zM331.4 89.27h1.7l-0.85 1.48zM305.42 76.22h1.7l-0.85 1.48zM295.47 84.83h1.7l-0.85 1.48zM274.71 80.28h1.7l-0.85 1.48zM293.96 79.51h1.7l-0.85 1.48zM276.66 76.02h1.7l-0.85 1.48zM282.6 76.23h1.7l-0.85 1.48zM290.7 78.39h1.7l-0.85 1.48zM301.49 81.54h1.7l-0.85 1.48zM280.97 79.21h1.7l-0.85 1.48zM275.61 76.29h1.7l-0.85 1.48zM279.89 83.9h1.7l-0.85 1.48zM297.7 82.59h1.7l-0.85 1.48zM279.52 77.2h1.7l-0.85 1.48zM294.75 81.13h1.7l-0.85 1.48zM294.32 77.99h1.7l-0.85 1.48zM301.3 79.78h1.7l-0.85 1.48zM275.93 85.4h1.7l-0.85 1.48zM275.88 76.39h1.7l-0.85 1.48zM272.59 86.74h1.7l-0.85 1.48zM284.99 85.25h1.7l-0.85 1.48zM297.04 74.46h1.7l-0.85 1.48zM289.19 76.17h1.7l-0.85 1.48zM285.42 74.75h1.7l-0.85 1.48zM292.35 83.47h1.7l-0.85 1.48zM291.45 82.98h1.7l-0.85 1.48zM285.14 82.61h1.7l-0.85 1.48zM276.96 74.47h1.7l-0.85 1.48zM299.95 77.71h1.7l-0.85 1.48zM295.31 76.19h1.7l-0.85 1.48zM288.89 87.74h1.7l-0.85 1.48zM281.08 96.93h1.7l-0.85 1.48zM283.19 81.14h1.7l-0.85 1.48zM293.56 76.16h1.7l-0.85 1.48zM274.04 75.16h1.7l-0.85 1.48zM281.46 84.64h1.7l-0.85 1.48zM290.24 76.9h1.7l-0.85 1.48zM315.09 78.39h1.7l-0.85 1.48zM282.08 94.76h1.7l-0.85 1.48zM275.54 77.27h1.7l-0.85 1.48zM299.73 78.55h1.7l-0.85 1.48zM290.87 85.94h1.7l-0.85 1.48zM295.98 74.23h1.7l-0.85 1.48zM318.63 89.17h1.7l-0.85 1.48zM280.71 86.55h1.7l-0.85 1.48zM316.75 86.75h1.7l-0.85 1.48zM284.85 83.18h1.7l-0.85 1.48zM311.24 86.55h1.7l-0.85 1.48zM286.61 82.84h1.7l-0.85 1.48zM300.28 78.27h1.7l-0.85 1.48zM293.9 97.92h1.7l-0.85 1.48zM304.08 101h1.7l-0.85 1.48zM306.49 75.37h1.7l-0.85 1.48zM302.03 107.68h1.7l-0.85 1.48zM320.11 75.9h1.7l-0.85 1.48zM276.56 74.12h1.7l-0.85 1.48zM280.12 80.18h1.7l-0.85 1.48zM281.23 80.72h1.7l-0.85 1.48zM313.38 86.64h1.7l-0.85 1.48zM296.61 76.99h1.7l-0.85 1.48zM275.03 82.16h1.7l-0.85 1.48zM282.87 83.87h1.7l-0.85 1.48zM279.83 83.53h1.7l-0.85 1.48zM288.37 78.16h1.7l-0.85 1.48zM273.33 75.87h1.7l-0.85 1.48zM278.61 75.8h1.7l-0.85 1.48zM296.54 80.39h1.7l-0.85 1.48zM305.03 77.85h1.7l-0.85 1.48zM276.41 75.68h1.7l-0.85 1.48zM290.58 75.07h1.7l-0.85 1.48zM274.32 92.02h1.7l-0.85 1.48zM283.31 80.72h1.7l-0.85 1.48zM275.54 97.05h1.7l-0.85 1.48zM309.8 91.49h1.7l-0.85 1.48zM283.9 75.66h1.7l-0.85 1.48zM277.67 77.36h1.7l-0.85 1.48zM282.58 74.38h1.7l-0.85 1.48zM277 85.88h1.7l-0.85 1.48zM294.18 106.01h1.7l-0.85 1.48zM275.74 79.99h1.7l-0.85 1.48zM277.8 77.71h1.7l-0.85 1.48zM280.94 89.43h1.7l-0.85 1.48zM329.18 80.84h1.7l-0.85 1.48zM286.9 78.41h1.7l-0.85 1.48zM283.19 74.22h1.7l-0.85 1.48zM286.56 89.12h1.7l-0.85 1.48zM293.79 90.07h1.7l-0.85 1.48zM279.77 80.24h1.7l-0.85 1.48zM283.67 78.17h1.7l-0.85 1.48zM283.61 94.38h1.7l-0.85 1.48zM318.5 80.95h1.7l-0.85 1.48zM300.93 81.89h1.7l-0.85 1.48zM285.66 94.2h1.7l-0.85 1.48zM286.25 78.85h1.7l-0.85 1.48zM284.22 79.41h1.7l-0.85 1.48zM285.07 86.46h1.7l-0.85 1.48zM303.77 75.03h1.7l-0.85 1.48zM273.49 81.16h1.7l-0.85 1.48zM276.76 78.31h1.7l-0.85 1.48zM277.8 91.69h1.7l-0.85 1.48zM286.32 79.59h1.7l-0.85 1.48zM290.64 74.1h1.7l-0.85 1.48zM283.04 87.2h1.7l-0.85 1.48zM293.78 93.4h1.7l-0.85 1.48zM311.41 77.76h1.7l-0.85 1.48zM292.82 98.39h1.7l-0.85 1.48zM287.55 81.2h1.7l-0.85 1.48zM294.46 75.41h1.7l-0.85 1.48zM282.81 79.77h1.7l-0.85 1.48zM279.94 78.24h1.7l-0.85 1.48zM302.4 79.57h1.7l-0.85 1.48zM279.22 82.12h1.7l-0.85 1.48zM287.46 94.14h1.7l-0.85 1.48zM293.2 76.97h1.7l-0.85 1.48zM277.15 82.02h1.7l-0.85 1.48zM352.13 75.45h1.7l-0.85 1.48zM285.91 75.79h1.7l-0.85 1.48zM304.45 80.29h1.7l-0.85 1.48zM288.1 77.5h1.7l-0.85 1.48zM293.03 80.3h1.7l-0.85 1.48zM295.64 77.44h1.7l-0.85 1.48zM276.47 76.24h1.7l-0.85 1.48zM297.33 77.06h1.7l-0.85 1.48zM279.97 83.2h1.7l-0.85 1.48zM272.01 75.37h1.7l-0.85 1.48zM281.11 74.29h1.7l-0.85 1.48zM303.67 76.18h1.7l-0.85 1.48zM290.96 84.02h1.7l-0.85 1.48zM284.97 75.18h1.7l-0.85 1.48zM284.22 76.67h1.7l-0.85 1.48zM280.32 76.42h1.7l-0.85 1.48zM304.12 91.46h1.7l-0.85 1.48zM299.63 77.28h1.7l-0.85 1.48zM316.35 76.7h1.7l-0.85 1.48zM289.48 79.44h1.7l-0.85 1.48zM313.53 82.02h1.7l-0.85 1.48zM281.58 83.03h1.7l-0.85 1.48zM294.52 88.14h1.7l-0.85 1.48zM294.48 79.56h1.7l-0.85 1.48zM279.74 85.84h1.7l-0.85 1.48zM282.04 76.16h1.7l-0.85 1.48zM298.67 76.69h1.7l-0.85 1.48zM301.2 75.25h1.7l-0.85 1.48zM285.68 83.99h1.7l-0.85 1.48zM296.42 86.55h1.7l-0.85 1.48zM281.57 84.57h1.7l-0.85 1.48zM305.45 77.85h1.7l-0.85 1.48zM311.32 81.46h1.7l-0.85 1.48zM293.73 75.77h1.7l-0.85 1.48zM277.38 78.07h1.7l-0.85 1.48zM278.39 83.46h1.7l-0.85 1.48zM282.6 83.79h1.7l-0.85 1.48zM290.23 78.55h1.7l-0.85 1.48zM293.46 74.27h1.7l-0.85 1.48zM302.14 77.21h1.7l-0.85 1.48zM300.95 74.59h1.7l-0.85 1.48zM290.35 87.17h1.7l-0.85 1.48zM295.89 74.16h1.7l-0.85 1.48zM284.88 89.13h1.7l-0.85 1.48zM314.47 79.85h1.7l-0.85 1.48zM282.95 86.79h1.7l-0.85 1.48zM300.68 74.98h1.7l-0.85 1.48zM287.11 98.26h1.7l-0.85 1.48zM286.32 79h1.7l-0.85 1.48zM290.41 92.46h1.7l-0.85 1.48zM298.21 75.46h1.7l-0.85 1.48zM287.08 84.81h1.7l-0.85 1.48zM355.54 76.47h1.7l-0.85 1.48zM311.39 80.51h1.7l-0.85 1.48zM274.4 105.37h1.7l-0.85 1.48zM280.4 74.3h1.7l-0.85 1.48zM298.66 77.44h1.7l-0.85 1.48zM287.33 86.49h1.7l-0.85 1.48zM307.88 101.65h1.7l-0.85 1.48zM274.94 76.36h1.7l-0.85 1.48zM291.43 89.51h1.7l-0.85 1.48zM276.5 88.24h1.7l-0.85 1.48zM299.04 106.44h1.7l-0.85 1.48zM275.37 82.69h1.7l-0.85 1.48zM288.65 94.95h1.7l-0.85 1.48zM280.21 78.69h1.7l-0.85 1.48zM275.03 74.94h1.7l-0.85 1.48zM283.49 91.36h1.7l-0.85 1.48zM307.01 78.3h1.7l-0.85 1.48zM285.95 80.79h1.7l-0.85 1.48zM279.72 76.78h1.7l-0.85 1.48zM284.98 75.18h1.7l-0.85 1.48zM275.55 78.42h1.7l-0.85 1.48zM277.87 80.57h1.7l-0.85 1.48zM281.69 75.28h1.7l-0.85 1.48zM279.89 78.14h1.7l-0.85 1.48zM288.21 78.11h1.7l-0.85 1.48zM294.52 81.96h1.7l-0.85 1.48zM273.51 77.1h1.7l-0.85 1.48zM287.78 79.82h1.7l-0.85 1.48zM289.58 83.06h1.7l-0.85 1.48zM281.98 75.01h1.7l-0.85 1.48zM291.04 79.37h1.7l-0.85 1.48zM334.53 75.85h1.7l-0.85 1.48zM295.57 75.86h1.7l-0.85 1.48zM360.86 76.04h1.7l-0.85 1.48zM279.55 80.67h1.7l-0.85 1.48zM288.97 81.83h1.7l-0.85 1.48zM276.52 81.16h1.7l-0.85 1.48zM354.12 76.94h1.7l-0.85 1.48zM280.45 78.59h1.7l-0.85 1.48zM315.2 89.5h1.7l-0.85 1.48zM274.33 76.74h1.7l-0.85 1.48zM287.41 75.03h1.7l-0.85 1.48zM275.34 105.94h1.7l-0.85 1.48zM282.16 90.52h1.7l-0.85 1.48zM317.47 79.38h1.7l-0.85 1.48zM296.23 77.15h1.7l-0.85 1.48zM280.69 95.39h1.7l-0.85 1.48zM315.63 75.95h1.7l-0.85 1.48zM305.83 76.48h1.7l-0.85 1.48zM278.73 76.19h1.7l-0.85 1.48zM292.08 88.47h1.7l-0.85 1.48zM278.31 91.14h1.7l-0.85 1.48zM301.29 77.2h1.7l-0.85 1.48zM291.25 74.3h1.7l-0.85 1.48zM289.06 77.31h1.7l-0.85 1.48zM274.81 83.88h1.7l-0.85 1.48zM282.02 76.66h1.7l-0.85 1.48zM285.95 75.26h1.7l-0.85 1.48zM277.31 80.1h1.7l-0.85 1.48zM318.01 88.98h1.7l-0.85 1.48zM286.64 81.91h1.7l-0.85 1.48zM285.06 79.65h1.7l-0.85 1.48zM276.41 78.4h1.7l-0.85 1.48zM310.48 89.76h1.7l-0.85 1.48zM285.21 84.79h1.7l-0.85 1.48zM283.4 82.59h1.7l-0.85 1.48zM274.69 86.8h1.7l-0.85 1.48zM289.57 74.07h1.7l-0.85 1.48zM278.81 93.31h1.7l-0.85 1.48zM294.06 79.7h1.7l-0.85 1.48zM314.6 82.56h1.7l-0.85 1.48zM285.44 77.93h1.7l-0.85 1.48zM293.85 75.38h1.7l-0.85 1.48zM295.34 92.03h1.7l-0.85 1.48zM354.54 75.68h1.7l-0.85 1.48zM302.2 78.54h1.7l-0.85 1.48zM289.16 88.28h1.7l-0.85 1.48zM285.09 90.3h1.7l-0.85 1.48zM276.45 81.91h1.7l-0.85 1.48zM273.45 74.94h1.7l-0.85 1.48zM286.15 80.27h1.7l-0.85 1.48zM285.13 87.22h1.7l-0.85 1.48zM293.97 76.11h1.7l-0.85 1.48zM287.82 77.31h1.7l-0.85 1.48zM305.67 84.01h1.7l-0.85 1.48zM275.31 82.67h1.7l-0.85 1.48zM307.34 78.26h1.7l-0.85 1.48zM297.17 75.76h1.7l-0.85 1.48zM309.89 76.79h1.7l-0.85 1.48zM285.93 89.29h1.7l-0.85 1.48zM278.37 80.78h1.7l-0.85 1.48zM302.37 80.4h1.7l-0.85 1.48zM276.55 82.09h1.7l-0.85 1.48zM326.13 93.93h1.7l-0.85 1.48zM284.48 87.63h1.7l-0.85 1.48zM285.25 78.51h1.7l-0.85 1.48zM289.99 83.19h1.7l-0.85 1.48zM273.76 75.67h1.7l-0.85 1.48zM283.59 75.27h1.7l-0.85 1.48zM284.72 79.54h1.7l-0.85 1.48zM291.02 85.7h1.7l-0.85 1.48zM284.77 75.35h1.7l-0.85 1.48zM275.14 76.5h1.7l-0.85 1.48zM275.98 79.62h1.7l-0.85 1.48zM278.2 77.31h1.7l-0.85 1.48zM285.14 89.42h1.7l-0.85 1.48zM291.47 82.88h1.7l-0.85 1.48zM288.11 79h1.7l-0.85 1.48zM296.9 92.23h1.7l-0.85 1.48zM301.96 80.27h1.7l-0.85 1.48zM297.47 96.45h1.7l-0.85 1.48zM316.25 75.09h1.7l-0.85 1.48zM340.3 79.75h1.7l-0.85 1.48zM286.2 74.58h1.7l-0.85 1.48zM302.09 74.35h1.7l-0.85 1.48zM292.31 86.82h1.7l-0.85 1.48zM309.13 76.71h1.7l-0.85 1.48zM282.67 78.59h1.7l-0.85 1.48zM284.21 75.77h1.7l-0.85 1.48zM293.3 79.43h1.7l-0.85 1.48zM342.08 86.42h1.7l-0.85 1.48zM291.06 77.1h1.7l-0.85 1.48zM275.21 80.28h1.7l-0.85 1.48zM288.84 77.54h1.7l-0.85 1.48zM288.26 88.44h1.7l-0.85 1.48zM287 81.53h1.7l-0.85 1.48zM278.88 109.97h1.7l-0.85 1.48zM300.6 78.67h1.7l-0.85 1.48zM312.75 85.38h1.7l-0.85 1.48zM291.14 88.09h1.7l-0.85 1.48zM321.91 86.83h1.7l-0.85 1.48zM329.66 83.83h1.7l-0.85 1.48zM291.22 106.91h1.7l-0.85 1.48zM294.03 92.42h1.7l-0.85 1.48zM294.75 78.03h1.7l-0.85 1.48zM286.71 79.27h1.7l-0.85 1.48zM338.47 76.84h1.7l-0.85 1.48zM292.13 82.95h1.7l-0.85 1.48zM281.68 85.75h1.7l-0.85 1.48zM296.33 77.97h1.7l-0.85 1.48zM280.57 87.5h1.7l-0.85 1.48zM324.82 75.96h1.7l-0.85 1.48zM283.24 75.76h1.7l-0.85 1.48zM273.06 100.68h1.7l-0.85 1.48zM290.71 80.76h1.7l-0.85 1.48zM295.9 78.86h1.7l-0.85 1.48zM310.78 78.47h1.7l-0.85 1.48zM290.62 80.36h1.7l-0.85 1.48zM284.91 84.94h1.7l-0.85 1.48zM302.99 75.57h1.7l-0.85 1.48zM344.77 98.77h1.7l-0.85 1.48zM277.6 101.72h1.7l-0.85 1.48zM284.36 82.02h1.7l-0.85 1.48zM305.05 81.62h1.7l-0.85 1.48zM316.2 83.73h1.7l-0.85 1.48zM281.35 75.7h1.7l-0.85 1.48zM280.52 90.69h1.7l-0.85 1.48zM322.84 92h1.7l-0.85 1.48zM319.87 122.78h1.7l-0.85 1.48zM310.3 97.09h1.7l-0.85 1.48zM277.01 80.46h1.7l-0.85 1.48zM334.56 77.25h1.7l-0.85 1.48zM292.09 74.23h1.7l-0.85 1.48zM328.78 98.97h1.7l-0.85 1.48zM326.19 80.78h1.7l-0.85 1.48zM293.68 84.02h1.7l-0.85 1.48zM292.66 77.32h1.7l-0.85 1.48zM289.48 88.73h1.7l-0.85 1.48zM366.86 78.72h1.7l-0.85 1.48zM280.72 98.81h1.7l-0.85 1.48zM307.07 76.01h1.7l-0.85 1.48zM306.45 77.56h1.7l-0.85 1.48zM281.33 80.32h1.7l-0.85 1.48zM342.99 89.68h1.7l-0.85 1.48zM294.26 78.71h1.7l-0.85 1.48zM274.39 74.84h1.7l-0.85 1.48zM279.07 78.83h1.7l-0.85 1.48zM322.57 77.83h1.7l-0.85 1.48zM282.76 81.24h1.7l-0.85 1.48zM327.26 83.03h1.7l-0.85 1.48zM284.98 76h1.7l-0.85 1.48zM275.94 75.37h1.7l-0.85 1.48zM319.9 90.43h1.7l-0.85 1.48zM324.31 81.13h1.7l-0.85 1.48zM327.17 91.41h1.7l-0.85 1.48zM287.1 93.62h1.7l-0.85 1.48zM342.6 81.69h1.7l-0.85 1.48zM325.64 86.81h1.7l-0.85 1.48zM319.9 83.57h1.7l-0.85 1.48zM302.37 85.83h1.7l-0.85 1.48zM308.5 79.09h1.7l-0.85 1.48zM299.19 75.66h1.7l-0.85 1.48zM308.89 80.21h1.7l-0.85 1.48zM340.44 104.06h1.7l-0.85 1.48zM282.38 83.52h1.7l-0.85 1.48zM282.94 77.47h1.7l-0.85 1.48zM310.16 89.68h1.7l-0.85 1.48zM320.44 78.44h1.7l-0.85 1.48zM293.9 91.64h1.7l-0.85 1.48zM307.89 75.97h1.7l-0.85 1.48zM280.96 88.75h1.7l-0.85 1.48zM333.88 78.43h1.7l-0.85 1.48zM286.49 76.87h1.7l-0.85 1.48zM303.37 75.85h1.7l-0.85 1.48zM286.47 78.41h1.7l-0.85 1.48zM308.36 76.14h1.7l-0.85 1.48zM302.89 79.98h1.7l-0.85 1.48zM282.61 79.68h1.7l-0.85 1.48zM291.26 105.56h1.7l-0.85 1.48zM285.35 95.47h1.7l-0.85 1.48zM289.69 77.52h1.7l-0.85 1.48zM294.56 77.65h1.7l-0.85 1.48zM307 77.25h1.7l-0.85 1.48zM292.75 74.9h1.7l-0.85 1.48zM278.51 86.32h1.7l-0.85 1.48zM301.73 82.69h1.7l-0.85 1.48zM285.92 77.54h1.7l-0.85 1.48zM330.79 76.36h1.7l-0.85 1.48zM273.56 80.13h1.7l-0.85 1.48zM310.9 82.17h1.7l-0.85 1.48zM276.38 99.97h1.7l-0.85 1.48zM285.66 77.37h1.7l-0.85 1.48zM290.65 83.94h1.7l-0.85 1.48zM313.65 78.98h1.7l-0.85 1.48zM293.13 84.42h1.7l-0.85 1.48zM352.78 81.04h1.7l-0.85 1.48zM308.23 77.73h1.7l-0.85 1.48zM309.33 100.37h1.7l-0.85 1.48zM315.17 81.34h1.7l-0.85 1.48zM300.79 81.21h1.7l-0.85 1.48zM284.36 91.33h1.7l-0.85 1.48zM336.17 82.57h1.7l-0.85 1.48zM288.95 91.62h1.7l-0.85 1.48zM281.07 89.03h1.7l-0.85 1.48zM292.09 85.34h1.7l-0.85 1.48zM284.93 78.6h1.7l-0.85 1.48zM309.83 78.61h1.7l-0.85 1.48zM303.84 84.17h1.7l-0.85 1.48zM316.19 79.16h1.7l-0.85 1.48zM287.23 92.07h1.7l-0.85 1.48zM319.56 77.95h1.7l-0.85 1.48zM275.43 84.34h1.7l-0.85 1.48zM296.22 76.99h1.7l-0.85 1.48zM287.97 101.12h1.7l-0.85 1.48zM328.89 111.31h1.7l-0.85 1.48zM283.08 82.75h1.7l-0.85 1.48zM278.85 91.77h1.7l-0.85 1.48zM289.54 79.37h1.7l-0.85 1.48zM310.3 91.91h1.7l-0.85 1.48zM322.9 75.03h1.7l-0.85 1.48zM314.57 103.32h1.7l-0.85 1.48zM312.55 83.94h1.7l-0.85 1.48zM281.78 86.06h1.7l-0.85 1.48zM286.18 78.02h1.7l-0.85 1.48zM279.8 75.28h1.7l-0.85 1.48zM311.78 80.62h1.7l-0.85 1.48zM277.96 82.87h1.7l-0.85 1.48zM289.33 84.27h1.7l-0.85 1.48zM273.87 79.96h1.7l-0.85 1.48zM306.8 81.45h1.7l-0.85 1.48zM314.31 75.88h1.7l-0.85 1.48zM294.81 84.38h1.7l-0.85 1.48zM322.32 118.75h1.7l-0.85 1.48zM281.52 97.01h1.7l-0.85 1.48zM337.1 84.64h1.7l-0.85 1.48zM296.71 84.15h1.7l-0.85 1.48zM288.42 79.15h1.7l-0.85 1.48zM296.46 74.85h1.7l-0.85 1.48zM347.55 82.93h1.7l-0.85 1.48zM280.31 84.42h1.7l-0.85 1.48zM286.42 104.44h1.7l-0.85 1.48zM295.69 94.4h1.7l-0.85 1.48zM338.85 79.68h1.7l-0.85 1.48zM342.09 77.87h1.7l-0.85 1.48zM291.19 84.63h1.7l-0.85 1.48zM318.45 80.06h1.7l-0.85 1.48zM305.7 88.84h1.7l-0.85 1.48zM360.34 112.07h1.7l-0.85 1.48zM365.67 97.03h1.7l-0.85 1.48zM370.99 97.03h1.7l-0.85 1.48zM324.82 124.46h1.7l-0.85 1.48zM289.3 112.07h1.7l-0.85 1.48zM315.94 110.3h1.7l-0.85 1.48zM347.91 98.8h1.7l-0.85 1.48zM283.97 113.84h1.7l-0.85 1.48zM307.06 106.76h1.7l-0.85 1.48zM337.25 106.76h1.7l-0.85 1.48zM335.47 101.45h1.7l-0.85 1.48zM356.79 100.57h1.7l-0.85 1.48z" fill="#2e8b57" fill-opacity="0.9"/>
<path d="M248.3 69.2L252 62.5L258 57.5L265 54L272.4 52.5L272.4 63.7L293 63.7L293 64.6L265 67.8L259 69.2L265 69.8L303 74.1L303 74.4L272.4 74.4L272.4 88.5L265 84.5L258 79.5L252 75.5Z" fill="#000"/>
<path d="M267.04 87.6h0M266.18 90.54h0M258.14 77.83h0M263.53 51.32h0M252.44 73.67h0M263.33 82.97h0M262.78 57.58h0M268.18 86.93h0M258.41 62.21h0M269.23 50.03h0M255.59 64.23h0M259.07 81.78h0M251.51 73.58h0M255.9 75.77h0M260.91 58.07h0M261.08 79.97h0M267.57 55.15h0M262.57 53.25h0M265.64 85.74h0M271.03 52.75h0M266.3 52.32h0M264.14 57.96h0M259.65 59.26h0M270.31 51.51h0M252.59 74h0M269.25 91.55h0M259.39 79.74h0M252.67 64.33h0M252.81 73.41h0M267.69 54.35h0M259.35 81.17h0M255.61 77.51h0M263.58 83.23h0M259.03 81.45h0M250.96 73.68h0M264.1 57.67h0M262 84.59h0M260.56 59.71h0M256.46 76.15h0M259.18 60.17h0M254.48 64.64h0M270.86 51.99h0M269.37 54.33h0M250.48 64.93h0M252.52 62.42h0M263.38 56.78h0M257.87 78.97h0M262.04 57.41h0M256.02 75.7h0M264.26 83.69h0M262.05 58.74h0M261.04 56.97h0M268.87 53.59h0M270.23 52.44h0M257.75 77.43h0M258.19 83.21h0M260.45 60.17h0M257.56 80.52h0M254.62 63.26h0M257.36 76.72h0M264.19 57.21h0M263.36 83.93h0M258.49 61.91h0M258.35 77.61h0M254.02 64.11h0M261.17 59.36h0M253.15 63.14h0M249.81 72.16h0M270.74 89.66h0M270.94 91.99h0M268.59 52.5h0M256.52 76.74h0M264.81 83.72h0M263.28 55.58h0M257.74 76.9h0M254.88 76.3h0M268.37 88.83h0M254.75 64.34h0M266.28 88.61h0M250.31 64.95h0M253.51 64.41h0M256.54 60.63h0M251.17 64.04h0M271.06 50.66h0M253.95 61.13h0M256.16 60.38h0M252.48 73.97h0M267.65 53.15h0M258.26 62.17h0M259.03 60.85h0M262.59 59.08h0M256.37 62.45h0M268.12 87.22h0M266.7 54.96h0M255.4 60.27h0M251.4 72.73h0M253.17 64.51h0M266.37 54.65h0M252.18 64.25h0M256.62 76.12h0M256.27 62.78h0M255.56 63.82h0M252.87 64.85h0M270.38 88.58h0M270.06 49.98h0M267.22 87.19h0M251.8 65.54h0M266.75 84.71h0M248.62 69.36h0M270.63 89.76h0M255.07 63.53h0M267.9 53.79h0M250.8 64.55h0M269.27 54.03h0M265.45 83.35h0M264.74 53.92h0M263.05 58.08h0M255.08 77.36h0M265.21 57.1h0M255.3 62.55h0M269.66 49.95h0M264.16 56.45h0M260.58 81.69h0M261.09 83.73h0M267.35 55.08h0M258.75 59.36h0M270.58 90.3h0M268.02 54.36h0M255.47 63.89h0M262.18 55.55h0M266.64 85.58h0M257.64 61.48h0M255.04 75.43h0M251.98 66.48h0M265.14 53.88h0M270.75 92.75h0M268.53 87.17h0M269.18 52.98h0M264.21 86.85h0M258.39 59.56h0M255.14 61.36h0M255.25 76.06h0M250.65 65.93h0M253.88 75.48h0M250.46 63.32h0M251.26 59.9h0M249.26 65.7h0M268.27 52.38h0M251.32 66.64h0M260.02 79.79h0M270.49 51.33h0M266.83 85.63h0M263.26 82.34h0M255.61 62.79h0M267.7 52.79h0M248.71 67.87h0M253.65 74.98h0M252.8 65.77h0M263.19 82.96h0M261.04 80.95h0M263.76 86.7h0M260.83 60.11h0M250.38 73.96h0M265.47 51.42h0M266.19 85.15h0M272.01 50.05h0M251.48 71.75h0M250.07 73.49h0M249.5 64.61h0M268.56 53.05h0M262.86 81.33h0M265.68 56.6h0M252.2 64.08h0M250.39 66.87h0M253.59 73.47h0M268.26 54.86h0M262.13 83.27h0M270.47 88.47h0M266.4 84.51h0M256.58 63.21h0M253.98 74.43h0M264.97 56h0M251.47 66.05h0M271.83 90.29h0M254.94 77.08h0M260.52 60.16h0M269.11 88.08h0M262.92 56.86h0M258.58 81.82h0M270.82 51.56h0M265.01 56.4h0M262.17 82.17h0M254.24 59.82h0M257.14 62.26h0M249.72 65.63h0M248.97 70.89h0M264.17 84.34h0M250.46 67.92h0M259.92 59.11h0M263.17 84.02h0M262.42 84.94h0M260.34 56.57h0M254.68 64.43h0M250.67 73.91h0M254.7 78.53h0M266.9 84.99h0M249.58 65.73h0M251.52 66.32h0M267.39 55.34h0M262.64 81.4h0M252.42 75.18h0M265.58 56.55h0M251.51 66.44h0M265.57 84.7h0M271.6 47.05h0M262.86 82.48h0M269.8 89.06h0M255.61 77.01h0M260.95 80.01h0M251.4 65.73h0M270.71 51.1h0M267.14 52.39h0M258.36 59.5h0M268.93 53.41h0M251.75 66.68h0M251.07 63.7h0M249.15 70.47h0M255.42 63.36h0M251.01 72.45h0M259.5 78.77h0M271.29 91.09h0M261.87 80.34h0M268.5 53.18h0M265.54 86.92h0M264.91 54.94h0M248.79 72.41h0M260.17 58.91h0M265.76 83.6h0M264.13 57.55h0M266.37 55.04h0M258.91 81.53h0M250.76 72.32h0M258 77.07h0M270.86 53.07h0M268.82 87.94h0M251.08 74.48h0M267.1 85.65h0M271.05 90.54h0M266.92 52.33h0M260.36 80.83h0M268.89 54.58h0M268.32 54.22h0M269.51 52.1h0M269.7 50.38h0M253.04 62.8h0M255.22 62.9h0M255.32 62.65h0M272.06 89.47h0M257.45 60.48h0M261.07 58.07h0M265.84 54.88h0M253.88 64.64h0M251.14 63.21h0M264.06 57.6h0M267.79 85.42h0M259.96 81.39h0M271.14 88.51h0M258.54 60.19h0M268.17 54.14h0M271.85 89.92h0M254.22 76.22h0M265.52 84.99h0M255.97 76.32h0M258.37 60.74h0M249.66 64.03h0M252.3 72.35h0M250.25 73.27h0M271.34 88.86h0M269.59 54.08h0M261.17 82.32h0M264.88 57.08h0M252.46 62.8h0M269.16 89.71h0M258.25 59.37h0M252.74 73.22h0M256.19 61.36h0M257.09 83.3h0M253.25 64.07h0M259.72 85.63h0M270.26 53.17h0M254.7 76.78h0M256.94 63.16h0M267.66 88.04h0M253.31 64.62h0M250.25 72h0M268.42 52.98h0M255.03 77.58h0M263.69 82.61h0M270.49 92.31h0M268.61 87.39h0M269.79 89.17h0M258.98 79.63h0M258.06 81.71h0M257.9 78.14h0M262.13 57.72h0M256.95 77.96h0M251.15 73.51h0M263.36 56.95h0M252.47 65.79h0M270.35 88.68h0M255.65 59.47h0M254.33 74.05h0M252.45 77.61h0M250.47 71.93h0M263.51 82.6h0M250.27 66h0M265.41 49.15h0M251.22 67.1h0M268.3 88.14h0M249.93 72.5h0M253.83 73.6h0M261.22 55.68h0M258.14 79.71h0M266.96 85.23h0M256.14 78.46h0M250.12 71.77h0M253.75 63.97h0M266.16 55.89h0M268.31 87.93h0M256.16 62.48h0M267.87 86.84h0M249.42 70.5h0M254.07 74.95h0M263.13 86.02h0M252.79 65.73h0M248.84 67.14h0M257.86 78.39h0M251.25 71.51h0M248.94 75.56h0M259.86 60.21h0M272.14 51.1h0M269.43 54.18h0M254.73 63.89h0M268.23 53.98h0M250.43 66.99h0M270.13 91.97h0M268.33 87.65h0M257.26 77.6h0M261.39 58.02h0M259.24 60.43h0M262.4 56.77h0M267.11 55.35h0M263.39 85.6h0M251.11 71.51h0M253.59 64.36h0M260.65 81.28h0M258.56 59.4h0M256.43 77.52h0M252.88 73.81h0M251.39 72.34h0M256.85 60.39h0M263.25 82.11h0M267.31 52.11h0M270.95 50.43h0M265.31 51.84h0M259.18 85.26h0M258.01 61.18h0M269.4 89.09h0M249.18 70.69h0M261.17 80.01h0M265.83 86.31h0M250.45 65h0M257.62 78.02h0M260.65 81.35h0M261.89 84.12h0M255.23 75h0M259.33 59.46h0M253.98 76.92h0M252.33 72.8h0M266.69 87.84h0M252.04 65.39h0M264.43 56.24h0M253.95 65.08h0M270.72 90.23h0M264.08 58.11h0M254.25 60.75h0M260.65 58.09h0M268.45 54.84h0M265.87 50.95h0M257.58 79.13h0M259.28 57.98h0M250.01 68.04h0M261.49 57.9h0M251.37 65.31h0M251.95 77.79h0M263.67 82.09h0M257.11 58.86h0M254.15 64.16h0M257.66 83.75h0M260.23 80.69h0M269.56 48.75h0M269.2 89.32h0M269.32 54.24h0M255.46 80.14h0M269.65 51.05h0M267.64 51.93h0M268.6 51.57h0M253.16 61.79h0M250.32 71.51h0M258.51 80.41h0M251.67 75.64h0M250.58 71.66h0M265.08 86.88h0M255.34 64.16h0M268.44 87.71h0M256.02 63.58h0M259.6 57.76h0M266.44 88.13h0M252.24 73.64h0M269.42 86.81h0M266.5 45h0M265.5 47.5h0M268 48.5h0M262 50h0M270 46.5h0M267 43.5h0M271 55h0M263.5 52h0" stroke="#000" stroke-width="1.6" stroke-linecap="round" stroke-opacity="1" fill="none"/>
<line x1="272.39" y1="24.5" x2="272.39" y2="129.5" stroke="#3f7fc8" stroke-width="0.6" stroke-dasharray="0.9,0.9"/>
<line x1="245.5" y1="64.02" x2="376.2" y2="64.02" stroke="#3f7fc8" stroke-width="0.6" stroke-dasharray="0.9,0.9"/>
<line x1="245.5" y1="74.38" x2="376.2" y2="74.38" stroke="#3f7fc8" stroke-width="0.6" stroke-dasharray="0.9,0.9"/>
<rect x="284.2" y="49.2" width="13.4" height="6.3" rx="0.8" fill="#fff" fill-opacity="0.15" stroke="#777" stroke-width="0.5"/>
<text x="290.9" y="54.1" font-size="5.2" text-anchor="middle" fill="#e64b35" stroke="#e64b35" stroke-width="0.08">HK2</text>
<rect x="280.2" y="57.1" width="19.4" height="6.3" rx="0.8" fill="#fff" fill-opacity="0.75" stroke="#aaa" stroke-width="0.5"/>
<text x="289.9" y="62" font-size="5.2" text-anchor="middle" fill="#e64b35" stroke="#e64b35" stroke-width="0.08">SLC2A1</text>
<rect x="292.3" y="64.3" width="17.1" height="5.9" rx="0.8" fill="#fff" fill-opacity="0.75" stroke="#aaa" stroke-width="0.5"/>
<text x="300.85" y="68.8" font-size="5.2" text-anchor="middle" fill="#e64b35" stroke="#e64b35" stroke-width="0.08">KRT18</text>
<rect x="335" y="55.1" width="14.5" height="6.6" rx="0.8" fill="#fff" fill-opacity="0.75" stroke="#aaa" stroke-width="0.5"/>
<text x="342.25" y="60.3" font-size="5.2" text-anchor="middle" fill="#e64b35" stroke="#e64b35" stroke-width="0.08">KRT8</text>
<rect x="245.5" y="24.5" width="130.7" height="105" fill="none" stroke="#555" stroke-width="0.6"/>
<line x1="244" y1="122.3" x2="245.5" y2="122.3" stroke="#555" stroke-width="0.5"/>
<text x="243.1" y="123.8" font-size="4.3" text-anchor="end" fill="#222" stroke="#222" stroke-width="0.06">-6</text>
<line x1="244" y1="113.45" x2="245.5" y2="113.45" stroke="#555" stroke-width="0.5"/>
<text x="243.1" y="114.95" font-size="4.3" text-anchor="end" fill="#222" stroke="#222" stroke-width="0.06">-5</text>
<line x1="244" y1="104.6" x2="245.5" y2="104.6" stroke="#555" stroke-width="0.5"/>
<text x="243.1" y="106.1" font-size="4.3" text-anchor="end" fill="#222" stroke="#222" stroke-width="0.06">-4</text>
<line x1="244" y1="95.75" x2="245.5" y2="95.75" stroke="#555" stroke-width="0.5"/>
<text x="243.1" y="97.25" font-size="4.3" text-anchor="end" fill="#222" stroke="#222" stroke-width="0.06">-3</text>
<line x1="244" y1="86.9" x2="245.5" y2="86.9" stroke="#555" stroke-width="0.5"/>
<text x="243.1" y="88.4" font-size="4.3" text-anchor="end" fill="#222" stroke="#222" stroke-width="0.06">-2</text>
<line x1="244" y1="78.05" x2="245.5" y2="78.05" stroke="#555" stroke-width="0.5"/>
<text x="243.1" y="79.55" font-size="4.3" text-anchor="end" fill="#222" stroke="#222" stroke-width="0.06">-1</text>
<line x1="244" y1="69.2" x2="245.5" y2="69.2" stroke="#555" stroke-width="0.5"/>
<text x="243.1" y="70.7" font-size="4.3" text-anchor="end" fill="#222" stroke="#222" stroke-width="0.06">0</text>
<line x1="244" y1="60.35" x2="245.5" y2="60.35" stroke="#555" stroke-width="0.5"/>
<text x="243.1" y="61.85" font-size="4.3" text-anchor="end" fill="#222" stroke="#222" stroke-width="0.06">1</text>
<line x1="244" y1="51.5" x2="245.5" y2="51.5" stroke="#555" stroke-width="0.5"/>
<text x="243.1" y="53" font-size="4.3" text-anchor="end" fill="#222" stroke="#222" stroke-width="0.06">2</text>
<line x1="244" y1="42.65" x2="245.5" y2="42.65" stroke="#555" stroke-width="0.5"/>
<text x="243.1" y="44.15" font-size="4.3" text-anchor="end" fill="#222" stroke="#222" stroke-width="0.06">3</text>
<line x1="244" y1="33.8" x2="245.5" y2="33.8" stroke="#555" stroke-width="0.5"/>
<text x="243.1" y="35.3" font-size="4.3" text-anchor="end" fill="#222" stroke="#222" stroke-width="0.06">4</text>
<line x1="244" y1="24.95" x2="245.5" y2="24.95" stroke="#555" stroke-width="0.5"/>
<text x="243.1" y="26.45" font-size="4.3" text-anchor="end" fill="#222" stroke="#222" stroke-width="0.06">5</text>
<line x1="249.3" y1="129.5" x2="249.3" y2="131" stroke="#555" stroke-width="0.5"/>
<text x="249.3" y="135.4" font-size="4.3" text-anchor="middle" fill="#222" stroke="#222" stroke-width="0.06">0</text>
<line x1="267.06" y1="129.5" x2="267.06" y2="131" stroke="#555" stroke-width="0.5"/>
<text x="267.06" y="135.4" font-size="4.3" text-anchor="middle" fill="#222" stroke="#222" stroke-width="0.06">1</text>
<line x1="284.82" y1="129.5" x2="284.82" y2="131" stroke="#555" stroke-width="0.5"/>
<text x="284.82" y="135.4" font-size="4.3" text-anchor="middle" fill="#222" stroke="#222" stroke-width="0.06">2</text>
<line x1="302.58" y1="129.5" x2="302.58" y2="131" stroke="#555" stroke-width="0.5"/>
<text x="302.58" y="135.4" font-size="4.3" text-anchor="middle" fill="#222" stroke="#222" stroke-width="0.06">3</text>
<line x1="320.34" y1="129.5" x2="320.34" y2="131" stroke="#555" stroke-width="0.5"/>
<text x="320.34" y="135.4" font-size="4.3" text-anchor="middle" fill="#222" stroke="#222" stroke-width="0.06">4</text>
<line x1="338.1" y1="129.5" x2="338.1" y2="131" stroke="#555" stroke-width="0.5"/>
<text x="338.1" y="135.4" font-size="4.3" text-anchor="middle" fill="#222" stroke="#222" stroke-width="0.06">5</text>
<line x1="355.86" y1="129.5" x2="355.86" y2="131" stroke="#555" stroke-width="0.5"/>
<text x="355.86" y="135.4" font-size="4.3" text-anchor="middle" fill="#222" stroke="#222" stroke-width="0.06">6</text>
<line x1="373.62" y1="129.5" x2="373.62" y2="131" stroke="#555" stroke-width="0.5"/>
<text x="373.62" y="135.4" font-size="4.3" text-anchor="middle" fill="#222" stroke="#222" stroke-width="0.06">7</text>
<text x="229.6" y="77" font-size="4.8" text-anchor="middle" fill="#222" transform="rotate(-90 229.6 77)" stroke="#222" stroke-width="0.07">log2(FoldChange)</text>
<text x="311" y="141.2" font-size="4.8" text-anchor="middle" fill="#222" stroke="#222" stroke-width="0.07">-log10(pvalue)</text>
<text transform="translate(0.2 159.4) scale(0.92 1)" font-size="14.8" font-weight="bold">D</text>
<rect x="61.2" y="155.5" width="59.2" height="48.3" fill="#fff"/>
<line x1="67.44" y1="155.5" x2="67.44" y2="203.8" stroke="#f2f2f2" stroke-width="0.4"/>
<line x1="79.5" y1="155.5" x2="79.5" y2="203.8" stroke="#f2f2f2" stroke-width="0.4"/>
<line x1="91.58" y1="155.5" x2="91.58" y2="203.8" stroke="#f2f2f2" stroke-width="0.4"/>
<line x1="103.65" y1="155.5" x2="103.65" y2="203.8" stroke="#f2f2f2" stroke-width="0.4"/>
<line x1="115.72" y1="155.5" x2="115.72" y2="203.8" stroke="#f2f2f2" stroke-width="0.4"/>
<line x1="61.4" y1="155.5" x2="61.4" y2="203.8" stroke="#e6e6e6" stroke-width="0.5"/>
<line x1="73.47" y1="155.5" x2="73.47" y2="203.8" stroke="#e6e6e6" stroke-width="0.5"/>
<line x1="85.54" y1="155.5" x2="85.54" y2="203.8" stroke="#e6e6e6" stroke-width="0.5"/>
<line x1="97.61" y1="155.5" x2="97.61" y2="203.8" stroke="#e6e6e6" stroke-width="0.5"/>
<line x1="109.68" y1="155.5" x2="109.68" y2="203.8" stroke="#e6e6e6" stroke-width="0.5"/>
<line x1="121.75" y1="155.5" x2="121.75" y2="203.8" stroke="#e6e6e6" stroke-width="0.5"/>
<line x1="61.2" y1="160.9" x2="120.4" y2="160.9" stroke="#e6e6e6" stroke-width="0.5"/>
<line x1="61.2" y1="170.3" x2="120.4" y2="170.3" stroke="#e6e6e6" stroke-width="0.5"/>
<line x1="61.2" y1="179.7" x2="120.4" y2="179.7" stroke="#e6e6e6" stroke-width="0.5"/>
<line x1="61.2" y1="189.1" x2="120.4" y2="189.1" stroke="#e6e6e6" stroke-width="0.5"/>
<line x1="61.2" y1="198.5" x2="120.4" y2="198.5" stroke="#e6e6e6" stroke-width="0.5"/>
<text x="60" y="162.3" font-size="4.08" text-anchor="end" fill="#222" stroke="#222" stroke-width="0.06">female pregnancy</text>
<line x1="59.9" y1="160.9" x2="61.2" y2="160.9" stroke="#333" stroke-width="0.4"/>
<circle cx="104.2" cy="160.9" r="2.7" fill="#3b76c0" stroke="#333" stroke-width="0.3"/>
<text x="60" y="169.7" font-size="4.08" text-anchor="end" fill="#222" stroke="#222" stroke-width="0.06">multi−organism reproductive</text>
<text x="60" y="173.9" font-size="4.08" text-anchor="end" fill="#222" stroke="#222" stroke-width="0.06">process</text>
<line x1="59.9" y1="170.3" x2="61.2" y2="170.3" stroke="#333" stroke-width="0.4"/>
<circle cx="104.2" cy="170.3" r="2.7" fill="#3b76c0" stroke="#333" stroke-width="0.3"/>
<text x="60" y="179.1" font-size="4.08" text-anchor="end" fill="#222" stroke="#222" stroke-width="0.06">multi−multicellular organism</text>
<text x="60" y="183.3" font-size="4.08" text-anchor="end" fill="#222" stroke="#222" stroke-width="0.06">process</text>
<line x1="59.9" y1="179.7" x2="61.2" y2="179.7" stroke="#333" stroke-width="0.4"/>
<circle cx="104.2" cy="179.7" r="2.7" fill="#3b76c0" stroke="#333" stroke-width="0.3"/>
<text x="60" y="190.5" font-size="4.08" text-anchor="end" fill="#222" stroke="#222" stroke-width="0.06">hepatocyte apoptotic process</text>
<line x1="59.9" y1="189.1" x2="61.2" y2="189.1" stroke="#333" stroke-width="0.4"/>
<circle cx="77.6" cy="189.1" r="2.2" fill="#c0566e" stroke="#333" stroke-width="0.3"/>
<text x="60" y="197.9" font-size="4.08" text-anchor="end" fill="#222" stroke="#222" stroke-width="0.06">DNA methylation involved in</text>
<text x="60" y="202.1" font-size="4.08" text-anchor="end" fill="#222" stroke="#222" stroke-width="0.06">embryo development</text>
<line x1="59.9" y1="198.5" x2="61.2" y2="198.5" stroke="#333" stroke-width="0.4"/>
<circle cx="64.4" cy="198.5" r="1.3" fill="#3b76c0" stroke="#333" stroke-width="0.3"/>
<rect x="61.2" y="155.5" width="59.2" height="48.3" fill="none" stroke="#6a6a6a" stroke-width="0.5"/>
<rect x="120.4" y="155.5" width="5.8" height="48.3" fill="#d9d9d9" stroke="#555" stroke-width="0.4"/>
<text x="123.7" y="179.65" font-size="3.5" text-anchor="middle" fill="#1a1a1a" transform="rotate(90 123.7 179.65)" stroke="#1a1a1a" stroke-width="0.05">BP</text>
<rect x="61.2" y="206" width="59.2" height="49.4" fill="#fff"/>
<line x1="67.44" y1="206" x2="67.44" y2="255.4" stroke="#f2f2f2" stroke-width="0.4"/>
<line x1="79.5" y1="206" x2="79.5" y2="255.4" stroke="#f2f2f2" stroke-width="0.4"/>
<line x1="91.58" y1="206" x2="91.58" y2="255.4" stroke="#f2f2f2" stroke-width="0.4"/>
<line x1="103.65" y1="206" x2="103.65" y2="255.4" stroke="#f2f2f2" stroke-width="0.4"/>
<line x1="115.72" y1="206" x2="115.72" y2="255.4" stroke="#f2f2f2" stroke-width="0.4"/>
<line x1="61.4" y1="206" x2="61.4" y2="255.4" stroke="#e6e6e6" stroke-width="0.5"/>
<line x1="73.47" y1="206" x2="73.47" y2="255.4" stroke="#e6e6e6" stroke-width="0.5"/>
<line x1="85.54" y1="206" x2="85.54" y2="255.4" stroke="#e6e6e6" stroke-width="0.5"/>
<line x1="97.61" y1="206" x2="97.61" y2="255.4" stroke="#e6e6e6" stroke-width="0.5"/>
<line x1="109.68" y1="206" x2="109.68" y2="255.4" stroke="#e6e6e6" stroke-width="0.5"/>
<line x1="121.75" y1="206" x2="121.75" y2="255.4" stroke="#e6e6e6" stroke-width="0.5"/>
<line x1="61.2" y1="211.9" x2="120.4" y2="211.9" stroke="#e6e6e6" stroke-width="0.5"/>
<line x1="61.2" y1="221.1" x2="120.4" y2="221.1" stroke="#e6e6e6" stroke-width="0.5"/>
<line x1="61.2" y1="230.6" x2="120.4" y2="230.6" stroke="#e6e6e6" stroke-width="0.5"/>
<line x1="61.2" y1="240.2" x2="120.4" y2="240.2" stroke="#e6e6e6" stroke-width="0.5"/>
<line x1="61.2" y1="249.4" x2="120.4" y2="249.4" stroke="#e6e6e6" stroke-width="0.5"/>
<text x="60" y="213.3" font-size="4.08" text-anchor="end" fill="#222" stroke="#222" stroke-width="0.06">secretory granule lumen</text>
<line x1="59.9" y1="211.9" x2="61.2" y2="211.9" stroke="#333" stroke-width="0.4"/>
<circle cx="117.4" cy="211.9" r="2.8" fill="#e0585c" stroke="#333" stroke-width="0.3"/>
<text x="60" y="222.5" font-size="4.08" text-anchor="end" fill="#222" stroke="#222" stroke-width="0.06">cytoplasmic vesicle lumen</text>
<line x1="59.9" y1="221.1" x2="61.2" y2="221.1" stroke="#333" stroke-width="0.4"/>
<circle cx="117.4" cy="221.1" r="2.8" fill="#e0585c" stroke="#333" stroke-width="0.3"/>
<text x="60" y="232" font-size="4.08" text-anchor="end" fill="#222" stroke="#222" stroke-width="0.06">platelet alpha granule lumen</text>
<line x1="59.9" y1="230.6" x2="61.2" y2="230.6" stroke="#333" stroke-width="0.4"/>
<circle cx="90.9" cy="230.6" r="2.5" fill="#e05256" stroke="#333" stroke-width="0.3"/>
<text x="60" y="241.6" font-size="4.08" text-anchor="end" fill="#222" stroke="#222" stroke-width="0.06">platelet alpha granule</text>
<line x1="59.9" y1="240.2" x2="61.2" y2="240.2" stroke="#333" stroke-width="0.4"/>
<circle cx="90.9" cy="240.2" r="2.5" fill="#e05256" stroke="#333" stroke-width="0.3"/>
<text x="60" y="250.8" font-size="4.08" text-anchor="end" fill="#222" stroke="#222" stroke-width="0.06">apicolateral plasma membrane</text>
<line x1="59.9" y1="249.4" x2="61.2" y2="249.4" stroke="#333" stroke-width="0.4"/>
<circle cx="77.6" cy="249.4" r="2.2" fill="#e25456" stroke="#333" stroke-width="0.3"/>
<rect x="61.2" y="206" width="59.2" height="49.4" fill="none" stroke="#6a6a6a" stroke-width="0.5"/>
<rect x="120.4" y="206" width="5.8" height="49.4" fill="#d9d9d9" stroke="#555" stroke-width="0.4"/>
<text x="123.7" y="230.7" font-size="3.5" text-anchor="middle" fill="#1a1a1a" transform="rotate(90 123.7 230.7)" stroke="#1a1a1a" stroke-width="0.05">CC</text>
<rect x="61.2" y="257.1" width="59.2" height="48.5" fill="#fff"/>
<line x1="67.44" y1="257.1" x2="67.44" y2="305.6" stroke="#f2f2f2" stroke-width="0.4"/>
<line x1="79.5" y1="257.1" x2="79.5" y2="305.6" stroke="#f2f2f2" stroke-width="0.4"/>
<line x1="91.58" y1="257.1" x2="91.58" y2="305.6" stroke="#f2f2f2" stroke-width="0.4"/>
<line x1="103.65" y1="257.1" x2="103.65" y2="305.6" stroke="#f2f2f2" stroke-width="0.4"/>
<line x1="115.72" y1="257.1" x2="115.72" y2="305.6" stroke="#f2f2f2" stroke-width="0.4"/>
<line x1="61.4" y1="257.1" x2="61.4" y2="305.6" stroke="#e6e6e6" stroke-width="0.5"/>
<line x1="73.47" y1="257.1" x2="73.47" y2="305.6" stroke="#e6e6e6" stroke-width="0.5"/>
<line x1="85.54" y1="257.1" x2="85.54" y2="305.6" stroke="#e6e6e6" stroke-width="0.5"/>
<line x1="97.61" y1="257.1" x2="97.61" y2="305.6" stroke="#e6e6e6" stroke-width="0.5"/>
<line x1="109.68" y1="257.1" x2="109.68" y2="305.6" stroke="#e6e6e6" stroke-width="0.5"/>
<line x1="121.75" y1="257.1" x2="121.75" y2="305.6" stroke="#e6e6e6" stroke-width="0.5"/>
<line x1="61.2" y1="262.6" x2="120.4" y2="262.6" stroke="#e6e6e6" stroke-width="0.5"/>
<line x1="61.2" y1="272" x2="120.4" y2="272" stroke="#e6e6e6" stroke-width="0.5"/>
<line x1="61.2" y1="281.4" x2="120.4" y2="281.4" stroke="#e6e6e6" stroke-width="0.5"/>
<line x1="61.2" y1="290.8" x2="120.4" y2="290.8" stroke="#e6e6e6" stroke-width="0.5"/>
<line x1="61.2" y1="300.2" x2="120.4" y2="300.2" stroke="#e6e6e6" stroke-width="0.5"/>
<text x="60" y="262" font-size="4.08" text-anchor="end" fill="#222" stroke="#222" stroke-width="0.06">endopeptidase inhibitor</text>
<text x="60" y="266.2" font-size="4.08" text-anchor="end" fill="#222" stroke="#222" stroke-width="0.06">activity</text>
<line x1="59.9" y1="262.6" x2="61.2" y2="262.6" stroke="#333" stroke-width="0.4"/>
<circle cx="92.3" cy="262.6" r="2.6" fill="#8e6a9c" stroke="#333" stroke-width="0.3"/>
<text x="60" y="273.4" font-size="4.08" text-anchor="end" fill="#222" stroke="#222" stroke-width="0.06">peptidase inhibitor activity</text>
<line x1="59.9" y1="272" x2="61.2" y2="272" stroke="#333" stroke-width="0.4"/>
<circle cx="92.3" cy="272" r="2.6" fill="#8e6a9c" stroke="#333" stroke-width="0.3"/>
<text x="60" y="280.8" font-size="4.08" text-anchor="end" fill="#222" stroke="#222" stroke-width="0.06">endopeptidase regulator</text>
<text x="60" y="285" font-size="4.08" text-anchor="end" fill="#222" stroke="#222" stroke-width="0.06">activity</text>
<line x1="59.9" y1="281.4" x2="61.2" y2="281.4" stroke="#333" stroke-width="0.4"/>
<circle cx="92.3" cy="281.4" r="2.6" fill="#8e6a9c" stroke="#333" stroke-width="0.3"/>
<text x="60" y="292.2" font-size="4.08" text-anchor="end" fill="#222" stroke="#222" stroke-width="0.06">serine−type peptidase activity</text>
<line x1="59.9" y1="290.8" x2="61.2" y2="290.8" stroke="#333" stroke-width="0.4"/>
<circle cx="92.3" cy="290.8" r="2.6" fill="#8e6a9c" stroke="#333" stroke-width="0.3"/>
<text x="60" y="301.6" font-size="4.08" text-anchor="end" fill="#222" stroke="#222" stroke-width="0.06">serine hydrolase activity</text>
<line x1="59.9" y1="300.2" x2="61.2" y2="300.2" stroke="#333" stroke-width="0.4"/>
<circle cx="92.3" cy="300.2" r="2.6" fill="#8e6a9c" stroke="#333" stroke-width="0.3"/>
<rect x="61.2" y="257.1" width="59.2" height="48.5" fill="none" stroke="#6a6a6a" stroke-width="0.5"/>
<rect x="120.4" y="257.1" width="5.8" height="48.5" fill="#d9d9d9" stroke="#555" stroke-width="0.4"/>
<text x="123.7" y="281.35" font-size="3.5" text-anchor="middle" fill="#1a1a1a" transform="rotate(90 123.7 281.35)" stroke="#1a1a1a" stroke-width="0.05">MF</text>
<line x1="61.4" y1="305.6" x2="61.4" y2="306.9" stroke="#333" stroke-width="0.4"/>
<text x="61.4" y="310.6" font-size="3.9" text-anchor="middle" fill="#333" stroke="#333" stroke-width="0.06">0.04</text>
<line x1="73.47" y1="305.6" x2="73.47" y2="306.9" stroke="#333" stroke-width="0.4"/>
<text x="73.47" y="310.6" font-size="3.9" text-anchor="middle" fill="#333" stroke="#333" stroke-width="0.06">0.06</text>
<line x1="85.54" y1="305.6" x2="85.54" y2="306.9" stroke="#333" stroke-width="0.4"/>
<text x="85.54" y="310.6" font-size="3.9" text-anchor="middle" fill="#333" stroke="#333" stroke-width="0.06">0.08</text>
<line x1="97.61" y1="305.6" x2="97.61" y2="306.9" stroke="#333" stroke-width="0.4"/>
<text x="97.61" y="310.6" font-size="3.9" text-anchor="middle" fill="#333" stroke="#333" stroke-width="0.06">0.10</text>
<line x1="109.68" y1="305.6" x2="109.68" y2="306.9" stroke="#333" stroke-width="0.4"/>
<text x="109.68" y="310.6" font-size="3.9" text-anchor="middle" fill="#333" stroke="#333" stroke-width="0.06">0.12</text>
<text x="91.1" y="315.4" font-size="4.15" text-anchor="middle" fill="#111" stroke="#111" stroke-width="0.06">GeneRatio</text>
<text x="131.6" y="193.2" font-size="4" fill="#222" stroke="#222" stroke-width="0.06">qvalue</text>
<linearGradient id="gq" x1="0" y1="0" x2="0" y2="1"><stop offset="0" stop-color="#e25a5c"/><stop offset="0.5" stop-color="#9c6486"/><stop offset="1" stop-color="#3a78c3"/></linearGradient>
<rect x="131.7" y="195.8" width="5.8" height="29.4" fill="url(#gq)"/>
<text x="139.3" y="203" font-size="3.2" fill="#333" stroke="#333" stroke-width="0.05">0.01</text>
<text x="139.3" y="210.3" font-size="3.2" fill="#333" stroke="#333" stroke-width="0.05">0.02</text>
<text x="139.3" y="217.1" font-size="3.2" fill="#333" stroke="#333" stroke-width="0.05">0.03</text>
<text x="139.3" y="223.8" font-size="3.2" fill="#333" stroke="#333" stroke-width="0.05">0.04</text>
<text x="131.6" y="235" font-size="4" fill="#222" stroke="#222" stroke-width="0.06">Count</text>
<circle cx="135.6" cy="241" r="1" fill="none" stroke="#333" stroke-width="0.4"/>
<text x="141.3" y="242.1" font-size="3.2" fill="#333" stroke="#333" stroke-width="0.05">2</text>
<circle cx="135.6" cy="246.7" r="1.7" fill="none" stroke="#333" stroke-width="0.4"/>
<text x="141.3" y="247.8" font-size="3.2" fill="#333" stroke="#333" stroke-width="0.05">4</text>
<circle cx="135.6" cy="252.5" r="2.2" fill="none" stroke="#333" stroke-width="0.4"/>
<text x="141.3" y="253.6" font-size="3.2" fill="#333" stroke="#333" stroke-width="0.05">6</text>
<circle cx="135.6" cy="259.2" r="2.7" fill="none" stroke="#333" stroke-width="0.4"/>
<text x="141.3" y="260.3" font-size="3.2" fill="#333" stroke="#333" stroke-width="0.05">8</text>
<circle cx="135.6" cy="266.9" r="3.2" fill="none" stroke="#333" stroke-width="0.4"/>
<text x="141.3" y="268" font-size="3.2" fill="#333" stroke="#333" stroke-width="0.05">10</text>
<path d="M202.2 176.1Q207.51 240.59 264.5 265" fill="none" stroke="#f8766d" stroke-width="0.45" stroke-opacity="0.8"/>
<path d="M181.9 184.3Q197.43 250.17 264.5 265" fill="none" stroke="#f8766d" stroke-width="0.45" stroke-opacity="0.8"/>
<path d="M166.1 199.5Q217.05 241.14 271 243" fill="none" stroke="#b79f00" stroke-width="0.45" stroke-opacity="0.8"/>
<path d="M271 243C262 262 240 268 233.9 294.5" fill="none" stroke="#b79f00" stroke-width="0.5" stroke-opacity="0.85"/>
<path d="M156.3 220.3Q225.87 243.08 243.4 184.3" fill="none" stroke="#00ba38" stroke-width="0.45" stroke-opacity="0.8"/>
<path d="M156.3 220.3Q222.14 247.38 259.1 199.5" fill="none" stroke="#f564e3" stroke-width="0.45" stroke-opacity="0.8"/>
<path d="M156.3 220.3Q218.15 240.59 269.2 220.3" fill="none" stroke="#619cff" stroke-width="0.45" stroke-opacity="0.8"/>
<path d="M154.2 242.9Q220.12 247.82 243.4 184.3" fill="none" stroke="#00ba38" stroke-width="0.45" stroke-opacity="0.8"/>
<path d="M154.2 242.9Q221.37 244.44 259.1 199.5" fill="none" stroke="#f564e3" stroke-width="0.45" stroke-opacity="0.8"/>
<path d="M154.2 242.9Q216.39 234.86 269.2 220.3" fill="none" stroke="#619cff" stroke-width="0.45" stroke-opacity="0.8"/>
<path d="M160.4 264.7Q226.55 241.62 243.4 184.3" fill="none" stroke="#00ba38" stroke-width="0.45" stroke-opacity="0.8"/>
<path d="M160.4 264.7Q213.89 235.97 259.1 199.5" fill="none" stroke="#f564e3" stroke-width="0.45" stroke-opacity="0.8"/>
<path d="M160.4 264.7Q207.08 229.78 269.2 220.3" fill="none" stroke="#619cff" stroke-width="0.45" stroke-opacity="0.8"/>
<path d="M173.3 282.2Q208.09 238.1 243.4 184.3" fill="none" stroke="#00ba38" stroke-width="0.45" stroke-opacity="0.8"/>
<path d="M173.3 282.2Q212.02 235.13 259.1 199.5" fill="none" stroke="#f564e3" stroke-width="0.45" stroke-opacity="0.8"/>
<path d="M173.3 282.2Q204.27 227.83 269.2 220.3" fill="none" stroke="#619cff" stroke-width="0.45" stroke-opacity="0.8"/>
<path d="M191.7 294.5Q208.73 239.49 243.4 184.3" fill="none" stroke="#00ba38" stroke-width="0.45" stroke-opacity="0.8"/>
<path d="M191.7 294.5Q201.43 224.15 259.1 199.5" fill="none" stroke="#f564e3" stroke-width="0.45" stroke-opacity="0.8"/>
<path d="M191.7 294.5Q213.01 229.2 269.2 220.3" fill="none" stroke="#619cff" stroke-width="0.45" stroke-opacity="0.8"/>
<path d="M212.6 298.7Q204.09 242.05 223 176.1" fill="none" stroke="#00bfc4" stroke-width="0.45" stroke-opacity="0.8"/>
<path d="M212.6 298.7Q209.85 232.19 269.2 220.3" fill="none" stroke="#619cff" stroke-width="0.45" stroke-opacity="0.8"/>
<path d="M233.9 294.5Q197.41 236.86 223 176.1" fill="none" stroke="#00bfc4" stroke-width="0.45" stroke-opacity="0.8"/>
<path d="M252.1 282.6Q199.64 237.35 223 176.1" fill="none" stroke="#00bfc4" stroke-width="0.45" stroke-opacity="0.8"/>
<path d="M252.1 282.6Q186.89 238.31 269.2 220.3" fill="none" stroke="#619cff" stroke-width="0.45" stroke-opacity="0.8"/>
<circle cx="223" cy="176.1" r="1.8" fill="#e5c494"/>
<circle cx="243.4" cy="184.3" r="2.8" fill="#e5c494"/>
<circle cx="259.1" cy="199.5" r="2.5" fill="#e5c494"/>
<circle cx="269.2" cy="220.3" r="2.8" fill="#e5c494"/>
<circle cx="271" cy="243" r="1" fill="#e5c494"/>
<circle cx="264.5" cy="265" r="1" fill="#e5c494"/>
<circle cx="202.2" cy="176.1" r="1.8" fill="#e05a5a"/>
<circle cx="181.9" cy="184.3" r="1.9" fill="#e05a5a"/>
<circle cx="166.1" cy="199.5" r="1.9" fill="#9db8e4"/>
<circle cx="156.3" cy="220.3" r="1.9" fill="#e87070"/>
<circle cx="154.2" cy="242.9" r="1.9" fill="#8fb0e0"/>
<circle cx="160.4" cy="264.7" r="1.9" fill="#f4a0a0"/>
<circle cx="173.3" cy="282.2" r="1.9" fill="#9db8e4"/>
<circle cx="191.7" cy="294.5" r="1.9" fill="#e05a5a"/>
<circle cx="212.6" cy="298.7" r="2" fill="#7aa2dd"/>
<circle cx="233.9" cy="294.5" r="1.9" fill="#a9c2e8"/>
<circle cx="252.1" cy="282.6" r="2" fill="#5b8bd0"/>
<text x="220.6" y="177.6" font-size="4.2" fill="#1a1a1a" stroke="#1a1a1a" stroke-width="0.06">hepatocyte apoptotic process</text>
<text x="224" y="189" font-size="4.2" fill="#1a1a1a" stroke="#1a1a1a" stroke-width="0.06">female pregnancy</text>
<text x="193.3" y="201.3" font-size="4.2" fill="#1a1a1a" stroke="#1a1a1a" stroke-width="0.06">multi−organism reproductive process</text>
<text x="199" y="221.8" font-size="4.2" fill="#1a1a1a" stroke="#1a1a1a" stroke-width="0.06">multi−multicellular organism process</text>
<text x="176.6" y="244.4" font-size="4.2" fill="#1a1a1a" stroke="#1a1a1a" stroke-width="0.06">DNA methylation involved in embryo development</text>
<text x="194.6" y="266.2" font-size="4.2" fill="#1a1a1a" stroke="#1a1a1a" stroke-width="0.06">complement activation, lectin pathway</text>
<text x="189.8" y="177.6" font-size="4.2" fill="#1a1a1a" stroke="#1a1a1a" stroke-width="0.06">FCN1</text>
<text x="174.3" y="182.8" font-size="4.2" fill="#1a1a1a" stroke="#1a1a1a" stroke-width="0.06">SERPING1</text>
<text x="155.7" y="204.2" font-size="4.2" fill="#1a1a1a" stroke="#1a1a1a" stroke-width="0.06">DNMT1</text>
<text x="153.8" y="218.5" font-size="4.2" fill="#1a1a1a" stroke="#1a1a1a" stroke-width="0.06">TIMP1</text>
<text x="156" y="244.4" font-size="4.2" fill="#1a1a1a" stroke="#1a1a1a" stroke-width="0.06">SLC2A1</text>
<text x="155.7" y="262.8" font-size="4.2" fill="#1a1a1a" stroke="#1a1a1a" stroke-width="0.06">IGFBP7</text>
<text x="163.7" y="287.1" font-size="4.2" fill="#1a1a1a" stroke="#1a1a1a" stroke-width="0.06">CLDN4</text>
<text x="183.8" y="298.9" font-size="4.2" fill="#1a1a1a" stroke="#1a1a1a" stroke-width="0.06">THBD</text>
<text x="208.8" y="297.5" font-size="4.2" fill="#1a1a1a" stroke="#1a1a1a" stroke-width="0.06">KRT18</text>
<text x="227.8" y="293.2" font-size="4.2" fill="#1a1a1a" stroke="#1a1a1a" stroke-width="0.06">DNMT3A</text>
<text x="249.6" y="281.2" font-size="4.2" fill="#1a1a1a" stroke="#1a1a1a" stroke-width="0.06">KRT8</text>
<text x="278.9" y="209" font-size="3.6" fill="#222" stroke="#222" stroke-width="0.05">size</text>
<circle cx="282" cy="213.3" r="0.8" fill="#000"/>
<text x="287.2" y="214.4" font-size="3.2" fill="#333" stroke="#333" stroke-width="0.05">2</text>
<circle cx="282" cy="218.5" r="1.5" fill="#000"/>
<text x="287.2" y="219.6" font-size="3.2" fill="#333" stroke="#333" stroke-width="0.05">3</text>
<circle cx="282" cy="223.9" r="2" fill="#000"/>
<text x="287.2" y="225" font-size="3.2" fill="#333" stroke="#333" stroke-width="0.05">4</text>
<circle cx="282" cy="230.3" r="2.5" fill="#000"/>
<text x="287.2" y="231.4" font-size="3.2" fill="#333" stroke="#333" stroke-width="0.05">5</text>
<text x="278.9" y="237.6" font-size="3.6" fill="#222" stroke="#222" stroke-width="0.05">fold change</text>
<linearGradient id="gfc" x1="0" y1="0" x2="0" y2="1"><stop offset="0" stop-color="#4b7fc9"/><stop offset="0.45" stop-color="#fbfbfb"/><stop offset="1" stop-color="#e0585c"/></linearGradient>
<rect x="278.9" y="240.2" width="4.8" height="24.8" fill="url(#gfc)"/>
<text x="287.2" y="245.9" font-size="3.2" fill="#333" stroke="#333" stroke-width="0.05">1</text>
<text x="287.2" y="252.5" font-size="3.2" fill="#333" stroke="#333" stroke-width="0.05">0</text>
<text x="287.2" y="258.9" font-size="3.2" fill="#333" stroke="#333" stroke-width="0.05">−1</text>
<text x="287.2" y="265.1" font-size="3.2" fill="#333" stroke="#333" stroke-width="0.05">−2</text>
<text transform="translate(298.2 159.6) scale(0.9 1)" font-size="15.1" font-weight="bold">E</text>
<rect x="359.4" y="155.2" width="66.9" height="151.1" fill="#fff"/>
<line x1="366.24" y1="155.2" x2="366.24" y2="306.3" stroke="#f2f2f2" stroke-width="0.4"/>
<line x1="378.92" y1="155.2" x2="378.92" y2="306.3" stroke="#f2f2f2" stroke-width="0.4"/>
<line x1="391.6" y1="155.2" x2="391.6" y2="306.3" stroke="#f2f2f2" stroke-width="0.4"/>
<line x1="404.28" y1="155.2" x2="404.28" y2="306.3" stroke="#f2f2f2" stroke-width="0.4"/>
<line x1="416.96" y1="155.2" x2="416.96" y2="306.3" stroke="#f2f2f2" stroke-width="0.4"/>
<line x1="359.9" y1="155.2" x2="359.9" y2="306.3" stroke="#e6e6e6" stroke-width="0.5"/>
<line x1="372.58" y1="155.2" x2="372.58" y2="306.3" stroke="#e6e6e6" stroke-width="0.5"/>
<line x1="385.26" y1="155.2" x2="385.26" y2="306.3" stroke="#e6e6e6" stroke-width="0.5"/>
<line x1="397.94" y1="155.2" x2="397.94" y2="306.3" stroke="#e6e6e6" stroke-width="0.5"/>
<line x1="410.62" y1="155.2" x2="410.62" y2="306.3" stroke="#e6e6e6" stroke-width="0.5"/>
<line x1="423.3" y1="155.2" x2="423.3" y2="306.3" stroke="#e6e6e6" stroke-width="0.5"/>
<line x1="359.4" y1="162.5" x2="426.3" y2="162.5" stroke="#e6e6e6" stroke-width="0.5"/>
<line x1="359.4" y1="175.1" x2="426.3" y2="175.1" stroke="#e6e6e6" stroke-width="0.5"/>
<line x1="359.4" y1="187.3" x2="426.3" y2="187.3" stroke="#e6e6e6" stroke-width="0.5"/>
<line x1="359.4" y1="199.6" x2="426.3" y2="199.6" stroke="#e6e6e6" stroke-width="0.5"/>
<line x1="359.4" y1="212.2" x2="426.3" y2="212.2" stroke="#e6e6e6" stroke-width="0.5"/>
<line x1="359.4" y1="224.4" x2="426.3" y2="224.4" stroke="#e6e6e6" stroke-width="0.5"/>
<line x1="359.4" y1="237" x2="426.3" y2="237" stroke="#e6e6e6" stroke-width="0.5"/>
<line x1="359.4" y1="249.3" x2="426.3" y2="249.3" stroke="#e6e6e6" stroke-width="0.5"/>
<line x1="359.4" y1="261.4" x2="426.3" y2="261.4" stroke="#e6e6e6" stroke-width="0.5"/>
<line x1="359.4" y1="273.9" x2="426.3" y2="273.9" stroke="#e6e6e6" stroke-width="0.5"/>
<line x1="359.4" y1="286.2" x2="426.3" y2="286.2" stroke="#e6e6e6" stroke-width="0.5"/>
<line x1="359.4" y1="298.7" x2="426.3" y2="298.7" stroke="#e6e6e6" stroke-width="0.5"/>
<text x="357.6" y="163.9" font-size="4.08" text-anchor="end" fill="#222" stroke="#222" stroke-width="0.06">Glycolysis / Gluconeogenesis</text>
<line x1="357.9" y1="162.5" x2="359.4" y2="162.5" stroke="#333" stroke-width="0.4"/>
<circle cx="423" cy="162.5" r="2.8" fill="#c0566c" stroke="#333" stroke-width="0.3"/>
<text x="357.6" y="174.3" font-size="4.08" text-anchor="end" fill="#222" stroke="#222" stroke-width="0.06">Complement and coagulation</text>
<text x="357.6" y="178.7" font-size="4.08" text-anchor="end" fill="#222" stroke="#222" stroke-width="0.06">cascades</text>
<line x1="357.9" y1="175.1" x2="359.4" y2="175.1" stroke="#333" stroke-width="0.4"/>
<circle cx="403.2" cy="175.1" r="2.8" fill="#dc5560" stroke="#333" stroke-width="0.3"/>
<text x="357.6" y="188.7" font-size="4.08" text-anchor="end" fill="#222" stroke="#222" stroke-width="0.06">Diabetic cardiomyopathy</text>
<line x1="357.9" y1="187.3" x2="359.4" y2="187.3" stroke="#333" stroke-width="0.4"/>
<circle cx="403.2" cy="187.3" r="2.8" fill="#c0586e" stroke="#333" stroke-width="0.3"/>
<text x="357.6" y="198.8" font-size="4.08" text-anchor="end" fill="#222" stroke="#222" stroke-width="0.06">Cysteine and methionine</text>
<text x="357.6" y="203.2" font-size="4.08" text-anchor="end" fill="#222" stroke="#222" stroke-width="0.06">metabolism</text>
<line x1="357.9" y1="199.6" x2="359.4" y2="199.6" stroke="#333" stroke-width="0.4"/>
<circle cx="382.7" cy="199.6" r="2.4" fill="#d05666" stroke="#333" stroke-width="0.3"/>
<text x="357.6" y="213.6" font-size="4.08" text-anchor="end" fill="#222" stroke="#222" stroke-width="0.06">Insulin resistance</text>
<line x1="357.9" y1="212.2" x2="359.4" y2="212.2" stroke="#333" stroke-width="0.4"/>
<circle cx="382.7" cy="212.2" r="2.4" fill="#c0587a" stroke="#333" stroke-width="0.3"/>
<text x="357.6" y="225.8" font-size="4.08" text-anchor="end" fill="#222" stroke="#222" stroke-width="0.06">HIF−1 signaling pathway</text>
<line x1="357.9" y1="224.4" x2="359.4" y2="224.4" stroke="#333" stroke-width="0.4"/>
<circle cx="382.7" cy="224.4" r="2.4" fill="#c0587a" stroke="#333" stroke-width="0.3"/>
<text x="357.6" y="236.2" font-size="4.08" text-anchor="end" fill="#222" stroke="#222" stroke-width="0.06">Thyroid hormone signaling</text>
<text x="357.6" y="240.6" font-size="4.08" text-anchor="end" fill="#222" stroke="#222" stroke-width="0.06">pathway</text>
<line x1="357.9" y1="237" x2="359.4" y2="237" stroke="#333" stroke-width="0.4"/>
<circle cx="382.7" cy="237" r="2.4" fill="#b85676" stroke="#333" stroke-width="0.3"/>
<text x="357.6" y="250.7" font-size="4.08" text-anchor="end" fill="#222" stroke="#222" stroke-width="0.06">Hepatitis C</text>
<line x1="357.9" y1="249.3" x2="359.4" y2="249.3" stroke="#333" stroke-width="0.4"/>
<circle cx="382.7" cy="249.3" r="2.4" fill="#6c66a2" stroke="#333" stroke-width="0.3"/>
<text x="357.6" y="262.8" font-size="4.08" text-anchor="end" fill="#222" stroke="#222" stroke-width="0.06">Tight junction</text>
<line x1="357.9" y1="261.4" x2="359.4" y2="261.4" stroke="#333" stroke-width="0.4"/>
<circle cx="382.7" cy="261.4" r="2.4" fill="#6268a8" stroke="#333" stroke-width="0.3"/>
<text x="357.6" y="275.3" font-size="4.08" text-anchor="end" fill="#222" stroke="#222" stroke-width="0.06">Proteoglycans in cancer</text>
<line x1="357.9" y1="273.9" x2="359.4" y2="273.9" stroke="#333" stroke-width="0.4"/>
<circle cx="382.7" cy="273.9" r="2.5" fill="#3a78c0" stroke="#333" stroke-width="0.3"/>
<text x="357.6" y="285.4" font-size="4.08" text-anchor="end" fill="#222" stroke="#222" stroke-width="0.06">Central carbon metabolism in</text>
<text x="357.6" y="289.8" font-size="4.08" text-anchor="end" fill="#222" stroke="#222" stroke-width="0.06">cancer</text>
<line x1="357.9" y1="286.2" x2="359.4" y2="286.2" stroke="#333" stroke-width="0.4"/>
<circle cx="362.5" cy="286.2" r="1.3" fill="#3a72b8" stroke="#333" stroke-width="0.3"/>
<text x="357.6" y="300.1" font-size="4.08" text-anchor="end" fill="#222" stroke="#222" stroke-width="0.06">Pancreatic cancer</text>
<line x1="357.9" y1="298.7" x2="359.4" y2="298.7" stroke="#333" stroke-width="0.4"/>
<circle cx="362.5" cy="298.7" r="1.3" fill="#3a72b8" stroke="#333" stroke-width="0.3"/>
<rect x="359.4" y="155.2" width="66.9" height="151.1" fill="none" stroke="#6a6a6a" stroke-width="0.5"/>
<line x1="359.9" y1="306.3" x2="359.9" y2="307.6" stroke="#333" stroke-width="0.4"/>
<text x="359.9" y="310.4" font-size="3.9" text-anchor="middle" fill="#333" stroke="#333" stroke-width="0.06">0.075</text>
<line x1="372.58" y1="306.3" x2="372.58" y2="307.6" stroke="#333" stroke-width="0.4"/>
<text x="372.58" y="310.4" font-size="3.9" text-anchor="middle" fill="#333" stroke="#333" stroke-width="0.06">0.100</text>
<line x1="385.26" y1="306.3" x2="385.26" y2="307.6" stroke="#333" stroke-width="0.4"/>
<text x="385.26" y="310.4" font-size="3.9" text-anchor="middle" fill="#333" stroke="#333" stroke-width="0.06">0.125</text>
<line x1="397.94" y1="306.3" x2="397.94" y2="307.6" stroke="#333" stroke-width="0.4"/>
<text x="397.94" y="310.4" font-size="3.9" text-anchor="middle" fill="#333" stroke="#333" stroke-width="0.06">0.150</text>
<line x1="410.62" y1="306.3" x2="410.62" y2="307.6" stroke="#333" stroke-width="0.4"/>
<text x="410.62" y="310.4" font-size="3.9" text-anchor="middle" fill="#333" stroke="#333" stroke-width="0.06">0.175</text>
<line x1="423.3" y1="306.3" x2="423.3" y2="307.6" stroke="#333" stroke-width="0.4"/>
<text x="423.3" y="310.4" font-size="3.9" text-anchor="middle" fill="#333" stroke="#333" stroke-width="0.06">0.200</text>
<text x="393.1" y="315.4" font-size="4.15" text-anchor="middle" fill="#111" stroke="#111" stroke-width="0.06">GeneRatio</text>
<text x="431.9" y="196.3" font-size="4" fill="#222" stroke="#222" stroke-width="0.06">p.adjust</text>
<linearGradient id="gp" x1="0" y1="0" x2="0" y2="1"><stop offset="0" stop-color="#e25a5c"/><stop offset="0.5" stop-color="#9c6486"/><stop offset="1" stop-color="#3a78c3"/></linearGradient>
<rect x="432.3" y="199.2" width="5.8" height="28.8" fill="url(#gp)"/>
<text x="439.9" y="206.1" font-size="3.2" fill="#333" stroke="#333" stroke-width="0.05">0.05</text>
<text x="439.9" y="213.6" font-size="3.2" fill="#333" stroke="#333" stroke-width="0.05">0.10</text>
<text x="439.9" y="221.1" font-size="3.2" fill="#333" stroke="#333" stroke-width="0.05">0.15</text>
<text x="439.9" y="228.1" font-size="3.2" fill="#333" stroke="#333" stroke-width="0.05">0.20</text>
<text x="431.9" y="238.6" font-size="4" fill="#222" stroke="#222" stroke-width="0.06">Count</text>
<circle cx="435.7" cy="244.3" r="1" fill="none" stroke="#333" stroke-width="0.4"/>
<text x="442.3" y="245.4" font-size="3.2" fill="#333" stroke="#333" stroke-width="0.05">3</text>
<circle cx="435.7" cy="249.8" r="2" fill="none" stroke="#333" stroke-width="0.4"/>
<text x="442.3" y="250.9" font-size="3.2" fill="#333" stroke="#333" stroke-width="0.05">5</text>
<circle cx="435.7" cy="256.2" r="2.6" fill="none" stroke="#333" stroke-width="0.4"/>
<text x="442.3" y="257.3" font-size="3.2" fill="#333" stroke="#333" stroke-width="0.05">4</text>
<circle cx="435.7" cy="263.3" r="3.2" fill="none" stroke="#333" stroke-width="0.4"/>
<text x="442.3" y="264.4" font-size="3.2" fill="#333" stroke="#333" stroke-width="0.05">6</text>
<path d="M535.3 289.7Q506 228.15 519.6 177.3" fill="none" stroke="#f8766d" stroke-width="0.5" stroke-opacity="0.8"/>
<path d="M549.2 280.1Q506.82 231.84 519.6 177.3" fill="none" stroke="#f8766d" stroke-width="0.5" stroke-opacity="0.8"/>
<path d="M560.2 267.8Q502.58 232.11 519.6 177.3" fill="none" stroke="#f8766d" stroke-width="0.5" stroke-opacity="0.8"/>
<path d="M566.5 252.5Q500.25 236.84 519.6 177.3" fill="none" stroke="#f8766d" stroke-width="0.5" stroke-opacity="0.8"/>
<path d="M487.2 289.7Q510.01 229.07 535.3 182.1" fill="none" stroke="#b79f00" stroke-width="0.5" stroke-opacity="0.8"/>
<path d="M503 294.4Q510.76 223.06 535.3 182.1" fill="none" stroke="#b79f00" stroke-width="0.5" stroke-opacity="0.8"/>
<path d="M519.3 294.4Q506.95 220.37 535.3 182.1" fill="none" stroke="#b79f00" stroke-width="0.5" stroke-opacity="0.8"/>
<path d="M456 252.5Q517.97 227.94 549.5 191.8" fill="none" stroke="#f564e3" stroke-width="0.5" stroke-opacity="0.8"/>
<path d="M462.7 267.8Q521.34 232.99 549.5 191.8" fill="none" stroke="#f564e3" stroke-width="0.5" stroke-opacity="0.8"/>
<path d="M473.5 280.1Q517.15 222.39 549.5 191.8" fill="none" stroke="#f564e3" stroke-width="0.5" stroke-opacity="0.8"/>
<path d="M503 294.4Q512.85 221.02 549.5 191.8" fill="none" stroke="#f564e3" stroke-width="0.5" stroke-opacity="0.8"/>
<path d="M519.3 294.4Q499.38 216.17 549.5 191.8" fill="none" stroke="#f564e3" stroke-width="0.5" stroke-opacity="0.8"/>
<path d="M473.6 191Q514.51 251.54 560.2 204.1" fill="none" stroke="#00ba38" stroke-width="0.5" stroke-opacity="0.8"/>
<path d="M462.8 203.9Q515.72 241.54 560.2 204.1" fill="none" stroke="#00ba38" stroke-width="0.5" stroke-opacity="0.8"/>
<path d="M456.2 219.5Q517.88 236.59 560.2 204.1" fill="none" stroke="#00ba38" stroke-width="0.5" stroke-opacity="0.8"/>
<path d="M453.7 236.2Q517.72 235.41 560.2 204.1" fill="none" stroke="#00ba38" stroke-width="0.5" stroke-opacity="0.8"/>
<path d="M473.6 191Q509.83 245.71 567 219.5" fill="none" stroke="#619cff" stroke-width="0.5" stroke-opacity="0.8"/>
<path d="M462.8 203.9Q512.01 241.47 567 219.5" fill="none" stroke="#619cff" stroke-width="0.5" stroke-opacity="0.8"/>
<path d="M456.2 219.5Q517.92 233.79 567 219.5" fill="none" stroke="#619cff" stroke-width="0.5" stroke-opacity="0.8"/>
<path d="M453.7 236.2Q516.62 229.38 567 219.5" fill="none" stroke="#619cff" stroke-width="0.5" stroke-opacity="0.8"/>
<path d="M487.3 182.1Q512.4 238.36 571 235.5" fill="none" stroke="#00bfc4" stroke-width="0.5" stroke-opacity="0.8"/>
<path d="M503 177.3Q506.56 245.32 571 235.5" fill="none" stroke="#00bfc4" stroke-width="0.5" stroke-opacity="0.8"/>
<path d="M473.6 191Q509.92 243.43 571 235.5" fill="none" stroke="#00bfc4" stroke-width="0.5" stroke-opacity="0.8"/>
<circle cx="519.6" cy="177.3" r="2.5" fill="#e5c494"/>
<circle cx="535.3" cy="182.1" r="1" fill="#e5c494"/>
<circle cx="549.5" cy="191.8" r="2.6" fill="#e5c494"/>
<circle cx="560.2" cy="204.1" r="2.6" fill="#e5c494"/>
<circle cx="567" cy="219.5" r="1" fill="#e5c494"/>
<circle cx="571" cy="235.5" r="1" fill="#e5c494"/>
<circle cx="503" cy="177.3" r="1.1" fill="#e05a5a"/>
<circle cx="487.3" cy="182.1" r="1.2" fill="#4a7fc8"/>
<circle cx="473.6" cy="191" r="1.2" fill="#8fb0e0"/>
<circle cx="462.8" cy="203.9" r="1.2" fill="#4a7fc8"/>
<circle cx="456.2" cy="219.5" r="1.2" fill="#5b8bd0"/>
<circle cx="453.7" cy="236.2" r="1.2" fill="#e05a5a"/>
<circle cx="456" cy="252.5" r="1.2" fill="#e05a5a"/>
<circle cx="462.7" cy="267.8" r="1.2" fill="#5b8bd0"/>
<circle cx="473.5" cy="280.1" r="1.2" fill="#3a6fc0"/>
<circle cx="487.2" cy="289.7" r="1.2" fill="#7aa2dd"/>
<circle cx="503" cy="294.4" r="1.2" fill="#9db8e4"/>
<circle cx="519.3" cy="294.4" r="1.2" fill="#a9c2e8"/>
<circle cx="535.3" cy="289.7" r="1.2" fill="#e05a5a"/>
<circle cx="549.2" cy="280.1" r="1.2" fill="#e05a5a"/>
<circle cx="560.2" cy="267.8" r="1.2" fill="#e05a5a"/>
<circle cx="566.5" cy="252.5" r="1.2" fill="#e05a5a"/>
<text x="488.4" y="176.4" font-size="3.8" fill="#1a1a1a" stroke="#1a1a1a" stroke-width="0.06">Complement and coagulation cascades</text>
<text x="495.5" y="181.3" font-size="3.8" fill="#1a1a1a" stroke="#1a1a1a" stroke-width="0.06">TIMP1</text>
<text x="480.9" y="186.2" font-size="3.8" fill="#1a1a1a" stroke="#1a1a1a" stroke-width="0.06">HK2</text>
<text x="486.8" y="186.2" font-size="3.8" fill="#1a1a1a" stroke="#1a1a1a" stroke-width="0.06">Cysteine and methionine metabolism</text>
<text x="538.2" y="190" font-size="3.8" fill="#1a1a1a" stroke="#1a1a1a" stroke-width="0.06">MicroRNAs in cancer</text>
<text x="463.8" y="195.5" font-size="3.8" fill="#1a1a1a" stroke="#1a1a1a" stroke-width="0.06">SLC2A1</text>
<text x="456.2" y="207.3" font-size="3.8" fill="#1a1a1a" stroke="#1a1a1a" stroke-width="0.06">INSR</text>
<text x="517.3" y="205.6" font-size="3.8" fill="#1a1a1a" stroke="#1a1a1a" stroke-width="0.06">Diabetic cardiomyopathy</text>
<text x="450.9" y="223.4" font-size="3.8" fill="#1a1a1a" stroke="#1a1a1a" stroke-width="0.06">PPP1CB</text>
<text x="536" y="221" font-size="3.8" fill="#1a1a1a" stroke="#1a1a1a" stroke-width="0.06">Insulin resistance</text>
<text x="455.2" y="235.8" font-size="3.8" fill="#1a1a1a" stroke="#1a1a1a" stroke-width="0.06">TBC1D4</text>
<text x="522.1" y="237.7" font-size="3.8" fill="#1a1a1a" stroke="#1a1a1a" stroke-width="0.06">Glycolysis / Gluconeogenesis</text>
<text x="454.9" y="251.3" font-size="3.8" fill="#1a1a1a" stroke="#1a1a1a" stroke-width="0.06">EZR</text>
<text x="461" y="266.7" font-size="3.8" fill="#1a1a1a" stroke="#1a1a1a" stroke-width="0.06">ST14</text>
<text x="463.7" y="285" font-size="3.8" fill="#1a1a1a" stroke="#1a1a1a" stroke-width="0.06">CCND1</text>
<text x="480" y="288.3" font-size="3.8" fill="#1a1a1a" stroke="#1a1a1a" stroke-width="0.06">IL4I1</text>
<text x="488.7" y="293.2" font-size="3.8" fill="#1a1a1a" stroke="#1a1a1a" stroke-width="0.06">DNMT1</text>
<text x="513.8" y="293.2" font-size="3.8" fill="#1a1a1a" stroke="#1a1a1a" stroke-width="0.06">DNMT3A</text>
<text x="534.2" y="288.7" font-size="3.8" fill="#1a1a1a" stroke="#1a1a1a" stroke-width="0.06">CFD</text>
<text x="546.1" y="279.5" font-size="3.8" fill="#1a1a1a" stroke="#1a1a1a" stroke-width="0.06">F13A1</text>
<text x="553.1" y="267" font-size="3.8" fill="#1a1a1a" stroke="#1a1a1a" stroke-width="0.06">SERPING1</text>
<text x="563.8" y="251.6" font-size="3.8" fill="#1a1a1a" stroke="#1a1a1a" stroke-width="0.06">THBD</text>
<text x="578.1" y="204.2" font-size="3.6" fill="#222" stroke="#222" stroke-width="0.05">size</text>
<circle cx="581.5" cy="208.7" r="1" fill="#000"/>
<text x="586.7" y="209.8" font-size="3.2" fill="#333" stroke="#333" stroke-width="0.05">2.0</text>
<circle cx="581.5" cy="213.1" r="1.6" fill="#000"/>
<text x="586.7" y="214.2" font-size="3.2" fill="#333" stroke="#333" stroke-width="0.05">3.0</text>
<circle cx="581.5" cy="218.3" r="1.85" fill="#000"/>
<text x="586.7" y="219.4" font-size="3.2" fill="#333" stroke="#333" stroke-width="0.05">4.0</text>
<circle cx="581.5" cy="223.7" r="2.1" fill="#000"/>
<text x="586.7" y="224.8" font-size="3.2" fill="#333" stroke="#333" stroke-width="0.05">5.0</text>
<circle cx="581.5" cy="229.8" r="2.45" fill="#000"/>
<text x="586.7" y="230.9" font-size="3.2" fill="#333" stroke="#333" stroke-width="0.05">6.0</text>
<text x="578.1" y="237.2" font-size="3.6" fill="#222" stroke="#222" stroke-width="0.05">fold change</text>
<linearGradient id="gfc2" x1="0" y1="0" x2="0" y2="1"><stop offset="0" stop-color="#4b7fc9"/><stop offset="0.45" stop-color="#fbfbfb"/><stop offset="1" stop-color="#e0585c"/></linearGradient>
<rect x="578.1" y="239.4" width="4.9" height="22.9" fill="url(#gfc2)"/>
<text x="586.7" y="241.3" font-size="3.2" fill="#333" stroke="#333" stroke-width="0.05">2</text>
<text x="586.7" y="246.9" font-size="3.2" fill="#333" stroke="#333" stroke-width="0.05">1</text>
<text x="586.7" y="252.6" font-size="3.2" fill="#333" stroke="#333" stroke-width="0.05">0</text>
<text x="586.7" y="258.4" font-size="3.2" fill="#333" stroke="#333" stroke-width="0.05">−1</text>
<text transform="translate(8.25 335.5) scale(0.88 1)" font-size="12.6" font-weight="bold">F</text>
<text x="20.7" y="342.2" font-size="5" font-weight="bold">diff_Epithelial cells</text>
<text x="20.7" y="349.3" font-size="3.6" fill="#555" textLength="34.1" lengthAdjust="spacingAndGlyphs" stroke="#555" stroke-width="0.05">EnhancedVolcano</text>
<circle cx="24.6" cy="358.6" r="1.6" fill="#a9a9a9"/>
<text x="29.6" y="359.9" font-size="3.6" fill="#222" stroke="#222" stroke-width="0.05">NS</text>
<circle cx="39.4" cy="358.6" r="1.6" fill="#83c883"/>
<text x="44.9" y="359.9" font-size="3.6" fill="#222" stroke="#222" stroke-width="0.05">Log2 FC</text>
<circle cx="63.1" cy="358.6" r="1.6" fill="#92a8ee"/>
<text x="68" y="359.9" font-size="3.6" fill="#222" stroke="#222" stroke-width="0.05">p−value</text>
<circle cx="84.7" cy="358.6" r="1.6" fill="#f08484"/>
<text x="89.7" y="359.9" font-size="3.6" fill="#222" stroke="#222" stroke-width="0.05">p − value and log2 FC</text>
<line x1="43.38" y1="370.8" x2="43.38" y2="433" stroke="#ebebeb" stroke-width="0.5"/>
<line x1="69.1" y1="370.8" x2="69.1" y2="433" stroke="#ebebeb" stroke-width="0.5"/>
<line x1="94.82" y1="370.8" x2="94.82" y2="433" stroke="#ebebeb" stroke-width="0.5"/>
<line x1="120.55" y1="370.8" x2="120.55" y2="433" stroke="#ebebeb" stroke-width="0.5"/>
<line x1="30.51" y1="370.8" x2="30.51" y2="433" stroke="#f5f5f5" stroke-width="0.4"/>
<line x1="56.24" y1="370.8" x2="56.24" y2="433" stroke="#f5f5f5" stroke-width="0.4"/>
<line x1="81.96" y1="370.8" x2="81.96" y2="433" stroke="#f5f5f5" stroke-width="0.4"/>
<line x1="107.69" y1="370.8" x2="107.69" y2="433" stroke="#f5f5f5" stroke-width="0.4"/>
<line x1="20.9" y1="430" x2="125.2" y2="430" stroke="#ebebeb" stroke-width="0.5"/>
<line x1="20.9" y1="411.62" x2="125.2" y2="411.62" stroke="#ebebeb" stroke-width="0.5"/>
<line x1="20.9" y1="393.23" x2="125.2" y2="393.23" stroke="#ebebeb" stroke-width="0.5"/>
<line x1="20.9" y1="374.85" x2="125.2" y2="374.85" stroke="#ebebeb" stroke-width="0.5"/>
<line x1="20.9" y1="420.81" x2="125.2" y2="420.81" stroke="#f5f5f5" stroke-width="0.4"/>
<line x1="20.9" y1="402.42" x2="125.2" y2="402.42" stroke="#f5f5f5" stroke-width="0.4"/>
<line x1="20.9" y1="384.04" x2="125.2" y2="384.04" stroke="#f5f5f5" stroke-width="0.4"/>
<line x1="63.95" y1="370.8" x2="63.95" y2="433" stroke="#999" stroke-width="0.4" stroke-dasharray="1,1"/>
<line x1="74.24" y1="370.8" x2="74.24" y2="433" stroke="#999" stroke-width="0.4" stroke-dasharray="1,1"/>
<path d="M65.49 429.56h0M74.22 429.72h0M61.54 429.63h0M75.18 429.97h0M56.61 429.64h0M71.68 429.7h0M56.45 429.82h0M71.98 429.56h0M62.63 429.89h0M74.84 429.58h0M59.23 429.96h0M72.74 429.93h0M61.15 429.95h0M73.15 429.65h0M61.48 429.68h0M74.29 429.55h0M65.22 429.59h0M73.91 429.79h0M61.82 429.58h0M74.19 429.86h0M63.36 429.98h0M74.26 429.68h0M63.01 429.54h0M72.92 429.59h0M62.84 429.79h0M71.7 429.95h0M65.07 429.73h0M71.24 429.56h0M62.47 429.88h0M72.68 429.74h0M60.64 429.65h0M73.41 429.58h0M60.48 429.82h0M73.95 429.78h0" stroke="#228b22" stroke-width="2" stroke-linecap="round" stroke-opacity="0.55" fill="none"/>
<path d="M74.83 429.73h0M60.37 429.97h0M71.63 429.68h0M63.73 429.74h0M71.25 429.54h0M64.59 429.81h0M74.63 429.62h0M58.79 429.74h0M74.73 429.93h0M58.93 429.74h0M72.79 429.85h0M58.14 429.58h0M73.13 429.89h0M59.58 429.91h0M72.25 429.66h0M63.3 429.97h0M72.05 429.57h0M62.02 429.77h0M73.23 429.97h0M62.87 429.91h0M73.01 429.64h0M60.8 429.6h0M74.19 429.78h0M65.34 429.6h0M72.81 429.53h0M64.16 429.99h0M72.1 429.72h0M64.73 429.89h0M74.96 429.66h0M62.75 429.71h0M72.65 429.78h0M63.39 429.76h0M74.11 429.53h0" stroke="#228b22" stroke-width="2" stroke-linecap="round" stroke-opacity="0.55" fill="none"/>
<path d="M61.57 429.89h0M71.9 429.67h0M65.29 429.99h0M72.44 429.83h0M66.22 429.6h0M72.9 429.62h0M65.77 429.59h0M73.53 429.68h0M63.89 430h0M73.15 429.55h0M58.94 429.63h0M73.07 429.9h0M60.18 429.55h0M72.59 429.9h0M61.51 429.62h0M72.57 429.81h0M60.5 429.68h0M73.97 429.6h0M62.37 429.85h0M73.83 429.71h0M60.84 429.86h0M73.95 429.52h0M56.33 429.65h0M73.41 429.7h0M56.25 429.59h0M73.88 429.88h0M63.78 429.59h0M73.64 429.75h0M62.07 429.55h0M72.54 429.72h0M62.3 429.91h0M71.69 429.73h0M61.57 429.91h0" stroke="#228b22" stroke-width="2" stroke-linecap="round" stroke-opacity="0.55" fill="none"/>
<path d="M65.36 410.57h0M71.41 422.23h0M64.62 429.29h0M73.71 415.58h0M65.62 420.35h0M72.45 419.37h0M64.61 428.01h0M72.42 428.9h0M64.07 423.49h0M72.24 415.67h0M65.57 409.96h0M72.74 416.81h0M65.48 416.08h0M73.9 429.09h0M65.25 422.55h0M72.99 424.9h0M64.73 417.73h0M73.06 420.36h0M65.78 410.52h0M73.49 418.1h0M64.19 429.42h0M73.81 424.91h0M65.8 420.2h0M73.75 425.89h0M64.59 424.25h0M72.43 425.36h0M64.69 414.46h0M72.54 419.08h0M65.82 421.47h0M72.54 428.71h0M65.25 422.5h0M71.69 424.73h0M65.96 429.52h0M72.64 419.23h0M65.48 426.84h0M73.52 419.73h0M65.28 428.62h0M72.1 423.72h0M65.1 413.07h0M73.55 420.57h0M65.05 418.33h0M72.3 420.71h0M65.22 422.63h0M73.63 417.83h0M66.11 419.94h0M71.58 427.77h0M64.76 428.07h0" stroke="#4169e1" stroke-width="2" stroke-linecap="round" stroke-opacity="0.55" fill="none"/>
<path d="M71.74 421.88h0M65.14 429.18h0M73.58 428.03h0M65.05 413.19h0M73.64 423.12h0M66.2 425.3h0M72.87 426.85h0M64.65 423.57h0M72.2 416.51h0M65.04 412.78h0M71.86 428.83h0M65.82 420.13h0M72.94 419.54h0M64.57 427.32h0M73 428.88h0M64.07 417.25h0M71.48 420.84h0M65.09 422.19h0M72.26 423.34h0M65.35 412.9h0M71.67 427.38h0M66.18 416.97h0M71.62 427.18h0M64.02 411.03h0M74 429.4h0M65.46 425.57h0M72.27 420.91h0M65.33 418.33h0M73.12 427.17h0M65.94 416.86h0M73.68 428.91h0M66.17 425.51h0M72.72 416.13h0M65.58 427.96h0M72.41 427.85h0M64.35 414.52h0M71.81 427.23h0M64.9 427.27h0M73.61 428.46h0M65.38 412.17h0M73.15 417.61h0M64.63 416.62h0M73.63 418.71h0M65.91 424.45h0M73.19 429.41h0M64.61 421.85h0M72.69 416.86h0" stroke="#4169e1" stroke-width="2" stroke-linecap="round" stroke-opacity="0.55" fill="none"/>
<path d="M64.97 411.76h0M72.63 426.93h0M66.02 428.25h0M72.06 428.59h0M66.19 423.48h0M72.03 418.5h0M64.2 419.15h0M71.75 420.69h0M64.23 428.97h0M71.48 418.97h0M66.16 411.13h0M72.61 429.44h0M65.04 426.84h0M72.99 424.51h0M64.79 420.82h0M72.7 415.55h0M64.11 419.3h0M71.68 427.38h0M64.6 426.08h0M71.38 416.68h0M65.18 429.14h0M72.05 427.95h0M64.24 419.79h0M73.59 429.39h0M66.21 419.13h0M72.16 418.91h0M63.96 420.98h0M71.83 417.62h0M64.58 420.74h0M71.88 416.19h0M64.16 409.96h0M73.84 428.36h0M65.72 417.7h0M73.28 418.56h0M64.8 423.78h0M73.24 426.37h0M65.71 427.62h0M72.76 414.85h0M65.08 423.17h0M71.66 428.78h0M64.35 428.66h0M72.82 426.93h0M64.48 427.14h0M71.7 423.22h0M64.88 427.74h0M73 423.29h0" stroke="#4169e1" stroke-width="2" stroke-linecap="round" stroke-opacity="0.55" fill="none"/>
<path d="M60.36 393.73h0M59.84 393.43h0M56.18 428.85h0M59.63 395.56h0M59.87 390.46h0M60.63 410.09h0M60.19 426.37h0M59.66 416.45h0M61.98 428.73h0M56.89 428.67h0M58.93 424.97h0M61.91 411.49h0M56.85 406.9h0M57.9 405.96h0M61.34 410.33h0M59.95 394.9h0M60.42 400.26h0M57.42 394.15h0M58.39 393.18h0M59.12 396.51h0M63.32 428.56h0M61.12 401.05h0M57.98 402.89h0M60.41 421.99h0M58.45 393.7h0M60.1 390.79h0M58.1 395.29h0M60.95 429.21h0M58.56 420.85h0M60.68 426.25h0M61.39 410.75h0M57.37 385.53h0M59.49 385.19h0M61.56 416.72h0M61.42 417h0M57.31 423.31h0M61.9 423.17h0M62.3 424.07h0M60.3 397.41h0M60.51 421.47h0M58.5 396.9h0M63.23 428.62h0M58.42 413.42h0M63.21 428.98h0M59.43 410.23h0M57.34 389.91h0M63.28 425.2h0M60.81 405.71h0M60.72 396.44h0M61.17 415.78h0M61.26 420.1h0M61.75 426.85h0M60.65 419.63h0M57.8 395.1h0M60.55 414.29h0M60.85 410.39h0M60.78 429.35h0M61.46 417.93h0M62.95 426.13h0M62.21 413.53h0M57.39 428.26h0M60.07 402.75h0M61.01 412.64h0M59.76 410.31h0M56.35 427.3h0M61.35 428.33h0M61.21 422.05h0M59.7 387.85h0M75.85 426.6h0M80.55 416.23h0M79.56 407.87h0M80.19 419.82h0M78 412.37h0M77.67 412.7h0M76.65 426h0M77.83 424.09h0M78.1 415.43h0M77.02 415.11h0M80.09 405.62h0M76.08 426.45h0M76.76 426.69h0M76.19 428.53h0M80.74 400.64h0M80.31 400.16h0M75.96 426.48h0M76.42 420.14h0M80.53 428.73h0M77.28 416.28h0M81.95 402.02h0M80.3 398.42h0M75.33 426.92h0M81.03 429.12h0M77.25 420.46h0M80.9 403.08h0M75.23 427.26h0M78.44 420.73h0M77.99 410.23h0M75.38 427.1h0M80.53 402.7h0M75.38 428.03h0M79.44 429.51h0M76.78 426.25h0M75.22 428.96h0M87.69 429.52h0M79.07 402.54h0M79.97 403.98h0M77.24 417.2h0M79.65 400.25h0M80.09 406.85h0M81.13 406.04h0M76.41 420.46h0M77.35 413.83h0M76.64 424.73h0M77.57 413.34h0M79.76 414.67h0M78.82 423.6h0M77.96 425.18h0M76.26 428.98h0M77.53 420.74h0M77.15 427.28h0M76.88 419.31h0M82.56 399.85h0M76.46 421.67h0M81.26 405.62h0M76.91 419.15h0M80.27 412.86h0M79.77 407.34h0M74.5 428.76h0M77.09 421.93h0M78.07 418.45h0M80.4 398.71h0M77.94 411.49h0M83.1 424.69h0M76.11 428.77h0M75.53 427.92h0M44.4 384.04h0M86.59 387.71h0M89.68 400.58h0M82.48 422.65h0M49.55 426.32h0M81.45 389.55h0" stroke="#ee0000" stroke-width="2" stroke-linecap="round" stroke-opacity="0.55" fill="none"/>
<path d="M61.2 419.83h0M59.1 403.55h0M60.62 405.16h0M62.01 427.94h0M59.79 387.3h0M59.44 421.09h0M61.44 418.11h0M60.72 422.29h0M60.29 418.19h0M52.97 429.02h0M56.7 386.2h0M58.33 417.52h0M58.97 415.75h0M58.16 389.99h0M59.7 401.99h0M62.97 428.54h0M57.67 400.6h0M57.97 391.5h0M59.61 396.38h0M58.93 386.39h0M59.04 388.5h0M58.18 392.79h0M61.13 429.36h0M59.18 421.16h0M57.92 415.63h0M58.45 423.4h0M61.16 407.37h0M59.54 388.21h0M58.55 400.03h0M61.32 415.6h0M59.92 397.07h0M60.14 405.99h0M57.18 428.7h0M60.95 426.92h0M62.81 427.81h0M60.42 397.58h0M56.73 383.97h0M61.24 406.43h0M60.97 404.08h0M59.04 396.68h0M56.93 416.39h0M59.51 386.45h0M56.49 405.37h0M58.66 390.39h0M59.05 391.76h0M61.63 425.05h0M59.75 410.7h0M59.93 402.82h0M58.83 408.31h0M57.47 399.53h0M62.9 423.1h0M62.15 417.28h0M61.18 419.04h0M57.96 399.01h0M58.9 412.44h0M59.33 385.37h0M59.29 411.45h0M58.38 423.48h0M55.38 404.24h0M61.49 423.33h0M58.9 394.37h0M60.91 410.52h0M58.8 388.97h0M59.2 388.28h0M58.64 415.65h0M61.98 412.89h0M61.91 422.1h0M59.03 397.88h0M75.79 423.19h0M79.8 412.98h0M82.21 403.97h0M81.19 407.46h0M80.26 424.43h0M75.87 421.38h0M75.66 425.33h0M80.85 428.57h0M80.82 402h0M79.97 401.1h0M77.98 426.6h0M78.38 424.41h0M80.67 424.38h0M81.1 405.4h0M78.54 409.52h0M78.57 429.31h0M80.29 396.99h0M78.8 410.76h0M78.94 409.15h0M75 428.95h0M84.29 401.79h0M76.19 428.71h0M77.54 414.67h0M79.04 406.54h0M80.9 424.15h0M76.59 428.23h0M80.58 412.19h0M77.46 425.16h0M75.51 429.38h0M82.13 427.41h0M78.26 411.31h0M77.23 421.45h0M81.54 398.64h0M75.48 428.23h0M78.51 419.46h0M80.2 421.38h0M77.73 411.18h0M81.88 408.03h0M78.86 415h0M81.19 407.54h0M79.95 404.16h0M79.01 428.91h0M79.64 400.97h0M77.69 415.59h0M76.64 418.95h0M78.18 413.87h0M79.24 412.51h0M78.91 428.65h0M76.2 420.96h0M81.21 408.89h0M78.16 428.28h0M79.71 423.61h0M76.79 415.77h0M78.39 419.05h0M78.71 404.44h0M77.6 418.27h0M76.26 421.09h0M79.3 402.21h0M80.99 397.93h0M76.81 426.18h0M77.25 413.35h0M82.89 402.22h0M77.97 414.04h0M78.49 425.19h0M82.5 403.65h0M78.77 406.52h0M80.77 397.54h0M42.35 406.1h0M86.59 390.29h0M49.55 406.1h0M48.52 415.29h0M85.56 415.29h0M53.66 396.91h0" stroke="#ee0000" stroke-width="2" stroke-linecap="round" stroke-opacity="0.55" fill="none"/>
<path d="M60.05 411.73h0M59.71 394.25h0M59.85 395.33h0M60.02 407.84h0M62.79 428.22h0M59.06 386.07h0M62.26 417.81h0M59.51 385.32h0M55.45 422.58h0M57.52 388.05h0M60.77 424.98h0M58.58 389.14h0M58.07 426.65h0M61.31 426.87h0M61.03 402.22h0M57.47 429.47h0M60.78 406.55h0M58.2 411.16h0M60.6 418.56h0M58.21 387.44h0M62.64 427.29h0M62.54 416.69h0M58.3 415.76h0M59.64 405.81h0M58.25 428.92h0M60.31 395.67h0M58.9 420.54h0M60.22 427.26h0M60.61 412.99h0M57.04 388.85h0M58.72 396.05h0M57.11 384.04h0M60.52 399.04h0M61.94 418.67h0M59.96 400.83h0M61.37 407h0M59.53 395.41h0M55.93 394.17h0M57.54 425.5h0M62.72 423.42h0M62.01 425.15h0M62.78 421.28h0M59.72 390.47h0M58.98 420.37h0M60.01 429.43h0M59.74 396.75h0M60.56 409.09h0M58.21 389.41h0M57.09 385.13h0M58.62 389.4h0M62.22 427.58h0M60.28 405.05h0M60.23 418.37h0M60 428.65h0M59.17 391.18h0M60.42 394.66h0M62.21 421.71h0M60.58 400.23h0M60.7 402.56h0M59.57 394.75h0M60.35 392.15h0M59.44 385.24h0M58.83 398.07h0M60.62 414.3h0M62.38 423.61h0M59.18 423.31h0M57.23 384.87h0M79.22 422.11h0M80.95 413.86h0M77.73 414.51h0M76.04 425.81h0M76.49 424.55h0M77.6 411.44h0M78.47 427.42h0M81.59 404.11h0M79.66 404.4h0M76.66 418.35h0M79.05 413.62h0M79.37 420.43h0M78.06 416.53h0M75.89 423.55h0M77.25 418.79h0M80.62 400.26h0M78.11 410.62h0M79.15 402.66h0M80.2 405.21h0M78.25 416.98h0M75.8 427.9h0M78.45 416.99h0M79.46 404.48h0M78.18 420.76h0M77.99 409.63h0M78.2 423.7h0M78.78 407.03h0M82.75 396.49h0M74.95 426.94h0M78.44 408.64h0M80.95 407.34h0M81.58 396.6h0M75.55 427.63h0M79.48 412.98h0M78.71 415.03h0M79.29 423.18h0M79.31 427.54h0M77.95 422.8h0M80.33 427.68h0M76.72 426.75h0M75.57 428.23h0M79.2 424.14h0M81.2 400.61h0M79.81 401.57h0M83.13 411.31h0M75.05 427.05h0M80.05 408.06h0M78.38 413.44h0M75.19 428.97h0M78.83 410.21h0M82.39 410.77h0M80.8 396.92h0M77.7 426.69h0M79.03 408.27h0M77.86 423.25h0M78.31 412.93h0M79.46 402.94h0M81.48 429.15h0M77.57 420.68h0M80.8 401.39h0M81.04 412.62h0M80.25 402.84h0M78.39 427.06h0M77.56 413.44h0M78.04 424.61h0M79.44 405.47h0M77.42 414.35h0M81.44 428.45h0M104.09 382.93h0M87.62 409.41h0M50.58 412.35h0M51.61 418.97h0M84.53 411.62h0M52.64 402.42h0" stroke="#ee0000" stroke-width="2" stroke-linecap="round" stroke-opacity="0.55" fill="none"/>
<path d="M62.63 428.83h0M63.46 427.45h0M60.77 429.44h0M60.65 396.19h0M62.23 422.12h0M61.99 424.47h0M58.69 393.28h0M58.81 428.75h0M56.57 397.94h0M61.67 427.57h0M59.93 407.88h0M59.92 417.52h0M61.01 402.7h0M59.3 423.02h0M60.09 424.9h0M59.54 390.87h0M61.46 407.82h0M59.64 400.06h0M60.07 410.09h0M57.97 391.72h0M57.55 404.66h0M61.51 417.36h0M62.92 429.37h0M59.23 397.01h0M62.47 423.81h0M58.27 410.76h0M62.38 428.69h0M59.29 425.55h0M60.57 426.02h0M58.47 388.46h0M60.42 396.7h0M55.11 429.33h0M62.8 428.53h0M57.14 405.41h0M59.8 414.66h0M60.77 397.02h0M59.92 429.19h0M60.53 426.16h0M59.85 396.83h0M61.06 402.44h0M62.47 427.79h0M59.81 428.43h0M62.64 426.71h0M59.1 391.01h0M60.59 425.94h0M56.96 397.33h0M59.09 388.4h0M59.18 393.23h0M58.15 387.47h0M60.42 426.02h0M61.52 410.71h0M60.77 413.91h0M59.87 422.53h0M61.05 413.26h0M62.04 416.44h0M61.64 420.32h0M57.94 404.78h0M57.67 384.92h0M57.88 397.95h0M60.33 409.65h0M59.06 387.25h0M57.1 401.84h0M59.73 429.29h0M60.93 419.9h0M60.43 422.74h0M61.9 415.28h0M58.88 384.87h0M77.26 428.05h0M80.96 401.15h0M82.43 397.08h0M77.06 418.07h0M80.24 421.94h0M80.89 399.05h0M77.48 425.02h0M80.49 429.3h0M75.36 426.11h0M78.34 425.51h0M75.83 427.22h0M78.98 405.72h0M78.7 424.7h0M78.69 406.49h0M76.48 418.38h0M80.27 410.67h0M82.09 408.73h0M75.19 426.51h0M77.55 411.25h0M76.12 429.03h0M78.59 412.02h0M84.13 403.52h0M78.22 419.69h0M78.58 421.31h0M81.08 396.45h0M76.95 414.76h0M76.01 425.42h0M82.32 408.1h0M76.61 422.52h0M80.1 428.09h0M75.03 429.4h0M78.53 429.21h0M81.76 405.95h0M77.62 416h0M79.7 398.45h0M78.19 418.73h0M76.87 420.1h0M77.11 416.4h0M80.47 420.5h0M76.5 422.14h0M78.75 415.87h0M78.25 422.6h0M80.65 427.99h0M80.71 412.58h0M75.58 423.32h0M76.18 428.84h0M76.59 417.64h0M78.18 422.74h0M79.24 402.18h0M81.93 398.33h0M77.09 419.98h0M80.29 406.77h0M79.5 399.92h0M82.52 400.96h0M80.01 411.67h0M75.67 423.65h0M79.33 423.04h0M81.23 404.78h0M80.76 420.61h0M81.03 403.53h0M80.21 424.61h0M77.87 412.44h0M80.45 416.92h0M79.65 401.71h0M80.3 403.57h0M83.76 416.2h0M78.21 424.56h0M81.32 404.01h0M102.03 377.42h0M83.51 418.97h0M92.77 403.53h0M46.46 422.65h0M90.71 395.07h0M54.69 391.39h0" stroke="#ee0000" stroke-width="2" stroke-linecap="round" stroke-opacity="0.55" fill="none"/>
<line x1="20.9" y1="429.52" x2="125.2" y2="429.52" stroke="#999" stroke-width="0.4" stroke-dasharray="1,1"/>
<text x="51.7" y="384.5" font-size="3.4" fill="#111" stroke="#111" stroke-width="0.05">ANXA3</text>
<text x="54.5" y="386.8" font-size="3.4" fill="#111" stroke="#111" stroke-width="0.05">CD24</text>
<text x="53" y="391" font-size="3.4" fill="#111" stroke="#111" stroke-width="0.05">KRT19</text>
<text x="56" y="393.5" font-size="3.4" fill="#111" stroke="#111" stroke-width="0.05">LCN2</text>
<text x="47.5" y="397.5" font-size="3.4" fill="#111" stroke="#111" stroke-width="0.05">CXCL8</text>
<text x="56" y="400" font-size="3.4" fill="#111" stroke="#111" stroke-width="0.05">TFF1</text>
<text x="49" y="403.5" font-size="3.4" fill="#111" stroke="#111" stroke-width="0.05">S100A</text>
<text x="54" y="406.5" font-size="3.4" fill="#111" stroke="#111" stroke-width="0.05">MSLN</text>
<text x="47.5" y="410" font-size="3.4" fill="#111" stroke="#111" stroke-width="0.05">PIGR</text>
<text x="51" y="413" font-size="3.4" fill="#111" stroke="#111" stroke-width="0.05">TACSTD</text>
<text x="37" y="418.5" font-size="3.4" fill="#111" stroke="#111" stroke-width="0.05">SLC34</text>
<text x="51" y="418" font-size="3.4" fill="#111" stroke="#111" stroke-width="0.05">WFDC</text>
<text x="58" y="421" font-size="3.4" fill="#111" stroke="#111" stroke-width="0.05">CP</text>
<text x="42" y="423.5" font-size="3.4" fill="#111" stroke="#111" stroke-width="0.05">CLDN</text>
<text x="46" y="426" font-size="3.4" fill="#111" stroke="#111" stroke-width="0.05">ELF3</text>
<text x="57" y="409" font-size="3.4" fill="#111" stroke="#111" stroke-width="0.05">MUC16</text>
<text x="58" y="395" font-size="3.4" fill="#111" stroke="#111" stroke-width="0.05">SPINT</text>
<text x="96" y="374.5" font-size="3.4" fill="#111" stroke="#111" stroke-width="0.05">APOA1</text>
<text x="82.8" y="378.5" font-size="3.4" fill="#111" stroke="#111" stroke-width="0.05">ENO2</text>
<text x="98" y="380.5" font-size="3.4" fill="#111" stroke="#111" stroke-width="0.05">PRG4</text>
<text x="83" y="386" font-size="3.4" fill="#111" stroke="#111" stroke-width="0.05">IGFBP</text>
<text x="76" y="389" font-size="3.4" fill="#111" stroke="#111" stroke-width="0.05">APOE</text>
<text x="96" y="390" font-size="3.4" fill="#111" stroke="#111" stroke-width="0.05">SPP1</text>
<text x="85" y="395" font-size="3.4" fill="#111" stroke="#111" stroke-width="0.05">C1QB</text>
<text x="86" y="398.5" font-size="3.4" fill="#111" stroke="#111" stroke-width="0.05">C1QA</text>
<text x="80" y="401" font-size="3.4" fill="#111" stroke="#111" stroke-width="0.05">CCL</text>
<text x="93" y="401.5" font-size="3.4" fill="#111" stroke="#111" stroke-width="0.05">VIM</text>
<text x="84" y="404.5" font-size="3.4" fill="#111" stroke="#111" stroke-width="0.05">MT2A</text>
<text x="76" y="407" font-size="3.4" fill="#111" stroke="#111" stroke-width="0.05">HLA</text>
<text x="79" y="410" font-size="3.4" fill="#111" stroke="#111" stroke-width="0.05">IFI</text>
<text x="77" y="413" font-size="3.4" fill="#111" stroke="#111" stroke-width="0.05">TYROBP</text>
<text x="78" y="417" font-size="3.4" fill="#111" stroke="#111" stroke-width="0.05">CD74</text>
<text x="89" y="420.5" font-size="3.4" fill="#111" stroke="#111" stroke-width="0.05">CXCL10</text>
<text x="77" y="421" font-size="3.4" fill="#111" stroke="#111" stroke-width="0.05">CD68</text>
<line x1="20.9" y1="370.8" x2="20.9" y2="433" stroke="#333" stroke-width="0.7"/>
<line x1="20.9" y1="433" x2="125.2" y2="433" stroke="#333" stroke-width="0.7"/>
<line x1="19.3" y1="430" x2="20.9" y2="430" stroke="#333" stroke-width="0.6"/>
<text x="17.8" y="431.7" font-size="4.8" text-anchor="end" fill="#4d4d4d" stroke="#4d4d4d" stroke-width="0.07">0</text>
<line x1="19.3" y1="411.62" x2="20.9" y2="411.62" stroke="#333" stroke-width="0.6"/>
<text x="17.8" y="413.31" font-size="4.8" text-anchor="end" fill="#4d4d4d" stroke="#4d4d4d" stroke-width="0.07">50</text>
<line x1="19.3" y1="393.23" x2="20.9" y2="393.23" stroke="#333" stroke-width="0.6"/>
<text x="17.8" y="394.93" font-size="4.8" text-anchor="end" fill="#4d4d4d" stroke="#4d4d4d" stroke-width="0.07">100</text>
<line x1="19.3" y1="374.85" x2="20.9" y2="374.85" stroke="#333" stroke-width="0.6"/>
<text x="17.8" y="376.55" font-size="4.8" text-anchor="end" fill="#4d4d4d" stroke="#4d4d4d" stroke-width="0.07">150</text>
<line x1="43.38" y1="433" x2="43.38" y2="434.6" stroke="#333" stroke-width="0.6"/>
<text x="43.38" y="439.9" font-size="4.8" text-anchor="middle" fill="#4d4d4d" stroke="#4d4d4d" stroke-width="0.07">−2.5</text>
<line x1="69.1" y1="433" x2="69.1" y2="434.6" stroke="#333" stroke-width="0.6"/>
<text x="69.1" y="439.9" font-size="4.8" text-anchor="middle" fill="#4d4d4d" stroke="#4d4d4d" stroke-width="0.07">0.0</text>
<line x1="94.82" y1="433" x2="94.82" y2="434.6" stroke="#333" stroke-width="0.6"/>
<text x="94.82" y="439.9" font-size="4.8" text-anchor="middle" fill="#4d4d4d" stroke="#4d4d4d" stroke-width="0.07">2.5</text>
<line x1="120.55" y1="433" x2="120.55" y2="434.6" stroke="#333" stroke-width="0.6"/>
<text x="120.55" y="439.9" font-size="4.8" text-anchor="middle" fill="#4d4d4d" stroke="#4d4d4d" stroke-width="0.07">5.0</text>
<text transform="translate(8.2 401) rotate(-90)" font-size="5.4" text-anchor="middle">−Log<tspan font-size="3.5" dy="1.2">10</tspan><tspan dy="-1.2"> P</tspan></text>
<text x="72.5" y="445.9" font-size="5.4" text-anchor="middle">Log<tspan font-size="3.5" dy="1.2">2</tspan><tspan dy="-1.2"> fold change</tspan></text>
<text x="125.2" y="452.7" font-size="3.6" text-anchor="end" fill="#222" stroke="#222" stroke-width="0.05">total = 1300 variables</text>
<text transform="translate(257.4 335.5) scale(0.89 1)" font-size="12.4" font-weight="bold">H</text>
<ellipse cx="350.86" cy="396.94" rx="53.69" ry="30.68" transform="rotate(-45 350.86 396.94)" fill="#7fff00" fill-opacity="0.5"/>
<ellipse cx="304.84" cy="396.94" rx="53.69" ry="30.68" transform="rotate(45 304.84 396.94)" fill="#ff0000" fill-opacity="0.5"/>
<ellipse cx="327.85" cy="381.6" rx="53.69" ry="23.01" transform="rotate(-45 327.85 381.6)" fill="#7f00ff" fill-opacity="0.5"/>
<ellipse cx="327.85" cy="381.6" rx="53.69" ry="23.01" transform="rotate(45 327.85 381.6)" fill="#00ffff" fill-opacity="0.5"/>
<text x="303.8" y="350.8" font-size="4.8" text-anchor="middle" fill="#222" font-family='"Liberation Serif", serif' stroke="#222" stroke-width="0.07">1138</text>
<text x="350.5" y="350.8" font-size="4.8" text-anchor="middle" fill="#222" font-family='"Liberation Serif", serif' stroke="#222" stroke-width="0.07">183</text>
<text x="275.6" y="380.3" font-size="4.8" text-anchor="middle" fill="#222" font-family='"Liberation Serif", serif' stroke="#222" stroke-width="0.07">326</text>
<text x="376.9" y="380.3" font-size="4.8" text-anchor="middle" fill="#222" font-family='"Liberation Serif", serif' stroke="#222" stroke-width="0.07">96</text>
<text x="296.9" y="366.2" font-size="4.8" text-anchor="middle" fill="#222" font-family='"Liberation Serif", serif' stroke="#222" stroke-width="0.07">21</text>
<text x="326.4" y="363.6" font-size="4.8" text-anchor="middle" fill="#222" font-family='"Liberation Serif", serif' stroke="#222" stroke-width="0.07">26</text>
<text x="356.4" y="366.2" font-size="4.8" text-anchor="middle" fill="#222" font-family='"Liberation Serif", serif' stroke="#222" stroke-width="0.07">4</text>
<text x="311" y="380.3" font-size="4.8" text-anchor="middle" fill="#222" font-family='"Liberation Serif", serif' stroke="#222" stroke-width="0.07">0</text>
<text x="342.3" y="380.3" font-size="4.8" text-anchor="middle" fill="#222" font-family='"Liberation Serif", serif' stroke="#222" stroke-width="0.07">2</text>
<text x="326.9" y="397.8" font-size="4.8" text-anchor="middle" fill="#222" font-family='"Liberation Serif", serif' stroke="#222" stroke-width="0.07">4</text>
<text x="298.2" y="406" font-size="4.8" text-anchor="middle" fill="#222" font-family='"Liberation Serif", serif' stroke="#222" stroke-width="0.07">2</text>
<text x="355.1" y="406" font-size="4.8" text-anchor="middle" fill="#222" font-family='"Liberation Serif", serif' stroke="#222" stroke-width="0.07">10</text>
<text x="315.4" y="411.6" font-size="4.8" text-anchor="middle" fill="#222" font-family='"Liberation Serif", serif' stroke="#222" stroke-width="0.07">4</text>
<text x="338.5" y="411.6" font-size="4.8" text-anchor="middle" fill="#222" font-family='"Liberation Serif", serif' stroke="#222" stroke-width="0.07">21</text>
<text x="326.9" y="427.8" font-size="4.8" text-anchor="middle" fill="#222" font-family='"Liberation Serif", serif' stroke="#222" stroke-width="0.07">184</text>
<text x="271.4" y="350.2" font-size="4.75" text-anchor="middle" fill="#444" font-family='"Liberation Serif", serif' stroke="#444" stroke-width="0.07">diff_CAFs</text>
<text x="303.6" y="334.2" font-size="4.75" text-anchor="middle" fill="#444" font-family='"Liberation Serif", serif' stroke="#444" stroke-width="0.07">diff_RNA-seq</text>
<text x="350.2" y="334.2" font-size="4.75" text-anchor="middle" fill="#444" font-family='"Liberation Serif", serif' stroke="#444" stroke-width="0.07">Genecards</text>
<text x="381" y="344.4" font-size="4.75" text-anchor="middle" fill="#444" font-family='"Liberation Serif", serif' stroke="#444" stroke-width="0.07">diff_Epithelial</text>
<text x="380.9" y="349.6" font-size="4.75" text-anchor="middle" fill="#444" font-family='"Liberation Serif", serif' stroke="#444" stroke-width="0.07">cells</text>
<circle cx="326.9" cy="395.4" r="6.4" fill="none" stroke="#000" stroke-width="0.8"/>
<line x1="322.5" y1="400" x2="282" y2="431.2" stroke="#000" stroke-width="0.8"/>
<path d="M278.6 433.2L282.6 428.4L284.3 431.4Z" fill="#000"/>
<text transform="translate(404.9 335.7) scale(1 1)" font-size="12.1" font-weight="bold">I</text>
<rect x="430.4" y="362.83" width="13.7" height="81.97" fill="#b3f4dd"/>
<rect x="451" y="423.42" width="13.6" height="21.38" fill="#92bdf8"/>
<rect x="471.4" y="428.76" width="13.5" height="16.04" fill="#b3f4dd"/>
<rect x="491.6" y="373.52" width="13.7" height="71.28" fill="#92bdf8"/>
<line x1="423.6" y1="355.2" x2="423.6" y2="445.4" stroke="#111" stroke-width="1.2"/>
<line x1="423" y1="444.8" x2="512.6" y2="444.8" stroke="#111" stroke-width="1.2"/>
<line x1="420" y1="444.8" x2="423.6" y2="444.8" stroke="#111" stroke-width="1.1"/>
<text x="419.3" y="447.3" font-size="7" text-anchor="end" font-weight="bold" fill="#111">0</text>
<line x1="420" y1="426.98" x2="423.6" y2="426.98" stroke="#111" stroke-width="1.1"/>
<text x="419.3" y="429.48" font-size="7" text-anchor="end" font-weight="bold" fill="#111">1</text>
<line x1="420" y1="409.16" x2="423.6" y2="409.16" stroke="#111" stroke-width="1.1"/>
<text x="419.3" y="411.66" font-size="7" text-anchor="end" font-weight="bold" fill="#111">2</text>
<line x1="420" y1="391.34" x2="423.6" y2="391.34" stroke="#111" stroke-width="1.1"/>
<text x="419.3" y="393.84" font-size="7" text-anchor="end" font-weight="bold" fill="#111">3</text>
<line x1="420" y1="373.52" x2="423.6" y2="373.52" stroke="#111" stroke-width="1.1"/>
<text x="419.3" y="376.02" font-size="7" text-anchor="end" font-weight="bold" fill="#111">4</text>
<line x1="420" y1="355.7" x2="423.6" y2="355.7" stroke="#111" stroke-width="1.1"/>
<text x="419.3" y="358.2" font-size="7" text-anchor="end" font-weight="bold" fill="#111">5</text>
<line x1="437.3" y1="444.8" x2="437.3" y2="448" stroke="#111" stroke-width="1.1"/>
<line x1="457.7" y1="444.8" x2="457.7" y2="448" stroke="#111" stroke-width="1.1"/>
<line x1="478.1" y1="444.8" x2="478.1" y2="448" stroke="#111" stroke-width="1.1"/>
<line x1="498.6" y1="444.8" x2="498.6" y2="448" stroke="#111" stroke-width="1.1"/>
<text x="439.3" y="455.3" font-size="6.9" text-anchor="end" font-weight="bold" fill="#111" transform="rotate(-28 439.3 455.3)">SLC2A1</text>
<text x="459.7" y="455.3" font-size="6.9" text-anchor="end" font-weight="bold" fill="#111" transform="rotate(-28 459.7 455.3)">KRT18</text>
<text x="480.1" y="455.3" font-size="6.9" text-anchor="end" font-weight="bold" fill="#111" transform="rotate(-28 480.1 455.3)">KRT8</text>
<text x="500.6" y="455.3" font-size="6.9" text-anchor="end" font-weight="bold" fill="#111" transform="rotate(-28 500.6 455.3)">HK2</text>
<text x="409.8" y="399.9" font-size="7.4" text-anchor="middle" font-weight="bold" fill="#111" transform="rotate(-90 409.8 399.9)">Relevance score</text>
<text transform="translate(523.1 335.6) scale(1 1)" font-size="11" font-weight="bold">J</text>
<rect x="545.9" y="426.98" width="9.4" height="17.82" fill="#b5f5dd"/>
<rect x="559.9" y="388.67" width="9.2" height="56.13" fill="#8fbef7"/>
<line x1="564.5" y1="374.77" x2="564.5" y2="402.57" stroke="#5b9bea" stroke-width="0.7"/>
<line x1="562.7" y1="374.77" x2="566.3" y2="374.77" stroke="#5b9bea" stroke-width="0.7"/>
<circle cx="547.7" cy="427.16" r="1.45" fill="#13905a"/>
<circle cx="550.2" cy="426.09" r="1.45" fill="#13905a"/>
<circle cx="553.8" cy="427.16" r="1.45" fill="#13905a"/>
<rect x="563.25" y="373.16" width="2.5" height="2.5" fill="#5b9bea"/>
<rect x="563.25" y="391.87" width="2.5" height="2.5" fill="#5b9bea"/>
<rect x="563.25" y="398.11" width="2.5" height="2.5" fill="#5b9bea"/>
<rect x="582.9" y="426.98" width="9.2" height="17.82" fill="#b5f5dd"/>
<rect x="596.9" y="419.5" width="9" height="25.3" fill="#8fbef7"/>
<line x1="601.4" y1="415.93" x2="601.4" y2="423.06" stroke="#5b9bea" stroke-width="0.7"/>
<line x1="599.6" y1="415.93" x2="603.2" y2="415.93" stroke="#5b9bea" stroke-width="0.7"/>
<circle cx="584.6" cy="427.16" r="1.45" fill="#13905a"/>
<circle cx="587.1" cy="426.09" r="1.45" fill="#13905a"/>
<circle cx="590.7" cy="427.16" r="1.45" fill="#13905a"/>
<rect x="600.15" y="415.04" width="2.5" height="2.5" fill="#5b9bea"/>
<rect x="600.15" y="418.6" width="2.5" height="2.5" fill="#5b9bea"/>
<rect x="600.15" y="420.38" width="2.5" height="2.5" fill="#5b9bea"/>
<rect x="619.6" y="426.98" width="9.4" height="17.82" fill="#b5f5dd"/>
<rect x="633" y="411.48" width="9.6" height="33.32" fill="#8fbef7"/>
<line x1="637.8" y1="410.94" x2="637.8" y2="412.01" stroke="#5b9bea" stroke-width="0.7"/>
<line x1="636" y1="410.94" x2="639.6" y2="410.94" stroke="#5b9bea" stroke-width="0.7"/>
<circle cx="621.4" cy="427.16" r="1.45" fill="#13905a"/>
<circle cx="623.9" cy="426.09" r="1.45" fill="#13905a"/>
<circle cx="627.5" cy="427.16" r="1.45" fill="#13905a"/>
<rect x="633.95" y="410.05" width="2.5" height="2.5" fill="#5b9bea"/>
<rect x="636.55" y="410.58" width="2.5" height="2.5" fill="#5b9bea"/>
<rect x="639.15" y="410.4" width="2.5" height="2.5" fill="#5b9bea"/>
<rect x="656.5" y="426.98" width="9.5" height="17.82" fill="#b5f5dd"/>
<rect x="670.4" y="420.21" width="9.2" height="24.59" fill="#8fbef7"/>
<line x1="675" y1="418.6" x2="675" y2="421.81" stroke="#5b9bea" stroke-width="0.7"/>
<line x1="673.2" y1="418.6" x2="676.8" y2="418.6" stroke="#5b9bea" stroke-width="0.7"/>
<circle cx="658.35" cy="427.16" r="1.45" fill="#13905a"/>
<circle cx="660.85" cy="426.09" r="1.45" fill="#13905a"/>
<circle cx="664.45" cy="427.16" r="1.45" fill="#13905a"/>
<rect x="671.15" y="417.18" width="2.5" height="2.5" fill="#5b9bea"/>
<rect x="673.75" y="419.67" width="2.5" height="2.5" fill="#5b9bea"/>
<rect x="676.35" y="420.38" width="2.5" height="2.5" fill="#5b9bea"/>
<line x1="541.6" y1="355.2" x2="541.6" y2="445.4" stroke="#111" stroke-width="1.2"/>
<line x1="541" y1="444.8" x2="685" y2="444.8" stroke="#111" stroke-width="1.2"/>
<line x1="537" y1="444.8" x2="541.6" y2="444.8" stroke="#111" stroke-width="1.1"/>
<text x="535.9" y="447.25" font-size="6.8" text-anchor="end" fill="#111">0</text>
<line x1="537" y1="426.98" x2="541.6" y2="426.98" stroke="#111" stroke-width="1.1"/>
<text x="535.9" y="429.43" font-size="6.8" text-anchor="end" fill="#111">1</text>
<line x1="537" y1="409.16" x2="541.6" y2="409.16" stroke="#111" stroke-width="1.1"/>
<text x="535.9" y="411.61" font-size="6.8" text-anchor="end" fill="#111">2</text>
<line x1="537" y1="391.34" x2="541.6" y2="391.34" stroke="#111" stroke-width="1.1"/>
<text x="535.9" y="393.79" font-size="6.8" text-anchor="end" fill="#111">3</text>
<line x1="537" y1="373.52" x2="541.6" y2="373.52" stroke="#111" stroke-width="1.1"/>
<text x="535.9" y="375.97" font-size="6.8" text-anchor="end" fill="#111">4</text>
<line x1="537" y1="355.7" x2="541.6" y2="355.7" stroke="#111" stroke-width="1.1"/>
<text x="535.9" y="358.15" font-size="6.8" text-anchor="end" fill="#111">5</text>
<line x1="556.9" y1="444.8" x2="556.9" y2="448" stroke="#111" stroke-width="1.1"/>
<line x1="594.1" y1="444.8" x2="594.1" y2="448" stroke="#111" stroke-width="1.1"/>
<line x1="630.9" y1="444.8" x2="630.9" y2="448" stroke="#111" stroke-width="1.1"/>
<line x1="667.5" y1="444.8" x2="667.5" y2="448" stroke="#111" stroke-width="1.1"/>
<text x="557.35" y="456.3" font-size="7.2" text-anchor="middle" font-weight="bold" fill="#111" textLength="26.3" lengthAdjust="spacingAndGlyphs">SLC2A1</text>
<text x="594.55" y="456.3" font-size="7.2" text-anchor="middle" font-weight="bold" fill="#111" textLength="21.9" lengthAdjust="spacingAndGlyphs">KRT18</text>
<text x="631.35" y="456.3" font-size="7.2" text-anchor="middle" font-weight="bold" fill="#111" textLength="17.5" lengthAdjust="spacingAndGlyphs">KRT8</text>
<text x="668.15" y="456.3" font-size="7.2" text-anchor="middle" font-weight="bold" fill="#111" textLength="13.1" lengthAdjust="spacingAndGlyphs">HK2</text>
<text x="528.2" y="399.7" font-size="7.3" text-anchor="middle" font-weight="bold" fill="#111" transform="rotate(-90 528.2 399.7)">The expression levels</text>
<path d="M550.3 421.2V364.4H564.6V369.7" fill="none" stroke="#111" stroke-width="0.95"/>
<text x="544.4" y="359.8" font-size="7.6" fill="#111" textLength="26" lengthAdjust="spacingAndGlyphs">&lt;0.0001</text>
<path d="M587.7 420.7V410H601.6V412.4" fill="none" stroke="#111" stroke-width="0.95"/>
<text x="582.7" y="405.6" font-size="7.6" fill="#111" textLength="23.6" lengthAdjust="spacingAndGlyphs">0.0259</text>
<path d="M622.5 421.2V404.4H637.5V408.2" fill="none" stroke="#111" stroke-width="0.95"/>
<text x="618.9" y="400.6" font-size="7.6" fill="#111" textLength="22.4" lengthAdjust="spacingAndGlyphs">0.0077</text>
<path d="M658.1 415.6V411.6H675.1V414" fill="none" stroke="#111" stroke-width="0.95"/>
<text x="654.7" y="407.4" font-size="7.6" fill="#111" textLength="22.7" lengthAdjust="spacingAndGlyphs">0.0269</text>
<circle cx="643.1" cy="357.8" r="1.3" fill="#13905a"/>
<rect x="641.85" y="368.85" width="2.5" height="2.5" fill="#5b9bea"/>
<text x="653.2" y="360.5" font-size="7.4" fill="#111" textLength="22.4" lengthAdjust="spacingAndGlyphs">normal</text>
<text x="653.2" y="372.8" font-size="7.4" fill="#111">OC</text>
</svg></body></html>
